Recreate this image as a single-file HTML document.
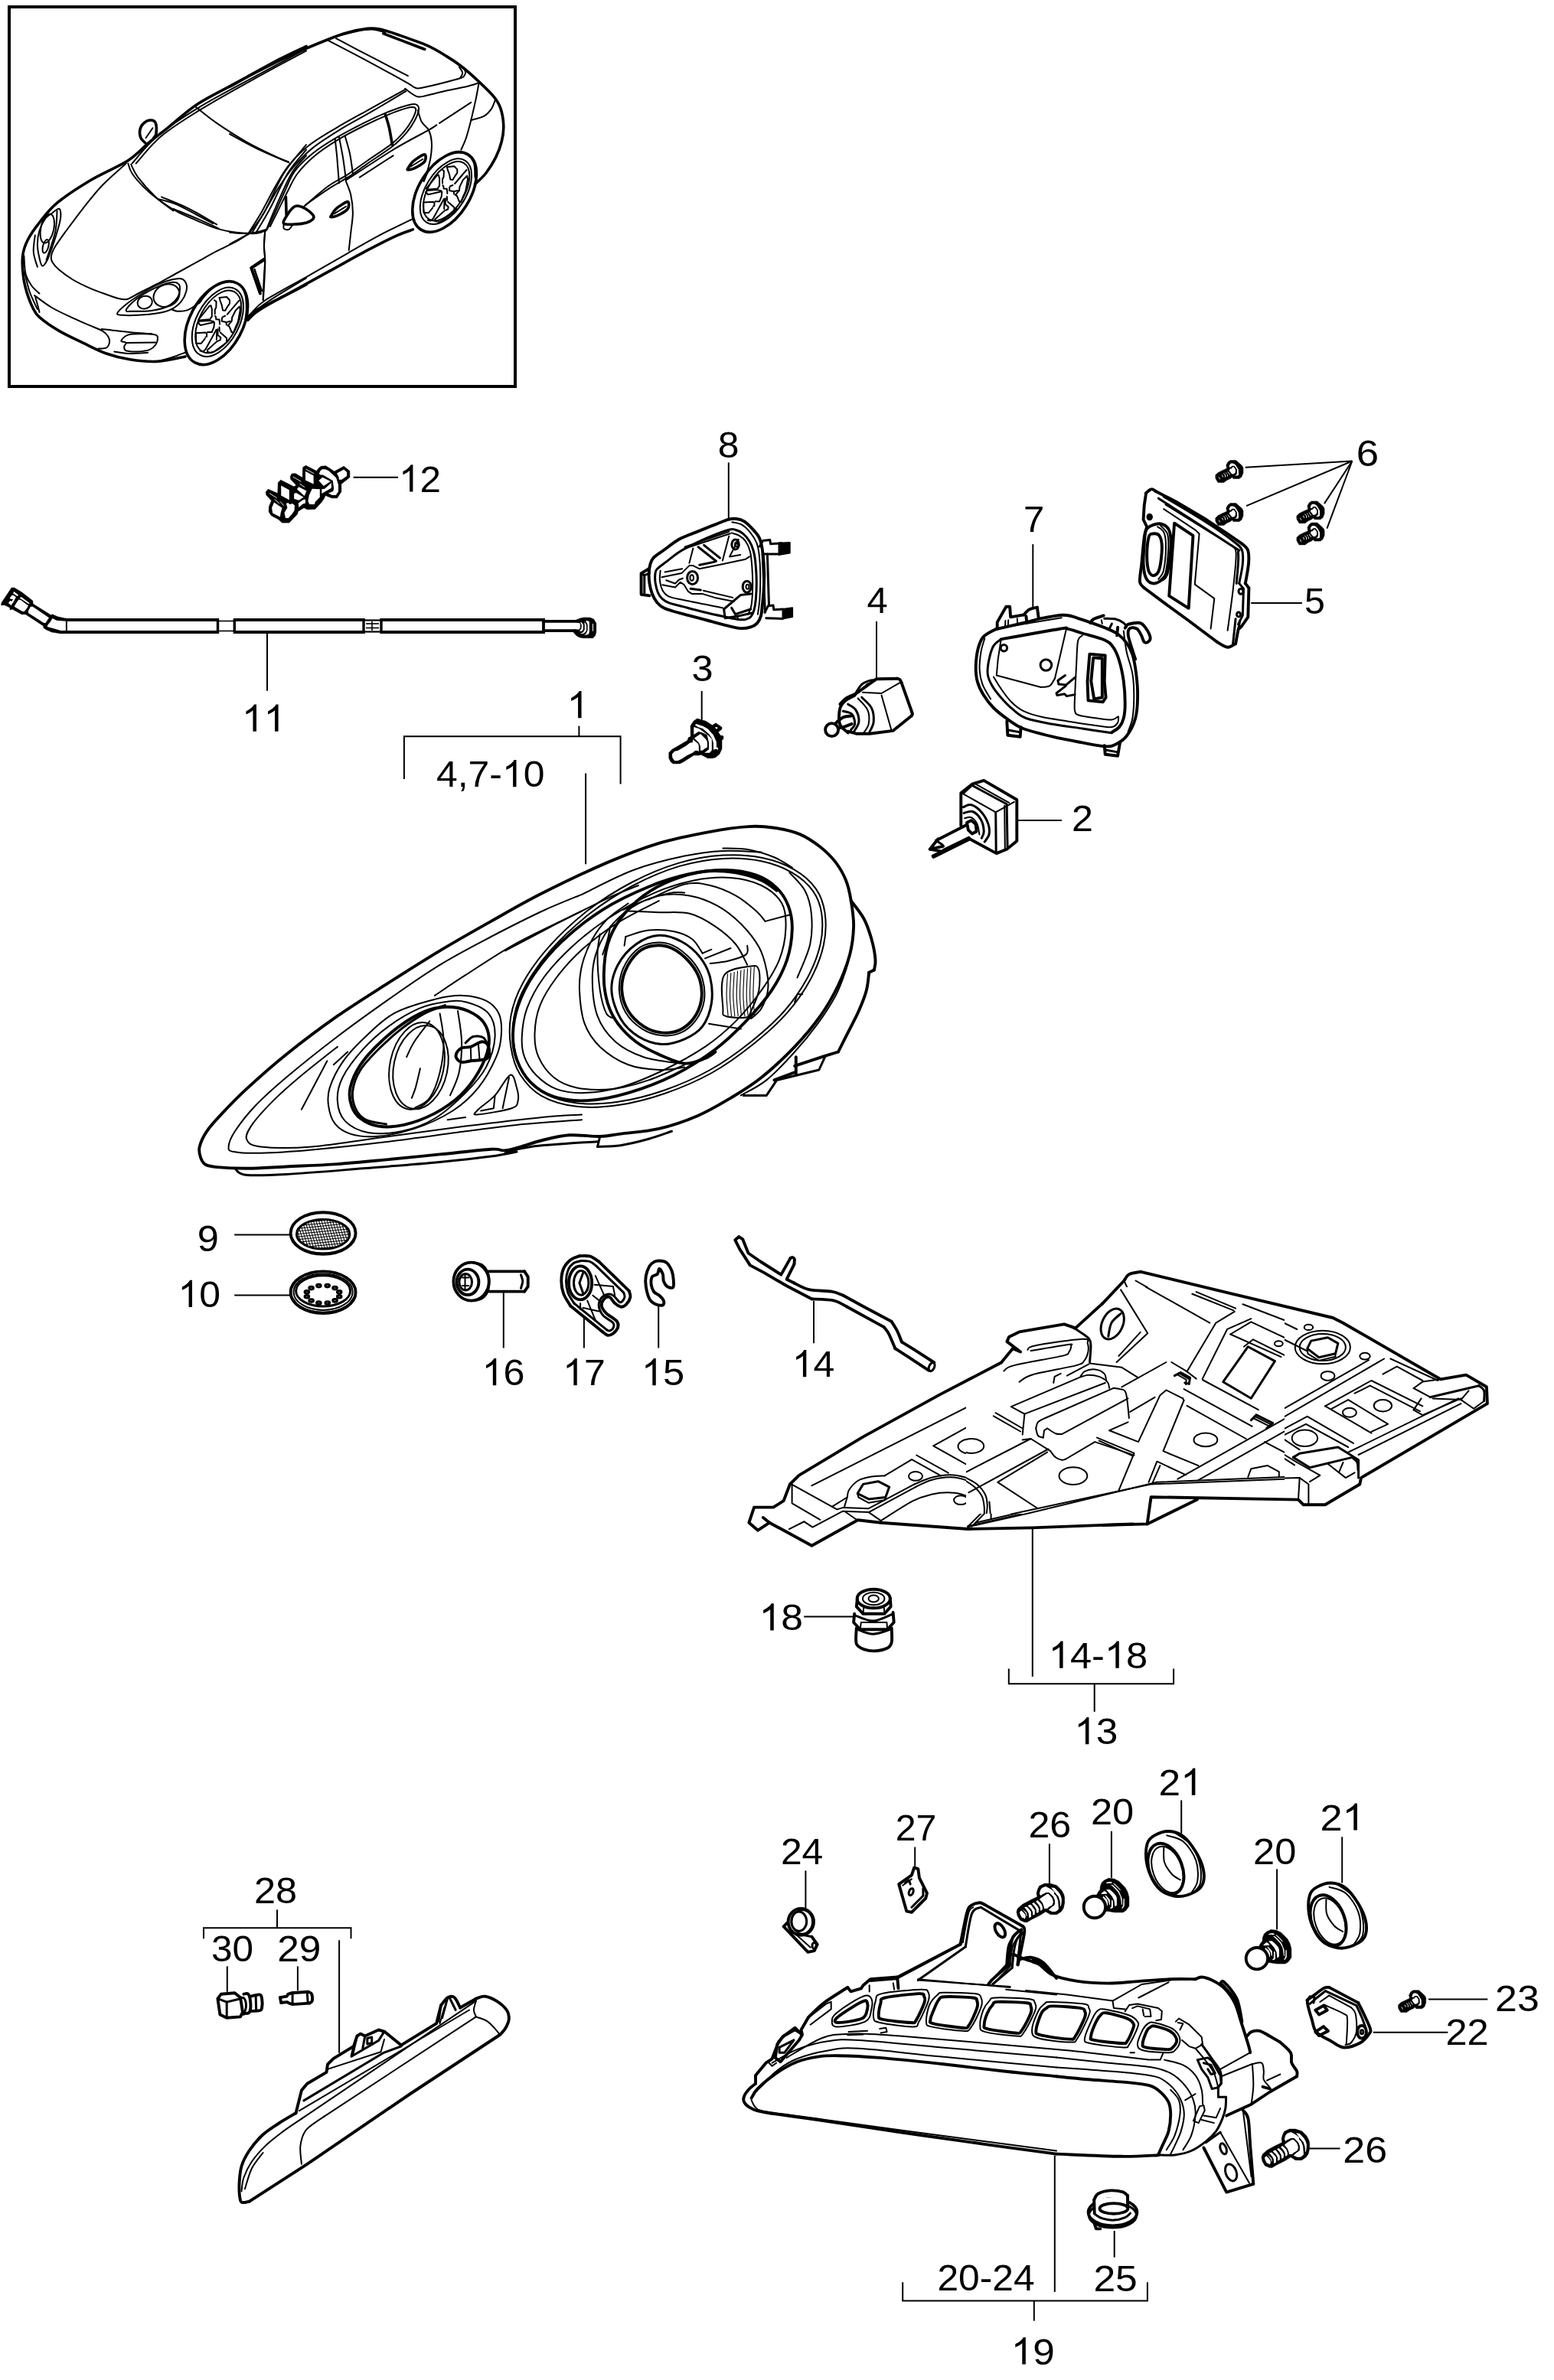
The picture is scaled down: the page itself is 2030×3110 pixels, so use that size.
<!DOCTYPE html>
<html><head><meta charset="utf-8"><title>diagram</title>
<style>html,body{margin:0;padding:0;background:#fff}svg{display:block}
text{font-family:"Liberation Sans",sans-serif;fill:#000}
path,ellipse{stroke-linecap:round;stroke-linejoin:round}</style></head>
<body><svg width="2030" height="3110" viewBox="0 0 2030 3110">
<rect width="2030" height="3110" fill="#fff"/>
<rect x="12" y="9" width="661" height="496" fill="none" stroke="#000" stroke-width="4"/>
<path d="M400 60.5 C394.3 63.3 380.7 69.3 365.5 77.2 C350.3 85.2 326.9 98.2 308.9 108.1 C290.9 118 272.4 126.6 257.4 136.4 C242.4 146.3 229.1 159.2 218.8 167.3 C208.5 175.5 204.2 178.2 195.6 185.3 C187 192.4 180.2 201.4 167.3 209.8 C154.4 218.1 133.8 226.3 118.4 235.5 C103 244.7 85.8 255.9 74.6 265.1 C63.5 274.3 57.9 282.7 51.5 290.9 C45 299 39.7 306.7 36 314 C32.4 321.3 30.5 326.9 29.6 334.6 C28.7 342.3 29.5 352.6 30.4 360.4 C31.2 368.1 32.7 374.1 34.7 381 C36.8 387.8 39.7 396 42.5 401.5 C45.3 407.1 45.7 409.3 51.5 414.4 C57.3 419.6 67.8 426.9 77.2 432.4 C86.7 438 97.8 442.9 108.1 447.9 C118.4 452.8 128.7 458.4 139 462 C149.3 465.7 158.7 468 169.9 469.8 C181 471.5 193.9 473 205.9 472.3 C217.9 471.7 236 467 242 465.9" fill="none" stroke="#000" stroke-width="3.6"/>
<path d="M400 63.8 C389.1 69.7 358 86.4 334.6 99.1 C311.3 111.8 281.4 127.2 260 140.3 C238.5 153.4 220.5 165.4 205.9 177.6 C191.3 189.8 178 207.6 172.5 213.6" fill="none" stroke="#000" stroke-width="2.0"/>
<path d="M400 66.4 C389.1 72.3 357.5 88.9 334.6 101.7 C311.7 114.4 283.1 130.2 262.5 142.9 C242 155.5 225.2 165.8 211.1 177.6 C196.9 189.4 183.2 207.6 177.6 213.6" fill="none" stroke="#000" stroke-width="2.0"/>
<path d="M254.8 139 C259.5 142.6 272 153.2 283.1 160.9 C294.3 168.6 308.9 178 321.8 185.3 C334.6 192.6 351.1 200.3 360.4 204.6 C369.6 209 374.3 210.4 377.1 211.6" fill="none" stroke="#000" stroke-width="2.0"/>
<path d="M400 189.2 C395.1 195.4 379.8 211.7 370.7 226.5 C361.5 241.3 352.6 264.7 344.9 278 C337.2 291.3 327.8 301.6 324.3 306.3" fill="none" stroke="#000" stroke-width="2.0"/>
<path d="M400 203.3 C396.8 207.2 387.6 215.4 381 226.5 C374.3 237.7 365.9 257.8 360.4 270.3 C354.8 282.7 349.6 296 347.5 301.2" fill="none" stroke="#000" stroke-width="2.0"/>
<path d="M400 195.6 C396 200.8 383.7 213.6 375.8 226.5 C367.9 239.4 359.5 260 352.6 272.8 C345.8 285.7 337.6 298.6 334.6 303.7" fill="none" stroke="#000" stroke-width="2.0"/>
<path d="M167.3 213.6 C168.2 215.8 169 221.4 172.5 226.5 C175.9 231.7 182.3 239 187.9 244.5 C193.5 250.1 198.6 254.6 205.9 260 C213.2 265.3 223.1 272 231.7 276.7 C240.2 281.4 248.8 284.6 257.4 288.3 C266 291.9 274.6 296 283.1 298.6 C291.7 301.2 300.3 302.7 308.9 303.7 C317.5 304.8 328.2 305.4 334.6 305 C341.1 304.6 345.3 301.8 347.5 301.2" fill="none" stroke="#000" stroke-width="2.0"/>
<path d="M171.2 214.9 C172.7 217.7 174.8 224.6 180.2 231.7 C185.5 238.7 195.6 250.1 203.3 257.4 C211.1 264.7 222.7 272.4 226.5 275.4" fill="none" stroke="#000" stroke-width="2.0"/>
<path d="M211.1 257.4 C217.1 260 235.1 266.8 247.1 272.8 C259.1 278.9 277.1 290 283.1 293.4" fill="none" stroke="#000" stroke-width="2.0"/>
<path d="M226.5 272.8 C231.7 275 247.5 281.4 257.4 285.7 C267.3 290 281 296.4 285.7 298.6" fill="none" stroke="#000" stroke-width="2.0"/>
<path d="M205.9 260 C210.2 261.3 219.6 262.3 231.7 267.7 C243.7 273.1 270.3 288.1 278 292.1" fill="none" stroke="#000" stroke-width="2.0"/>
<path d="M164.7 213.6 C159.6 218.4 143.3 232.1 133.8 242 C124.4 251.8 116.3 262.5 108.1 272.8 C100 283.1 91.2 295.2 84.9 303.7 C78.7 312.3 73.8 319.2 70.8 324.3 C67.8 329.5 67.4 331.6 66.9 334.6 C66.5 337.6 66.5 339.3 68.2 342.3 C69.9 345.3 72.7 348.8 77.2 352.6 C81.7 356.5 88.8 361.6 95.2 365.5 C101.7 369.4 108.5 372.6 115.8 375.8 C123.1 379 132.6 382.5 139 384.8 C145.4 387.2 150.2 388.9 154.4 390 C158.7 391 161.9 391.5 164.7 391.2 C167.5 391 170.1 389.1 171.2 388.7" fill="none" stroke="#000" stroke-width="2.0"/>
<path d="M325.6 305 C322.8 306.7 316 311.5 308.9 315.3 C301.8 319.2 291.7 323.7 283.1 328.2 C274.6 332.7 266 337.6 257.4 342.3 C248.8 347.1 240.2 351.8 231.7 356.5 C223.1 361.2 213.6 366.6 205.9 370.7 C198.2 374.7 191.1 377.9 185.3 381 C179.5 384 173.5 387.4 171.2 388.7" fill="none" stroke="#000" stroke-width="2.0"/>
<path d="M66.9 279.3 C69.9 277.1 75.2 272.2 77.2 272.8 C79.3 273.5 79.5 278.9 79.3 283.1 C79.1 287.4 77.6 292.6 75.9 298.6 C74.3 304.6 71.9 312.3 69.5 319.2 C67.1 326 64.1 335 61.8 339.8 C59.4 344.5 57.1 347.9 55.3 347.5 C53.6 347.1 52.6 341.9 51.5 337.2 C50.4 332.5 48.9 325.2 48.9 319.2 C48.9 313.2 49.8 306.7 51.5 301.2 C53.2 295.6 56.6 289.4 59.2 285.7 C61.8 282.1 63.9 281.4 66.9 279.3Z" fill="none" stroke="#000" stroke-width="2.0"/>
<ellipse cx="61.8" cy="298.6" rx="8.5" ry="19.3" transform="rotate(12 61.8 298.6)" fill="none" stroke="#000" stroke-width="2.0"/>
<ellipse cx="59.7" cy="321.8" rx="3.6" ry="9" transform="rotate(15 59.7 321.8)" fill="none" stroke="#000" stroke-width="2.0"/>
<path d="M45.8 307.6 C45.5 311.2 43.2 322.6 43.8 329.5 C44.3 336.3 48 345.6 48.9 348.8" fill="none" stroke="#000" stroke-width="2.0"/>
<path d="M74.6 275.4 C74.2 280.1 74.4 293 72.1 303.7 C69.7 314.5 62.4 333.8 60.5 339.8" fill="none" stroke="#000" stroke-width="2.0"/>
<path d="M153.2 409.3 C154 406.9 159.4 402 164.7 397.7 C170.1 393.4 178.5 387.8 185.3 383.5 C192.2 379.2 199.5 374.9 205.9 371.9 C212.4 368.9 218.8 366.8 223.9 365.5 C229.1 364.2 233.6 363.4 236.8 364.2 C240 365.1 242.2 367.9 243.2 370.7 C244.3 373.4 244.3 377.1 243.2 381 C242.2 384.8 240 390 236.8 393.8 C233.6 397.7 229.1 401.5 223.9 404.1 C218.8 406.7 213.2 408 205.9 409.3 C198.6 410.6 187.9 411.4 180.2 411.8 C172.5 412.3 164.1 412.3 159.6 411.8 C155.1 411.4 152.3 411.6 153.2 409.3Z" fill="none" stroke="#000" stroke-width="2.0"/>
<path d="M164.7 405.4 C165.2 402.8 171.6 396 177.6 391.2 C183.6 386.5 193.5 380.7 200.8 377.1 C208.1 373.4 216 370.4 221.4 369.4 C226.7 368.3 230.7 368.7 232.9 370.7 C235.2 372.6 235.4 377.3 234.7 381 C234.1 384.6 232.2 389.1 229.1 392.5 C226 396 221.8 399.3 216.2 401.5 C210.6 403.8 202.5 405.3 195.6 406.2 C188.8 407 180.2 406.8 175 406.7 C169.9 406.6 164.3 408 164.7 405.4Z" fill="none" stroke="#000" stroke-width="2.0"/>
<ellipse cx="217.5" cy="386.1" rx="17.5" ry="14.2" transform="rotate(-25 217.5 386.1)" fill="none" stroke="#000" stroke-width="2.0"/>
<ellipse cx="189.2" cy="395.1" rx="9.8" ry="8.2" transform="rotate(-20 189.2 395.1)" fill="none" stroke="#000" stroke-width="2.0"/>
<path d="M31.4 334.6 C31.7 338.5 31.8 351.4 33.5 357.8 C35.1 364.2 38.2 368.9 41.2 373.2 C44.2 377.5 49.8 381.8 51.5 383.5" fill="none" stroke="#000" stroke-width="2.0"/>
<path d="M45 386.1 C48.7 388.7 59 396.8 66.9 401.5 C74.9 406.3 84.5 410.6 92.7 414.4 C100.8 418.3 109 421.7 115.8 424.7 C122.7 427.7 129.6 429.9 133.8 432.4 C138.1 435 140.1 437.6 141.6 440.2 C143.1 442.7 143.3 445.5 142.9 447.9 C142.4 450.2 141.4 453 139 454.3 C136.6 455.6 130.4 455.4 128.7 455.6" fill="none" stroke="#000" stroke-width="2.0"/>
<path d="M46.3 388.7 C46.8 390.2 48 394.5 48.9 397.7 C49.8 400.9 51.1 406.3 51.5 408" fill="none" stroke="#000" stroke-width="2.0"/>
<path d="M32.2 355.2 C33.2 359.5 35.8 372.8 38.6 381 C41.4 389.1 47.2 400.3 48.9 404.1" fill="none" stroke="#000" stroke-width="2.0"/>
<path d="M158.3 445.3 C158.7 443.6 162.8 439.1 167.3 437.6 C171.8 436.1 179.3 436.3 185.3 436.3 C191.3 436.3 199.9 436.5 203.3 437.6 C206.8 438.7 205.9 440.6 205.9 442.7 C205.9 444.9 205.1 448.1 203.3 450.5 C201.6 452.8 199.5 455.4 195.6 456.9 C191.8 458.4 185.3 459.2 180.2 459.5 C175 459.7 167.7 459.2 164.7 458.2 C161.7 457.1 162.2 454.7 162.2 453 C162.2 451.3 165.4 449.2 164.7 447.9 C164.1 446.6 157.9 447 158.3 445.3Z" fill="none" stroke="#000" stroke-width="2.0"/>
<path d="M164.7 447.9 L203.3 447.4" fill="none" stroke="#000" stroke-width="2.0"/>
<path d="M132.6 429.9 C136.2 430.3 146.5 431.6 154.4 432.4 C162.4 433.3 172.9 434.4 180.2 435 C187.5 435.6 195.2 436.1 198.2 436.3" fill="none" stroke="#000" stroke-width="2.0"/>
<path d="M149.3 459.5 C152.3 459.9 160 461.8 167.3 462 C174.6 462.2 188.8 461 193.1 460.7" fill="none" stroke="#000" stroke-width="2.0"/>
<path d="M205.9 472.3 C208.9 471.5 217.9 469.1 223.9 467.2 C229.9 465.3 239 461.8 242 460.7" fill="none" stroke="#000" stroke-width="2.0"/>
<path d="M223.9 404.1 C225.2 404.5 228.2 406.5 231.7 406.7 C235.1 406.9 240.2 406.9 244.5 405.4 C248.8 403.9 254.4 399.6 257.4 397.7 C260.4 395.8 261.7 394.5 262.5 393.8" fill="none" stroke="#000" stroke-width="2.0"/>
<path d="M260 396.4 C261.7 394.3 266.4 387.4 270.3 383.5 C274.1 379.7 278 375.8 283.1 373.2 C288.3 370.7 296 368.1 301.2 368.1 C306.3 368.1 310.8 370.2 314 373.2 C317.2 376.2 319.2 381 320.5 386.1 C321.8 391.2 321.8 399 321.8 404.1 C321.8 409.3 320.7 414.8 320.5 417" fill="none" stroke="#000" stroke-width="2.0"/>
<ellipse cx="282.4" cy="422.1" rx="58.7" ry="34.7" transform="rotate(-62 282.4 422.1)" fill="none" stroke="#000" stroke-width="3.6"/>
<ellipse cx="284.4" cy="420.8" rx="48.9" ry="27.8" transform="rotate(-62 284.4 420.8)" fill="none" stroke="#000" stroke-width="2.0"/>
<ellipse cx="285.2" cy="420.3" rx="44.3" ry="24.5" transform="rotate(-62 285.2 420.3)" fill="none" stroke="#000" stroke-width="2.0"/>
<path d="M346.2 302.4 C346 305.7 344.9 315.5 344.9 321.8 C344.9 328 346.2 333.3 346.2 339.8 C346.2 346.2 345.3 351.8 344.9 360.4 C344.5 368.9 343.8 386.1 343.6 391.2" fill="none" stroke="#000" stroke-width="2.0"/>
<path d="M344.9 338.5 L328.2 350.1 L339.8 383.5" fill="none" stroke="#000" stroke-width="3.6"/>
<path d="M332.6 352.1 L342.3 380.4" fill="none" stroke="#000" stroke-width="2.0"/>
<path d="M323.8 418.3 C325.6 416.6 328.5 412.3 334.6 408 C340.7 403.7 349.5 398.5 360.4 392.5 C371.3 386.5 393.4 375.4 400 371.9" fill="none" stroke="#000" stroke-width="3.6"/>
<path d="M332 406.7 C336.8 403.5 349 394.6 360.4 387.4 C371.7 380.2 393.4 367.4 400 363.4" fill="none" stroke="#000" stroke-width="2.0"/>
<path d="M191 187.9 C189.8 186.6 185.4 183.2 184 180.2 C182.7 177.2 182.1 173.1 182.8 169.9 C183.4 166.7 185.5 163 187.9 160.9 C190.3 158.7 194.3 157 196.9 157 C199.5 157 202.2 157.9 203.3 160.9 C204.5 163.9 204.3 171.8 203.9 175 C203.4 178.2 201.3 179.3 200.8 180.2" fill="none" stroke="#000" stroke-width="3.6"/>
<path d="M190.5 180.2 L199.5 167.3" fill="none" stroke="#000" stroke-width="2.0"/>
<path d="M300 113.3 C304.3 110.9 312.9 105.7 325.7 99.1 C338.6 92.4 360.1 81.3 377.2 73.4 C394.4 65.4 415.8 56.6 428.7 51.5 C441.6 46.3 445.9 44.8 454.4 42.5 C463 40.1 473.3 38.1 480.2 37.3 C487 36.6 489.2 36.8 495.6 38.1 C502.1 39.4 508.5 41.5 518.8 45 C529.1 48.6 546.7 54.5 557.4 59.2 C568.1 63.9 575.4 68.6 583.1 73.4 C590.9 78.1 596.9 82.2 603.7 87.5 C610.6 92.9 617.5 99.1 624.3 105.5 C631.2 112 640 120.1 644.9 126.1 C649.8 132.1 651.8 135.1 653.9 141.6 C656.1 148 657.6 157.4 657.8 164.7 C658 172 656.9 178.5 655.2 185.3 C653.5 192.2 650.9 199.1 647.5 205.9 C644.1 212.8 639.1 220.7 634.6 226.5 C630.1 232.3 622.8 238.3 620.5 240.7" fill="none" stroke="#000" stroke-width="3.6"/>
<path d="M439 47.6 C443.3 46.5 457 42.7 464.7 41.2 C472.5 39.7 478.9 38.4 485.3 38.6 C491.8 38.8 500.3 41.8 503.3 42.5" fill="none" stroke="#000" stroke-width="2.0"/>
<path d="M500.8 43.8 C508.1 46.5 535.5 57.1 544.5 60.5 C553.5 63.9 553.1 63.7 554.8 64.4" fill="none" stroke="#000" stroke-width="3.6"/>
<path d="M428.7 52.8 C437.3 57.3 463 70.6 480.2 79.8 C497.3 89 521.4 102.3 531.7 108.1 C542 113.9 538.5 113.5 542 114.5 C545.4 115.6 542.8 116.5 552.3 114.5 C561.7 112.6 589.6 105.5 598.6 103 C607.6 100.4 604.8 100.8 606.3 99.1 C607.8 97.4 608.5 95 607.6 92.7 C606.7 90.3 602.2 86.2 601.2 84.9" fill="none" stroke="#000" stroke-width="2.0"/>
<path d="M439 50.2 C447.6 54.7 474.8 69.1 490.5 77.2 C506.1 85.4 525.9 95.5 532.9 99.1" fill="none" stroke="#000" stroke-width="2.0"/>
<path d="M601.2 101.7 C601.7 100.6 604.5 97.6 604.2 95.2 C604 92.9 600.6 88.8 599.9 87.5" fill="none" stroke="#000" stroke-width="2.0"/>
<path d="M529.1 115.8 C531.7 117.5 539.8 124.6 544.5 126.1 C549.2 127.6 551 126.1 557.4 124.8 C563.8 123.6 574.6 120.3 583.1 118.4 C591.7 116.5 601.8 115 608.9 113.3 C616 111.5 622.8 109 625.6 108.1" fill="none" stroke="#000" stroke-width="2.0"/>
<path d="M625.6 108.1 C625 111.5 623.5 120.5 621.8 128.7 C620 136.9 617.5 148.4 615.3 157 C613.2 165.6 611 173.7 608.9 180.2 C606.7 186.6 603.5 193.1 602.4 195.6" fill="none" stroke="#000" stroke-width="2.0"/>
<path d="M615.3 157 C618.1 156.2 627.5 154.4 632 151.9 C636.6 149.3 639.8 145.4 642.3 141.6 C644.9 137.7 646.6 130.8 647.5 128.7" fill="none" stroke="#000" stroke-width="2.0"/>
<path d="M324.5 305 C327.2 300.5 335.4 288.1 341.2 278 C347 267.9 353.2 254.8 359.2 244.5 C365.2 234.2 369.9 225.2 377.2 216.2 C384.5 207.2 392.7 198.6 403 190.5 C413.3 182.3 426.1 175 439 167.3 C451.9 159.6 465.2 152.5 480.2 144.1 C495.2 135.8 520.9 121.6 529.1 117.1" fill="none" stroke="#000" stroke-width="2.0"/>
<path d="M328.8 305 C331.7 300.1 340.4 285.5 346.3 275.4 C352.3 265.3 358.3 253.9 364.4 244.5 C370.4 235.2 375.1 227.8 382.4 219.3 C389.7 210.8 397.8 201.9 408.1 193.6 C418.4 185.2 431.3 177.3 444.1 169.4 C457 161.4 471 154.3 485.3 145.9 C499.7 137.6 522.9 123.6 530.4 119.2" fill="none" stroke="#000" stroke-width="2.0"/>
<path d="M348.9 299.9 C350.6 296.2 355.3 286.4 359.2 278 C363.1 269.6 367.8 258.7 372.1 249.7 C376.4 240.7 378.9 232.1 384.9 223.9 C390.9 215.8 399.1 208.1 408.1 200.8 C417.1 193.5 427.8 186.8 439 180.2 C450.2 173.5 463.9 166.5 475 160.9 C486.2 155.3 496.5 150.6 505.9 146.7 C515.4 142.9 525.4 139.4 531.7 137.7 C537.9 136 540.7 135.6 543.2 136.4 C545.8 137.3 547.3 139.4 547.1 142.9 C546.9 146.3 544.5 152.1 542 157 C539.4 161.9 536.4 166.9 531.7 172.5 C526.9 178 522.2 183.6 513.6 190.5 C505.1 197.3 490 206.8 480.2 213.6 C470.3 220.5 463 226.1 454.4 231.7 C445.9 237.2 437.9 241.1 428.7 247.1 C419.5 253.1 404 264.3 399.1 267.7" fill="none" stroke="#000" stroke-width="2.0"/>
<path d="M352.8 296 C354.5 292.6 359.2 283.1 363.1 275.4 C366.9 267.7 371.6 257.8 375.9 249.7 C380.2 241.5 383 234.1 388.8 226.5 C394.6 218.9 402.1 211.1 410.7 203.9 C419.3 196.7 429.3 189.9 440.3 183.3 C451.2 176.6 465.2 169.5 476.3 164 C487.5 158.4 498 153.6 507.2 149.8 C516.4 146 526.1 142.6 531.7 141.1 C537.2 139.5 538.7 139.8 540.7 140.3 C542.6 140.8 543.7 141.4 543.2 144.1 C542.8 146.9 540.5 152.6 538.1 157 C535.7 161.4 533.4 165.3 529.1 170.4 C524.8 175.5 520.5 180.8 512.4 187.4 C504.2 194 489.8 203 480.2 209.8 C470.5 216.5 463 222.2 454.4 227.8 C445.9 233.4 438.4 236.2 428.7 243.2 C419 250.3 401.9 265.8 396.5 270.3" fill="none" stroke="#000" stroke-width="2.0"/>
<path d="M437.7 181.5 C438.1 185.5 439.4 196.3 440.3 205.9 C441.1 215.6 442.4 233.8 442.9 239.4" fill="none" stroke="#000" stroke-width="2.0"/>
<path d="M442.9 178.9 C443.7 183.4 446.5 196.7 448 205.9 C449.5 215.1 451.2 229.5 451.9 234.2" fill="none" stroke="#000" stroke-width="2.0"/>
<path d="M450.6 177.6 C451.7 181.5 455.3 192.6 457 200.8 C458.7 208.9 460.2 222.2 460.9 226.5" fill="none" stroke="#000" stroke-width="2.0"/>
<path d="M503.3 149.3 C504.2 152.3 507 160.7 508.5 167.3 C510 174 511.7 185.5 512.4 189.2" fill="none" stroke="#000" stroke-width="3.6"/>
<path d="M451.9 235.5 C462.2 228.9 495.6 206.6 513.6 195.6 C531.7 184.7 550.5 175.2 560 169.9 C569.4 164.5 568.6 164.5 570.3 163.4" fill="none" stroke="#000" stroke-width="2.0"/>
<path d="M469.9 231.7 L513.6 203.3" fill="none" stroke="#000" stroke-width="2.0"/>
<path d="M574.1 160.9 L615.3 133.8" fill="none" stroke="#000" stroke-width="2.0"/>
<path d="M346.3 301.2 C346.1 304.6 345 314.9 345 321.8 C345 328.6 346.3 333.8 346.3 342.3 C346.3 350.9 345.5 364.9 345 373.2 C344.6 381.6 344 389.3 343.8 392.5" fill="none" stroke="#000" stroke-width="2.0"/>
<path d="M451.9 236.8 C452.9 239.8 456.8 248 458.3 254.8 C459.8 261.7 460.9 269.8 460.9 278 C460.9 286.1 459.2 295.6 458.3 303.7 C457.4 311.9 456.2 323 455.7 326.9" fill="none" stroke="#000" stroke-width="2.0"/>
<path d="M545.8 144.1 C546.7 146.7 548.6 155.3 551 159.6 C553.3 163.9 557.8 165.6 560 169.9 C562.1 174.2 563.4 179.3 563.8 185.3 C564.3 191.3 563.6 199.1 562.5 205.9 C561.5 212.8 558.9 221.4 557.4 226.5 C555.9 231.7 554.2 235.1 553.5 236.8" fill="none" stroke="#000" stroke-width="2.0"/>
<path d="M432.6 281.9 C433.6 280.1 435.6 275.8 439 272.8 C442.4 269.8 450.4 264.7 453.2 263.8 C455.9 263 455.7 266 455.7 267.7 C455.7 269.4 455.7 271.8 453.2 274.1 C450.6 276.5 443.7 280.3 440.3 281.9 C436.9 283.4 433.8 283.7 432.6 283.7 C431.3 283.7 431.5 283.7 432.6 281.9Z" fill="none" stroke="#000" stroke-width="3.6"/>
<path d="M436.4 279.3 L451.9 269.8" fill="none" stroke="#000" stroke-width="2.0"/>
<path d="M532.9 220.1 C534 218.3 536 214.1 539.4 211.1 C542.8 208.1 550.8 202.9 553.5 202.1 C556.3 201.2 556.1 204.2 556.1 205.9 C556.1 207.6 556.1 210 553.5 212.4 C551 214.7 544.1 218.5 540.7 220.1 C537.2 221.7 534.2 221.9 532.9 221.9 C531.7 221.9 531.9 221.9 532.9 220.1Z" fill="none" stroke="#000" stroke-width="3.6"/>
<path d="M536.8 217.5 L552.3 208" fill="none" stroke="#000" stroke-width="2.0"/>
<path d="M370.8 292.1 C368.6 290.3 372.7 285.3 374.6 281.9 C376.6 278.4 380 273.7 382.4 271.6 C384.7 269.4 386 268.8 388.8 269 C391.6 269.2 395.7 270.7 399.1 272.8 C402.5 275 407.9 279.5 409.4 281.9 C410.9 284.2 409.6 285.5 408.1 287 C406.6 288.5 403.8 289.9 400.4 290.9 C397 291.8 392.4 292.7 387.5 292.9 C382.6 293.1 372.9 294 370.8 292.1Z" fill="none" stroke="#000" stroke-width="3.6"/>
<path d="M370.8 292.1 C370.8 293.2 369.7 297.3 370.8 298.6 C371.9 299.9 375.3 300.7 377.2 299.9 C379.2 299 381.5 294.5 382.4 293.4" fill="none" stroke="#000" stroke-width="2.0"/>
<path d="M373.4 257.4 L374.1 280.6" fill="none" stroke="#000" stroke-width="3.6"/>
<path d="M300 303.7 C302.6 303.9 309.9 305 315.4 305 C321 305 328.1 304.6 333.5 303.7 C338.8 302.9 345.3 300.5 347.6 299.9" fill="none" stroke="#000" stroke-width="2.0"/>
<path d="M300 319.2 L323.2 306.3" fill="none" stroke="#000" stroke-width="2.0"/>
<path d="M300 175 C306.4 178.5 325.7 189.4 338.6 195.6 C351.5 201.8 370.8 209.6 377.2 212.4" fill="none" stroke="#000" stroke-width="2.0"/>
<path d="M321.9 417 C323.8 415.3 324.2 412.3 333.5 406.7 C342.7 401.1 361.3 392.1 377.2 383.5 C393.1 374.9 411.5 364.7 428.7 355.2 C445.9 345.8 465.2 334.8 480.2 326.9 C495.2 319 508.9 312.1 518.8 307.6 C528.7 303.1 536 301.2 539.4 299.9" fill="none" stroke="#000" stroke-width="3.6"/>
<path d="M328.3 409.3 C331.3 406.5 333.9 400.7 346.3 392.5 C358.8 384.4 384.9 370.7 403 360.4 C421 350.1 439.4 339.3 454.4 330.8 C469.5 322.2 480.2 315.7 493.1 308.9 C505.9 302 523.9 293.4 531.7 289.6 C539.4 285.8 538.1 286.8 539.4 286.2" fill="none" stroke="#000" stroke-width="2.0"/>
<ellipse cx="580.6" cy="251" rx="57.9" ry="33.5" transform="rotate(-58 580.6 251)" fill="none" stroke="#000" stroke-width="3.6"/>
<ellipse cx="582.4" cy="250.2" rx="47.6" ry="26.3" transform="rotate(-58 582.4 250.2)" fill="none" stroke="#000" stroke-width="2.0"/>
<ellipse cx="583.1" cy="249.7" rx="43.2" ry="23.2" transform="rotate(-58 583.1 249.7)" fill="none" stroke="#000" stroke-width="2.0"/>
<path d="M553.5 236.8 C555 233.8 558.5 223.9 562.5 218.8 C566.6 213.6 572.4 209.1 578 205.9 C583.6 202.7 590.4 200.1 596 199.5 C601.6 198.8 607.6 199.7 611.5 202.1 C615.3 204.4 617.7 208.7 619.2 213.6 C620.7 218.6 620.2 228.7 620.5 231.7" fill="none" stroke="#000" stroke-width="2.0"/>
<path d="M345 339.8 L328.3 350.1 L339.9 383.5" fill="none" stroke="#000" stroke-width="3.6"/>
<path d="M332.4 351.6 L341.2 380.4" fill="none" stroke="#000" stroke-width="2.0"/>
<path d="M259.5 417.3 L273.6 399.9 L275.5 399.3 L276.8 403.8 L276.8 413.4 L274.3 417.3 L260.7 418.6 L259.5 417.3" fill="none" stroke="#000" stroke-width="2.0"/>
<path d="M286.5 389 L296.1 388 L300 392.2 L300 396.7 L296.8 401.2 L294.2 405.7 L291 405.4 L289.7 398.6 L287.8 393.5 L286.5 389" fill="none" stroke="#000" stroke-width="2.0"/>
<path d="M280 392.2 L282.6 394.1 L282.3 401.8 L280.7 405 L280.7 410.2" fill="none" stroke="#000" stroke-width="2.0"/>
<path d="M281 412.8 L282 414.1 L282.3 417.3 L286.5 417.6 L287.1 423.7" fill="none" stroke="#000" stroke-width="2.0"/>
<path d="M296.8 410.8 L312.2 392.8" fill="none" stroke="#000" stroke-width="2.0"/>
<path d="M291 414.1 L294.2 412.8" fill="none" stroke="#000" stroke-width="2.0"/>
<path d="M312.9 400.5 L307.7 405.7 L303.2 414.7 L302.6 419.8 L297.4 425.6 L299.4 426.3 L302.6 434 L305.1 434.6 L307.7 427.6 L310.9 420.5 L313.8 405 L312.9 400.5" fill="none" stroke="#000" stroke-width="2.0"/>
<path d="M290 415.3 L289.7 419.8 L295.5 421.1 L300.6 419.8" fill="none" stroke="#000" stroke-width="2.0"/>
<path d="M295.5 421.1 L295.8 424.4" fill="none" stroke="#000" stroke-width="2.0"/>
<path d="M287.8 434.6 L296.1 441.7 L296.1 445.6" fill="none" stroke="#000" stroke-width="2.0"/>
<path d="M286.5 427.6 L286.8 432.7" fill="none" stroke="#000" stroke-width="2.0"/>
<path d="M284.5 430.1 L284.5 437.9 L288.4 441.1 L287.8 444.3 L283.3 446.2 L271 457.2 L271 459.7 L273.6 460.4" fill="none" stroke="#000" stroke-width="2.0"/>
<path d="M255.9 435.3 L268.5 434.6 L270.1 435.9 L270.1 439.8 L268.5 440.4" fill="none" stroke="#000" stroke-width="2.0"/>
<path d="M267.8 442.4 L262.7 448.8 L256.2 448.8 L255.9 435.3" fill="none" stroke="#000" stroke-width="2.0"/>
<path d="M271 434 L276.8 434 L279.4 427.6 L280 421.8 L279.4 421.1 L262 425 L258.8 421.8 L260.7 419.8 L274.3 418.9 L279.4 420.2" fill="none" stroke="#000" stroke-width="2.0"/>
<path d="M282.6 430.8 L276.2 442.4 L268.5 456.5 L265.2 459.4 L261.4 458.5" fill="none" stroke="#000" stroke-width="2.0"/>
<path d="M283.3 431.4 L282.9 443.7" fill="none" stroke="#000" stroke-width="2.0"/>
<path d="M275.5 461 L280 459.4 L296.1 447.5 L299.4 443.7" fill="none" stroke="#000" stroke-width="2.0"/>
<path d="M556.8 246.5 L570.9 229.1 L572.8 228.5 L574.1 233 L574.1 242.6 L571.6 246.5 L558 247.8 L556.8 246.5" fill="none" stroke="#000" stroke-width="2.0"/>
<path d="M583.8 218.2 L593.4 217.2 L597.3 221.4 L597.3 225.9 L594.1 230.4 L591.5 234.9 L588.3 234.6 L587 227.8 L585.1 222.7 L583.8 218.2" fill="none" stroke="#000" stroke-width="2.0"/>
<path d="M577.3 221.4 L579.9 223.3 L579.6 231 L578 234.2 L578 239.4" fill="none" stroke="#000" stroke-width="2.0"/>
<path d="M578.3 242 L579.3 243.3 L579.6 246.5 L583.8 246.8 L584.4 252.9" fill="none" stroke="#000" stroke-width="2.0"/>
<path d="M594.1 240 L609.5 222" fill="none" stroke="#000" stroke-width="2.0"/>
<path d="M588.3 243.3 L591.5 242" fill="none" stroke="#000" stroke-width="2.0"/>
<path d="M610.2 229.7 L605 234.9 L600.5 243.9 L599.9 249 L594.7 254.8 L596.7 255.5 L599.9 263.2 L602.4 263.8 L605 256.8 L608.2 249.7 L611.1 234.2 L610.2 229.7" fill="none" stroke="#000" stroke-width="2.0"/>
<path d="M587.3 244.5 L587 249 L592.8 250.3 L597.9 249" fill="none" stroke="#000" stroke-width="2.0"/>
<path d="M592.8 250.3 L593.1 253.6" fill="none" stroke="#000" stroke-width="2.0"/>
<path d="M585.1 263.8 L593.4 270.9 L593.4 274.8" fill="none" stroke="#000" stroke-width="2.0"/>
<path d="M583.8 256.8 L584.1 261.9" fill="none" stroke="#000" stroke-width="2.0"/>
<path d="M581.8 259.3 L581.8 267.1 L585.7 270.3 L585.1 273.5 L580.6 275.4 L568.3 286.4 L568.3 288.9 L570.9 289.6" fill="none" stroke="#000" stroke-width="2.0"/>
<path d="M553.2 264.5 L565.8 263.8 L567.4 265.1 L567.4 269 L565.8 269.6" fill="none" stroke="#000" stroke-width="2.0"/>
<path d="M565.1 271.6 L560 278 L553.5 278 L553.2 264.5" fill="none" stroke="#000" stroke-width="2.0"/>
<path d="M568.3 263.2 L574.1 263.2 L576.7 256.8 L577.3 251 L576.7 250.3 L559.3 254.2 L556.1 251 L558 249 L571.6 248.1 L576.7 249.4" fill="none" stroke="#000" stroke-width="2.0"/>
<path d="M579.9 260 L573.5 271.6 L565.8 285.7 L562.5 288.6 L558.7 287.7" fill="none" stroke="#000" stroke-width="2.0"/>
<path d="M580.6 260.6 L580.2 272.9" fill="none" stroke="#000" stroke-width="2.0"/>
<path d="M572.8 290.2 L577.3 288.6 L593.4 276.7 L596.7 272.9" fill="none" stroke="#000" stroke-width="2.0"/>
<path d="M763 0H583V1147Q518 1085 412.5 1023Q307 961 223 930V1104Q374 1175 487 1276Q600 1377 647 1472H763Z" fill="#000" stroke="none" transform="translate(740.6 938.3) scale(0.02483 -0.02393)"/>
<text font-size="49" transform="translate(570 1028.2) scale(1.018 1)">4</text><text font-size="49" transform="translate(597.7 1028.2) scale(1.018 1)">,</text><text font-size="49" transform="translate(611.6 1028.2) scale(1.018 1)">7</text><text font-size="49" transform="translate(639.3 1028.2) scale(1.018 1)">-</text><path d="M763 0H583V1147Q518 1085 412.5 1023Q307 961 223 930V1104Q374 1175 487 1276Q600 1377 647 1472H763Z" fill="#000" stroke="none" transform="translate(655.9 1028.2) scale(0.02436 -0.02393)"/><text font-size="49" transform="translate(683.7 1028.2) scale(1.018 1)">0</text>
<path d="M763 0H583V1147Q518 1085 412.5 1023Q307 961 223 930V1104Q374 1175 487 1276Q600 1377 647 1472H763Z" fill="#000" stroke="none" transform="translate(521 642.5) scale(0.02414 -0.02393)"/><text font-size="49" transform="translate(548.4 642.5) scale(1.009 1)">2</text>
<path d="M763 0H583V1147Q518 1085 412.5 1023Q307 961 223 930V1104Q374 1175 487 1276Q600 1377 647 1472H763Z" fill="#000" stroke="none" transform="translate(315.8 955.8) scale(0.02512 -0.02393)"/><path d="M763 0H583V1147Q518 1085 412.5 1023Q307 961 223 930V1104Q374 1175 487 1276Q600 1377 647 1472H763Z" fill="#000" stroke="none" transform="translate(344.4 955.8) scale(0.02512 -0.02393)"/>
<text font-size="49" transform="translate(937.7 597.5) scale(1.017 1)">8</text>
<text font-size="49" transform="translate(903.5 889.8) scale(1.03 1)">3</text>
<text font-size="49" transform="translate(1132.4 800.7) scale(1.0 1)">4</text>
<text font-size="49" transform="translate(1337 694.9) scale(1.0 1)">7</text>
<text font-size="49" transform="translate(1771.8 609) scale(1.077 1)">6</text>
<text font-size="49" transform="translate(1704 801.8) scale(0.987 1)">5</text>
<text font-size="49" transform="translate(1400 1086) scale(1.026 1)">2</text>
<text font-size="49" transform="translate(257.8 1635.2) scale(1.03 1)">9</text>
<path d="M763 0H583V1147Q518 1085 412.5 1023Q307 961 223 930V1104Q374 1175 487 1276Q600 1377 647 1472H763Z" fill="#000" stroke="none" transform="translate(232.4 1708) scale(0.02438 -0.02393)"/><text font-size="49" transform="translate(260.2 1708) scale(1.019 1)">0</text>
<path d="M763 0H583V1147Q518 1085 412.5 1023Q307 961 223 930V1104Q374 1175 487 1276Q600 1377 647 1472H763Z" fill="#000" stroke="none" transform="translate(629.5 1810.3) scale(0.02455 -0.02393)"/><text font-size="49" transform="translate(657.4 1810.3) scale(1.026 1)">6</text>
<path d="M763 0H583V1147Q518 1085 412.5 1023Q307 961 223 930V1104Q374 1175 487 1276Q600 1377 647 1472H763Z" fill="#000" stroke="none" transform="translate(735.1 1810.3) scale(0.02443 -0.02393)"/><text font-size="49" transform="translate(762.9 1810.3) scale(1.021 1)">7</text>
<path d="M763 0H583V1147Q518 1085 412.5 1023Q307 961 223 930V1104Q374 1175 487 1276Q600 1377 647 1472H763Z" fill="#000" stroke="none" transform="translate(837.9 1810.3) scale(0.02474 -0.02393)"/><text font-size="49" transform="translate(866.1 1810.3) scale(1.034 1)">5</text>
<path d="M763 0H583V1147Q518 1085 412.5 1023Q307 961 223 930V1104Q374 1175 487 1276Q600 1377 647 1472H763Z" fill="#000" stroke="none" transform="translate(1034.7 1799.3) scale(0.02438 -0.02393)"/><text font-size="49" transform="translate(1062.5 1799.3) scale(1.019 1)">4</text>
<path d="M763 0H583V1147Q518 1085 412.5 1023Q307 961 223 930V1104Q374 1175 487 1276Q600 1377 647 1472H763Z" fill="#000" stroke="none" transform="translate(991.5 2130.4) scale(0.02524 -0.02393)"/><text font-size="49" transform="translate(1020.3 2130.4) scale(1.055 1)">8</text>
<path d="M763 0H583V1147Q518 1085 412.5 1023Q307 961 223 930V1104Q374 1175 487 1276Q600 1377 647 1472H763Z" fill="#000" stroke="none" transform="translate(1369.7 2179.7) scale(0.02474 -0.02393)"/><text font-size="49" transform="translate(1397.9 2179.7) scale(1.034 1)">4</text><text font-size="49" transform="translate(1426.1 2179.7) scale(1.034 1)">-</text><path d="M763 0H583V1147Q518 1085 412.5 1023Q307 961 223 930V1104Q374 1175 487 1276Q600 1377 647 1472H763Z" fill="#000" stroke="none" transform="translate(1442.9 2179.7) scale(0.02474 -0.02393)"/><text font-size="49" transform="translate(1471.1 2179.7) scale(1.034 1)">8</text>
<path d="M763 0H583V1147Q518 1085 412.5 1023Q307 961 223 930V1104Q374 1175 487 1276Q600 1377 647 1472H763Z" fill="#000" stroke="none" transform="translate(1403.3 2279.3) scale(0.02505 -0.02393)"/><text font-size="49" transform="translate(1431.8 2279.3) scale(1.047 1)">3</text>
<text font-size="49" transform="translate(332 2487.4) scale(1.03 1)">2</text><text font-size="49" transform="translate(360.1 2487.4) scale(1.03 1)">8</text>
<text font-size="49" transform="translate(275.9 2563.4) scale(1.01 1)">3</text><text font-size="49" transform="translate(303.4 2563.4) scale(1.01 1)">0</text>
<text font-size="49" transform="translate(362.2 2563.4) scale(1.048 1)">2</text><text font-size="49" transform="translate(390.8 2563.4) scale(1.048 1)">9</text>
<text font-size="49" transform="translate(1019.9 2436) scale(1.018 1)">2</text><text font-size="49" transform="translate(1047.6 2436) scale(1.018 1)">4</text>
<text font-size="49" transform="translate(1169.8 2405.3) scale(0.984 1)">2</text><text font-size="49" transform="translate(1196.6 2405.3) scale(0.984 1)">7</text>
<text font-size="49" transform="translate(1343.5 2401.2) scale(1.024 1)">2</text><text font-size="49" transform="translate(1371.3 2401.2) scale(1.024 1)">6</text>
<text font-size="49" transform="translate(1424.9 2383.5) scale(1.033 1)">2</text><text font-size="49" transform="translate(1453.1 2383.5) scale(1.033 1)">0</text>
<text font-size="49" transform="translate(1513.6 2345.7) scale(1.049 1)">2</text><path d="M763 0H583V1147Q518 1085 412.5 1023Q307 961 223 930V1104Q374 1175 487 1276Q600 1377 647 1472H763Z" fill="#000" stroke="none" transform="translate(1542.2 2345.7) scale(0.0251 -0.02393)"/>
<text font-size="49" transform="translate(1637.1 2436.2) scale(1.033 1)">2</text><text font-size="49" transform="translate(1665.3 2436.2) scale(1.033 1)">0</text>
<text font-size="49" transform="translate(1724.4 2391.6) scale(1.067 1)">2</text><path d="M763 0H583V1147Q518 1085 412.5 1023Q307 961 223 930V1104Q374 1175 487 1276Q600 1377 647 1472H763Z" fill="#000" stroke="none" transform="translate(1753.4 2391.6) scale(0.02553 -0.02393)"/>
<text font-size="49" transform="translate(1953.1 2627.9) scale(1.058 1)">2</text><text font-size="49" transform="translate(1981.9 2627.9) scale(1.058 1)">3</text>
<text font-size="49" transform="translate(1888.4 2671.9) scale(1.032 1)">2</text><text font-size="49" transform="translate(1916.6 2671.9) scale(1.032 1)">2</text>
<text font-size="49" transform="translate(1754.3 2826.2) scale(1.062 1)">2</text><text font-size="49" transform="translate(1783.2 2826.2) scale(1.062 1)">6</text>
<text font-size="49" transform="translate(1224.5 2993) scale(1.015 1)">2</text><text font-size="49" transform="translate(1252.1 2993) scale(1.015 1)">0</text><text font-size="49" transform="translate(1279.8 2993) scale(1.015 1)">-</text><text font-size="49" transform="translate(1296.3 2993) scale(1.015 1)">2</text><text font-size="49" transform="translate(1324 2993) scale(1.015 1)">4</text>
<text font-size="49" transform="translate(1428.4 2993.5) scale(1.054 1)">2</text><text font-size="49" transform="translate(1457.1 2993.5) scale(1.054 1)">5</text>
<path d="M763 0H583V1147Q518 1085 412.5 1023Q307 961 223 930V1104Q374 1175 487 1276Q600 1377 647 1472H763Z" fill="#000" stroke="none" transform="translate(1320.7 3089.5) scale(0.02505 -0.02393)"/><text font-size="49" transform="translate(1349.2 3089.5) scale(1.047 1)">9</text>
<path d="M461.6 623.8 L520 623.8" stroke="#000" stroke-width="2.0" fill="none" style="stroke-linecap:butt"/>
<path d="M349 827.5 L349 902.7" stroke="#000" stroke-width="2.0" fill="none" style="stroke-linecap:butt"/>
<path d="M527.9 1017.9 L527.9 962.3 L810.6 962.3 L810.6 1024.5" stroke="#000" stroke-width="2.0" fill="none" style="stroke-linecap:butt;stroke-linejoin:miter"/>
<path d="M756.4 948.6 L756.4 962.3" stroke="#000" stroke-width="2.0" fill="none" style="stroke-linecap:butt"/>
<path d="M765.1 1010.5 L765.1 1129.3" stroke="#000" stroke-width="2.0" fill="none" style="stroke-linecap:butt"/>
<path d="M951.8 604.4 L951.8 678.9" stroke="#000" stroke-width="2.0" fill="none" style="stroke-linecap:butt"/>
<path d="M916.7 903 L916.7 940.8" stroke="#000" stroke-width="2.0" fill="none" style="stroke-linecap:butt"/>
<path d="M1145 812 L1145 886.7" stroke="#000" stroke-width="2.0" fill="none" style="stroke-linecap:butt"/>
<path d="M1349.3 711.1 L1349.3 794.7" stroke="#000" stroke-width="2.0" fill="none" style="stroke-linecap:butt"/>
<path d="M1634.2 787.9 L1700.9 787.9" stroke="#000" stroke-width="2.0" fill="none" style="stroke-linecap:butt"/>
<path d="M1766.3 602.5 L1626.8 610.7" stroke="#000" stroke-width="2.0" fill="none" style="stroke-linecap:butt"/>
<path d="M1766.3 602.5 L1628 661.2" stroke="#000" stroke-width="2.0" fill="none" style="stroke-linecap:butt"/>
<path d="M1766.3 602.5 L1729.9 658.1" stroke="#000" stroke-width="2.0" fill="none" style="stroke-linecap:butt"/>
<path d="M1766.3 602.5 L1733.4 690.6" stroke="#000" stroke-width="2.0" fill="none" style="stroke-linecap:butt"/>
<path d="M1329 1072 L1387 1072" stroke="#000" stroke-width="2.0" fill="none" style="stroke-linecap:butt"/>
<path d="M306.2 1613.5 L379.6 1613.5" stroke="#000" stroke-width="2.0" fill="none" style="stroke-linecap:butt"/>
<path d="M306.2 1692.6 L379.6 1692.6" stroke="#000" stroke-width="2.0" fill="none" style="stroke-linecap:butt"/>
<path d="M657.8 1689.2 L657.8 1761.5" stroke="#000" stroke-width="2.0" fill="none" style="stroke-linecap:butt"/>
<path d="M762.9 1720.5 L762.9 1761.5" stroke="#000" stroke-width="2.0" fill="none" style="stroke-linecap:butt"/>
<path d="M860.2 1706.6 L860.2 1761.5" stroke="#000" stroke-width="2.0" fill="none" style="stroke-linecap:butt"/>
<path d="M1063 1699.8 L1063 1755.3" stroke="#000" stroke-width="2.0" fill="none" style="stroke-linecap:butt"/>
<path d="M1050.2 2112.5 L1116.2 2112.5" stroke="#000" stroke-width="2.0" fill="none" style="stroke-linecap:butt"/>
<path d="M1317.8 2180.4 L1317.8 2200.2 L1533.1 2200.2 L1533.1 2180.4" stroke="#000" stroke-width="2.0" fill="none" style="stroke-linecap:butt;stroke-linejoin:miter"/>
<path d="M1429.7 2200.2 L1429.7 2236.8" stroke="#000" stroke-width="2.0" fill="none" style="stroke-linecap:butt"/>
<path d="M1348.8 1997.9 L1348.8 2190.9" stroke="#000" stroke-width="2.0" fill="none" style="stroke-linecap:butt"/>
<path d="M266 2533.2 L266 2519.3 L458.5 2519.3 L458.5 2533.2" stroke="#000" stroke-width="2.0" fill="none" style="stroke-linecap:butt;stroke-linejoin:miter"/>
<path d="M362 2495.4 L362 2519.3" stroke="#000" stroke-width="2.0" fill="none" style="stroke-linecap:butt"/>
<path d="M443.1 2535.3 L443.1 2682.7" stroke="#000" stroke-width="2.0" fill="none" style="stroke-linecap:butt"/>
<path d="M296.8 2569.4 L296.8 2602.8" stroke="#000" stroke-width="2.0" fill="none" style="stroke-linecap:butt"/>
<path d="M388.9 2569.4 L388.9 2601.3" stroke="#000" stroke-width="2.0" fill="none" style="stroke-linecap:butt"/>
<path d="M1052.4 2444.4 L1052.4 2493.9" stroke="#000" stroke-width="2.0" fill="none" style="stroke-linecap:butt"/>
<path d="M1195.2 2413.6 L1195.2 2438.7" stroke="#000" stroke-width="2.0" fill="none" style="stroke-linecap:butt"/>
<path d="M1370.9 2409.3 L1370.9 2462.1" stroke="#000" stroke-width="2.0" fill="none" style="stroke-linecap:butt"/>
<path d="M1451.9 2392.9 L1451.9 2453.8" stroke="#000" stroke-width="2.0" fill="none" style="stroke-linecap:butt"/>
<path d="M1543.2 2352.4 L1543.2 2395.7" stroke="#000" stroke-width="2.0" fill="none" style="stroke-linecap:butt"/>
<path d="M1668.1 2442.4 L1668.1 2521.4" stroke="#000" stroke-width="2.0" fill="none" style="stroke-linecap:butt"/>
<path d="M1753.2 2400.3 L1753.2 2460.5" stroke="#000" stroke-width="2.0" fill="none" style="stroke-linecap:butt"/>
<path d="M1866 2612.4 L1943.3 2612.4" stroke="#000" stroke-width="2.0" fill="none" style="stroke-linecap:butt"/>
<path d="M1793.8 2655.7 L1891.4 2655.7" stroke="#000" stroke-width="2.0" fill="none" style="stroke-linecap:butt"/>
<path d="M1710.5 2807.6 L1750.5 2807.6" stroke="#000" stroke-width="2.0" fill="none" style="stroke-linecap:butt"/>
<path d="M1179.2 2982.2 L1179.2 3006.5 L1498.9 3006.5 L1498.9 2982.2" stroke="#000" stroke-width="2.0" fill="none" style="stroke-linecap:butt;stroke-linejoin:miter"/>
<path d="M1350.8 3006.5 L1350.8 3032.7" stroke="#000" stroke-width="2.0" fill="none" style="stroke-linecap:butt"/>
<path d="M1377.8 2816.5 L1377.8 2994.9" stroke="#000" stroke-width="2.0" fill="none" style="stroke-linecap:butt"/>
<path d="M1455.7 2915.1 L1455.7 2949.7" stroke="#000" stroke-width="2.0" fill="none" style="stroke-linecap:butt"/>
<path d="M347.4 642.6 L350.3 639.2 L362.8 644.8 L363.3 630.5 L366.7 627.2 L384.1 636.1 L386.9 633.9 L379.7 626.2 L379.2 622.8 L381.2 619 L386 618.8 L395.2 624.3 L395.6 610.8 L399.5 608.3 L413.5 615.6 L415.9 612.2 L419.3 609.3 L425.6 608.8 L431.8 612.7 L436.7 616.1 L449.2 609.3 L456.9 615.6 L456.9 623.8 L445.8 632.5 L445.8 642.6 L440.5 650.8 L433.3 650.8 L425.1 647.4 L423.1 651.8 L419.8 656.6 L411.6 665.3 L401.4 665.8 L397.1 663.4 L389.4 668.2 L388.4 672 L377.8 683.1 L368.6 683.1 L363.8 678.8 L354.1 673.5 L351.2 668.7 L351.4 661.9 L354.6 654.2 L347.9 646.9Z" fill="#000" stroke="#000" stroke-width="0.6"/>
<path d="M440 618.5 L449.2 613.6 L453.1 617 L453.1 621.9 L446.3 626.7 L442.9 626.7 L442.5 623.3Z" fill="#fff" stroke="none" stroke-width="0"/>
<path d="M418.3 615.6 L420.7 613.2 L425.1 613.2 L429.4 615.3 L439.1 624.3 L442 633.4 L442 642.6 L438.6 646.9 L433.8 646.9 L428.9 644.5 L435.2 642.1 L436.2 638.3 L434.7 628.1 L421.7 620.4 L418.3 620.4 L416.9 619Z" fill="#fff" stroke="none" stroke-width="0"/>
<path d="M416.4 628.1 L421.2 623.8 L431.8 629.1 L422.7 634.9Z" fill="#fff" stroke="none" stroke-width="0"/>
<path d="M420.3 639.2 L424.1 638.7 L432.8 631 L432.8 637.8 L420.3 645Z" fill="#fff" stroke="none" stroke-width="0"/>
<path d="M399 616.1 L409.6 621.4 L409.6 632.5 L399 627.6Z" fill="#fff" stroke="none" stroke-width="0"/>
<path d="M367.2 634.4 L377.8 640.2 L377.8 653.2 L367.2 647.4Z" fill="#fff" stroke="none" stroke-width="0"/>
<path d="M387.9 639.2 L390.3 636.3 L400.5 641.6 L397.6 647.9Z" fill="#fff" stroke="none" stroke-width="0"/>
<path d="M384.1 645 L386.9 644.1 L396.6 649.8 L390.3 653.7 L384.1 651.8Z" fill="#fff" stroke="none" stroke-width="0"/>
<path d="M389.8 657.6 L396.6 652.7 L399 652.7 L399 657.6 L395.6 658.5 L390.3 662.9Z" fill="#fff" stroke="none" stroke-width="0"/>
<path d="M403.8 646.9 L407.7 638.7 L417.8 639.2 L417.8 649.8 L411.6 656.1 L411.1 659 L404.3 659 L402.4 654.7Z" fill="#fff" stroke="none" stroke-width="0"/>
<path d="M355.1 663.4 L358 656.6 L368.6 663.8 L366.7 670.1 L365.9 675.4 L356.1 670.6Z" fill="#fff" stroke="none" stroke-width="0"/>
<path d="M371.5 670.1 L375.4 663.4 L373.9 658.1 L376.3 657.1 L378.3 659 L382.1 658.1 L385 660.5 L384.5 667.2 L381.2 672 L376.8 676.9 L373 676.9Z" fill="#fff" stroke="none" stroke-width="0"/>
<path d="M352.4 644.8 L361.4 650.6" fill="none" stroke="#fff" stroke-width="0.9"/>
<path d="M383.1 623.3 L393.2 629.1" fill="none" stroke="#fff" stroke-width="0.9"/>
<path d="M391.8 632.5 L397.6 636.3" fill="none" stroke="#fff" stroke-width="0.9"/>
<path d="M359 652.7 L364.7 657.6" fill="none" stroke="#fff" stroke-width="0.9"/>
<path d="M366.2 655.6 L370.5 660.5" fill="none" stroke="#fff" stroke-width="0.9"/>
<path d="M400 613.2 L409.6 618.5" fill="none" stroke="#fff" stroke-width="0.9"/>
<path d="M84 810 H286" stroke="#000" stroke-width="3.8" fill="none" style="stroke-linecap:butt"/>
<path d="M78 826 H286" stroke="#000" stroke-width="3.8" fill="none" style="stroke-linecap:butt"/>
<path d="M87 810 V826" stroke="#000" stroke-width="1.6" fill="none" style="stroke-linecap:butt"/>
<path d="M284.5 808.1 V827.9" stroke="#000" stroke-width="3.4" fill="none" style="stroke-linecap:butt"/>
<path d="M285 811.5 H306" stroke="#000" stroke-width="1.6" fill="none" style="stroke-linecap:butt"/>
<path d="M285 824.5 H306" stroke="#000" stroke-width="1.6" fill="none" style="stroke-linecap:butt"/>
<path d="M306.3 808.1 V827.9" stroke="#000" stroke-width="3.4" fill="none" style="stroke-linecap:butt"/>
<path d="M306 810 H476.5" stroke="#000" stroke-width="3.8" fill="none" style="stroke-linecap:butt"/>
<path d="M306 826 H476.5" stroke="#000" stroke-width="3.8" fill="none" style="stroke-linecap:butt"/>
<path d="M475 808.1 V827.9" stroke="#000" stroke-width="3.4" fill="none" style="stroke-linecap:butt"/>
<path d="M476 810.5 H497" stroke="#000" stroke-width="2.2" fill="none" style="stroke-linecap:butt"/>
<path d="M476 825.5 H497" stroke="#000" stroke-width="2.2" fill="none" style="stroke-linecap:butt"/>
<path d="M478 815 H495" stroke="#000" stroke-width="1.6" fill="none" style="stroke-linecap:butt"/>
<path d="M478 820.5 H495" stroke="#000" stroke-width="1.6" fill="none" style="stroke-linecap:butt"/>
<path d="M486 812 V824" stroke="#000" stroke-width="1.6" fill="none" style="stroke-linecap:butt"/>
<path d="M498 808.1 V827.9" stroke="#000" stroke-width="3.4" fill="none" style="stroke-linecap:butt"/>
<path d="M497.3 810 H712" stroke="#000" stroke-width="3.8" fill="none" style="stroke-linecap:butt"/>
<path d="M497.3 826 H712" stroke="#000" stroke-width="3.8" fill="none" style="stroke-linecap:butt"/>
<path d="M710 808.1 V827.9" stroke="#000" stroke-width="3.8" fill="none" style="stroke-linecap:butt"/>
<path d="M711 811.9 H756" stroke="#000" stroke-width="3.8" fill="none" style="stroke-linecap:butt"/>
<path d="M711 824.1 H752" stroke="#000" stroke-width="3.8" fill="none" style="stroke-linecap:butt"/>
<path d="M752.8 809.9 L757.9 808 L762.1 807 L770.8 807 L775.9 809.3 L778.8 814.4 L778.8 825.7 L777.5 830.8 L774.6 833.7 L761.1 833.7 L756.9 832.8 L753.1 830.8 L748.9 826 L750.8 822.1 L754.4 822.1 L754.4 813.8Z" fill="#000" stroke="#000" stroke-width="0.5"/>
<path d="M754.4 813.9 L756.9 814.1 L757.9 816 L757.9 820.5 L756 822.8 L750.8 822.1 L750.8 813.9Z" fill="#fff" stroke="none" stroke-width="0"/>
<path d="M757.9 813.1 L759.8 813.5 L761.8 816 L761.8 822.5 L759.8 824.7 L756.9 824.7 L759.5 821.2 L759.8 816.7Z" fill="#fff" stroke="none" stroke-width="0"/>
<path d="M763.4 813.1 L764.4 813.8 L766 816.7 L766 823.8 L764.4 826.3 L761.8 827.9 L757.9 827.9 L761.8 826.3 L763.7 822.8 L763.7 816Z" fill="#fff" stroke="none" stroke-width="0"/>
<path d="M765 811.2 L767.6 811.2 L769.8 812.2 L769.8 826.3 L768.5 828.9 L763.1 829.9 L765.6 827.9 L767.6 823.8 L767.6 816 L765.6 812.2Z" fill="#fff" stroke="none" stroke-width="0"/>
<path d="M774 815.1 L775 815.1 L775 824.7 L774 824.7Z" fill="#fff" stroke="none" stroke-width="0"/>
<path d="M1.9 787.7 L15.1 768 L18.7 768 L29 774.2 L42.8 785.1 L43.1 789 L66.6 803.8 L68.2 802.8 L75.9 806 L84.9 807.9 L86.6 807.9 L86.6 827.6 L77.2 827.6 L67.6 826 L60.2 822.7 L56.9 820.5 L56.6 817.9 L33.5 802.8 L28.3 802.8 L16.1 796 L13.2 797 L12.9 794.1 L5.8 790.6 L1.9 790.9Z" fill="#000" stroke="#000" stroke-width="0.5"/>
<path d="M68.5 807.9 L74 810.8 L83 811.5 L85.9 811.8 L85.9 824 L79.2 824 L72.7 822.1 L61.8 818.9 L62.1 816.9 L65.6 812.8Z" fill="#fff" stroke="none" stroke-width="0"/>
<path d="M39.9 792.8 L42.8 792.8 L64 807.3 L59.5 814.1 L57.3 814.1 L37 800.9 L37 798.3Z" fill="#fff" stroke="none" stroke-width="0"/>
<path d="M24.1 783.8 L26.7 783.8 L37 791.5 L35.1 794.7 L31.9 798.9 L29.3 798.9 L18.7 792.8 L19.9 790.2Z" fill="#fff" stroke="none" stroke-width="0"/>
<path d="M25.7 781.6 L27.7 779.9 L38.9 788.3 L37.3 789Z" fill="#fff" stroke="none" stroke-width="0"/>
<path d="M17.1 775.4 L18.3 772.9 L24.1 777.4 L22.5 779Z" fill="#fff" stroke="none" stroke-width="0"/>
<path d="M12.9 781.2 L15.4 778 L17.7 778 L20.9 780.3 L17.4 787 L14.5 790.9 L10.9 788 L13.2 785.1 L15.1 785.7 L17.1 783.2 L12.9 782.2Z" fill="#fff" stroke="none" stroke-width="0"/>
<path d="M951.4 678.9 C956.2 677.6 958.8 677.6 962.3 678 C965.8 678.4 969 679.3 972.3 681.4 C975.7 683.5 979.3 687.4 982.4 690.6 C985.4 693.8 988.8 697.6 990.7 700.6 C992.7 703.7 993.1 705.1 994.1 709 C995.1 712.9 995.9 717.3 996.6 724 C997.3 730.7 998.1 740.8 998.3 749.1 C998.4 757.5 997.8 767.3 997.4 774.2 C997 781.2 996.3 785.9 995.8 791 C995.2 796 995.2 800.4 994.1 804.4 C993 808.3 991.3 811.9 989.1 814.4 C986.8 816.9 984.3 818.3 980.7 819.4 C977.1 820.5 972.3 821.4 967.3 821.1 C962.3 820.8 957.6 819.4 950.6 817.7 C943.6 816.1 933.8 813.3 925.5 811 C917.1 808.8 908.2 806.4 900.4 804.4 C892.6 802.3 884.2 800.2 878.6 798.5 C873.1 796.8 870.3 796.1 866.9 794.3 C863.6 792.5 861.1 790.7 858.6 787.6 C856 784.6 853.5 780.1 851.9 775.9 C850.2 771.7 849.2 767 848.5 762.5 C847.8 758.1 847.5 753.3 847.7 749.1 C847.8 745 848.4 740.8 849.4 737.4 C850.3 734.1 850.6 732.1 853.5 729.1 C856.5 726 861.3 723.1 866.9 719 C872.5 715 880 708.7 887 704.8 C894 700.9 900.9 698.8 908.8 695.6 C916.6 692.4 926.7 688.3 933.8 685.6 C941 682.8 946.7 680.1 951.4 678.9Z" fill="none" stroke="#000" stroke-width="3.9"/>
<path d="M952.3 692.3 C957.8 690.7 957.6 691.4 960.6 692.3 C963.7 693.1 967.6 694.8 970.7 697.3 C973.7 699.8 976.8 703.7 979 707.3 C981.3 710.9 982.8 714.8 984 719 C985.3 723.2 985.9 726 986.6 732.4 C987.2 738.8 988.1 749.1 988.2 757.5 C988.4 765.9 987.9 775.9 987.4 782.6 C986.8 789.3 986 793.8 984.9 797.7 C983.8 801.6 982.5 804.1 980.7 806 C978.9 808 976.8 808.8 974 809.4 C971.2 809.9 968.4 809.9 964 809.4 C959.5 808.8 955 807.7 947.2 806 C939.4 804.4 926.3 801.6 917.1 799.3 C907.9 797.1 899.3 794.6 892 792.6 C884.8 790.7 878.1 789.3 873.6 787.6 C869.2 785.9 867.6 784.8 865.3 782.6 C862.9 780.4 860.9 777.9 859.4 774.2 C857.9 770.6 856.6 765 856 760.8 C855.5 756.7 855.6 752.1 856 749.1 C856.5 746.2 856.2 745.8 858.6 743.3 C860.9 740.8 865.5 737.7 870.3 734.1 C875 730.5 881.4 725.2 887 721.5 C892.6 717.9 897 715.7 903.7 712.3 C910.4 709 919.1 704.8 927.2 701.5 C935.2 698.1 946.7 693.8 952.3 692.3Z" fill="none" stroke="#000" stroke-width="3.0"/>
<path d="M955.6 696.4 C957.3 697 962.6 698 965.6 699.8 C968.7 701.6 971.6 703.8 974 707.3 C976.4 710.8 978.5 715.1 979.9 720.7 C981.3 726.3 981.8 733.2 982.4 740.8 C982.9 748.3 983.3 757.5 983.2 765.9 C983.1 774.2 982.5 784.8 981.5 791 C980.6 797.1 978 800.7 977.3 802.7" fill="none" stroke="#000" stroke-width="2.0"/>
<path d="M862.7 745.8 C862.6 747.7 861.5 753.3 861.9 757.5 C862.3 761.7 863.3 767.3 865.3 770.9 C867.2 774.5 868.9 777 873.6 779.3 C878.4 781.5 882 781.8 893.7 784.3 C905.4 786.8 935.5 792.6 943.9 794.3" fill="none" stroke="#000" stroke-width="2.0"/>
<path d="M956.4 682.2 C958.5 682.8 965.1 683.3 969 685.6 C972.9 687.8 976.7 691.7 979.9 695.6 C983.1 699.5 986.3 704.2 988.2 709 C990.2 713.7 990.7 717.3 991.6 724 C992.4 730.7 993.1 739.4 993.2 749.1 C993.4 758.9 993 773.7 992.4 782.6 C991.8 791.5 990.3 799.3 989.9 802.7" fill="none" stroke="#000" stroke-width="2.0"/>
<path d="M847.7 743.3 L837.6 749.1 L837.6 776.7 L848.5 778.4" fill="none" stroke="#000" stroke-width="3.9"/>
<path d="M841.8 751.6 L841.8 774.2" fill="none" stroke="#000" stroke-width="3.0"/>
<path d="M837.6 749.1 L841.8 751.6 L848.5 749.1" fill="none" stroke="#000" stroke-width="3.0"/>
<path d="M992.4 714 L996.6 706.5 L1005.8 705.6 L1006.6 710.7 L1020.8 709.8" fill="none" stroke="#000" stroke-width="3.0"/>
<path d="M997.4 724 L1017.5 724" fill="none" stroke="#000" stroke-width="3.0"/>
<path d="M1017.5 709.8 L1031.7 709 L1031.7 722.4 L1017.5 724.9 Z" fill="#000" stroke="#000" stroke-width="2"/>
<path d="M999.1 800.2 L1003.3 791.8 L1010 791 L1010.8 796.8 L1022.5 796" fill="none" stroke="#000" stroke-width="3.0"/>
<path d="M1000.8 807.7 L1022.5 808.5" fill="none" stroke="#000" stroke-width="3.0"/>
<path d="M1022.5 796 L1035.1 794.3 L1035.1 806 L1022.5 808.5 Z" fill="#000" stroke="#000" stroke-width="2"/>
<path d="M996.1 724 L999.4 800.2" fill="none" stroke="#000" stroke-width="3.0"/>
<path d="M1002.4 724 L1004.5 791" fill="none" stroke="#000" stroke-width="3.0"/>
<path d="M894.5 714.8 L952.3 694.8" fill="none" stroke="#000" stroke-width="2.0"/>
<path d="M894.5 716.8 L953.9 697.3" fill="none" stroke="#000" stroke-width="2.0"/>
<path d="M905.4 716.5 L900.4 735.8" fill="none" stroke="#000" stroke-width="2.0"/>
<path d="M912.1 714.8 L935.5 733.2" fill="none" stroke="#000" stroke-width="3.0"/>
<path d="M919.6 712.3 L940.5 729.1" fill="none" stroke="#000" stroke-width="3.0"/>
<path d="M952.3 700.6 L943.9 732.4" fill="none" stroke="#000" stroke-width="2.0"/>
<path d="M964.8 704.8 L953.1 727.4 L967.3 724.9" fill="none" stroke="#000" stroke-width="2.0"/>
<path d="M913.8 738.3 L933.8 734.1" fill="none" stroke="#000" stroke-width="3.0"/>
<path d="M864.4 754.2 L890.3 749.1 L900.4 739.1 L905.4 739.1 L913.8 743.3 L942.2 737.4 L974 730.7 L979 727.4" fill="none" stroke="#000" stroke-width="2.0"/>
<path d="M868.6 747.5 L891.2 743.3" fill="none" stroke="#000" stroke-width="2.0"/>
<path d="M865.3 764.2 L882 767.5 L888.7 760.8 L893.7 764.2 L898.7 772.6 L903.7 775.9 L917.1 775.9 L933.8 780.9 L958.9 785.9" fill="none" stroke="#000" stroke-width="2.0"/>
<path d="M870.3 758.3 L882 762.5 L887 757.5 L892 755.8" fill="none" stroke="#000" stroke-width="2.0"/>
<path d="M902.1 769.2 L915.4 770.9" fill="none" stroke="#000" stroke-width="3.0"/>
<path d="M918.8 771.7 L957.3 780.9" fill="none" stroke="#000" stroke-width="2.0"/>
<ellipse cx="960.6" cy="711.5" rx="4.7" ry="6.4" transform="rotate(0 960.6 711.5)" fill="none" stroke="#000" stroke-width="3.0"/>
<ellipse cx="904.6" cy="755" rx="7" ry="8.4" transform="rotate(0 904.6 755)" fill="none" stroke="#000" stroke-width="3.0"/>
<ellipse cx="975.7" cy="766.7" rx="5.5" ry="7.5" transform="rotate(0 975.7 766.7)" fill="none" stroke="#000" stroke-width="3.0"/>
<ellipse cx="962" cy="711.5" rx="2" ry="3" transform="rotate(0 962 711.5)" fill="none" stroke="#000" stroke-width="2.0"/>
<ellipse cx="903.7" cy="755" rx="2.3" ry="3.7" transform="rotate(0 903.7 755)" fill="none" stroke="#000" stroke-width="2.0"/>
<ellipse cx="976.5" cy="766.7" rx="2" ry="3" transform="rotate(0 976.5 766.7)" fill="none" stroke="#000" stroke-width="2.0"/>
<path d="M945.6 796 L967.3 777.6 L980.7 775.9" fill="none" stroke="#000" stroke-width="3.0"/>
<path d="M945.6 796 L947.2 807.7 L967.3 804.4 L982.4 801" fill="none" stroke="#000" stroke-width="3.0"/>
<path d="M955.6 794.3 L960.6 802.7 L980.7 796" fill="none" stroke="#000" stroke-width="3.0"/>
<path d="M960.6 802.7 L964 807.7" fill="none" stroke="#000" stroke-width="2.0"/>
<path d="M902.1 948.3 L906.3 941.9 L910.8 939 L921.8 942.2 L930.5 947.7 L935 944.8 L943 950.2 L943 952.8 L938.2 956.7 L941.1 960.9 L944.9 961.8 L944.9 965.7 L943 967.3 L943 978.6 L939.8 985.6 L934.6 989.8 L930.8 990.8 L924.4 990.8 L917.9 987.2 L915 986 L913.7 986.9 L906.3 986.9 L892.8 995.6 L888 997.9 L879.3 997.9 L876.1 995.6 L873.8 990.8 L873.8 983.4 L878.3 978.9 L883.2 976.3 L898 967.6 L899.3 963.8 L902.1 962.5Z" fill="#000" stroke="#000" stroke-width="0.5"/>
<path d="M878 985.3 L881.2 981.8 L885.7 980.8 L896 974.7 L901.2 970.8 L905 969.9 L905 966.3 L912.1 972.1 L912.8 975 L912.8 982.7 L911.8 981.1 L908.3 980.8 L905 983.4 L897.3 987.2 L890.9 991.4 L885.7 994 L881.2 994 L878.3 990.1Z" fill="#fff" stroke="none" stroke-width="0"/>
<path d="M907 964.4 L915 958.9 L921.1 965 L923.1 967.6 L924 970.2 L924 976.6 L920.5 978.2 L917.9 980.5 L915 980.8 L915 975.3 L913.1 970.8Z" fill="#fff" stroke="none" stroke-width="0"/>
<path d="M906.3 949.9 L913.4 952.2 L925.6 961.2 L929.8 965.7 L929.8 980.5 L926.9 983.7 L920.2 983.7 L926 979.2 L926 970.2 L923.7 960.2 L916.6 957 L912.4 956 L906.3 959.9Z" fill="#fff" stroke="none" stroke-width="0"/>
<path d="M907.9 947.3 L909.5 946.1 L918.6 949 L924.4 952.2 L931.8 960.2 L935.9 969.5 L935.9 976.6 L937.9 976.9 L937.9 980.8 L936.9 978.9 L933.4 978.9 L932.1 980.2 L931.8 970.2 L930.1 965 L926.3 959.3 L917.9 951.9 L911.5 949.9Z" fill="#fff" stroke="none" stroke-width="0"/>
<path d="M934 950.2 L935.9 949.9 L937.9 951.2 L935.6 952.8Z" fill="#fff" stroke="none" stroke-width="0"/>
<path d="M1107.7 955.7 L1119.3 958.8 L1136 958.8 L1166.4 954.9 L1190.6 935.6" fill="none" stroke="#000" stroke-width="3.9"/>
<path d="M1190.6 935.6 C1190.8 935.2 1191.7 933.8 1191.9 933.1 C1192 932.3 1191.4 931.3 1191.4 931" fill="none" stroke="#000" stroke-width="3.9"/>
<path d="M1191.4 931 L1177.7 892.4" fill="none" stroke="#000" stroke-width="3.9"/>
<path d="M1177.7 892.4 C1177.3 891.7 1176.3 888.9 1175.4 888 C1174.4 887.1 1172.6 886.9 1172 886.7" fill="none" stroke="#000" stroke-width="3.9"/>
<path d="M1172 886.7 L1145 887.2 L1116.7 907.3" fill="none" stroke="#000" stroke-width="3.9"/>
<path d="M1116.7 907.3 C1114.8 908.2 1108.3 910.3 1105.1 912.5 C1101.9 914.6 1098.7 918.9 1097.4 920.2" fill="none" stroke="#000" stroke-width="3.9"/>
<path d="M1127 904.7 L1151.5 906 L1175.9 891.9" fill="none" stroke="#000" stroke-width="2.0"/>
<path d="M1151.5 908.6 L1164.3 953.6" fill="none" stroke="#000" stroke-width="2.0"/>
<path d="M1116.7 907.3 C1118.2 905.2 1122.5 897.4 1125.7 894.4 C1128.9 891.4 1133 890.2 1136 889.3 C1139 888.3 1142.4 888.9 1143.7 888.8" fill="none" stroke="#000" stroke-width="3.0"/>
<path d="M1121.9 904.7 L1133.4 893.2" fill="none" stroke="#000" stroke-width="2.0"/>
<path d="M1116.7 908.6 C1114.8 909.7 1108.3 912.2 1105.1 915 C1101.9 917.8 1098.8 920.2 1097.4 925.3 C1096 930.5 1095.2 940.6 1096.9 945.9 C1098.6 951.3 1105.9 955.6 1107.7 957.5" fill="none" stroke="#000" stroke-width="3.9"/>
<path d="M1125.7 911.2 C1127.9 913.5 1136 920 1138.6 925.3 C1141.2 930.7 1141.6 938.2 1141.2 943.3 C1140.7 948.5 1136.9 954.1 1136 956.2" fill="none" stroke="#000" stroke-width="3.0"/>
<path d="M1120.6 912.5 C1122.7 915 1131.1 922.3 1133.4 927.9 C1135.8 933.5 1135.6 941 1134.7 945.9 C1133.9 950.9 1129.4 955.6 1128.3 957.5" fill="none" stroke="#000" stroke-width="2.0"/>
<path d="M1107.7 920.2 C1109.4 921.5 1115.6 924 1118 927.9 C1120.4 931.8 1122.3 938.6 1121.9 943.3 C1121.4 948.1 1116.5 954.1 1115.4 956.2" fill="none" stroke="#000" stroke-width="3.0"/>
<path d="M1101.3 929.2 C1103.2 929.8 1110.3 930.3 1112.8 933.1 C1115.4 935.8 1116.9 942.5 1116.7 945.9 C1116.5 949.4 1112.4 952.4 1111.6 953.6" fill="none" stroke="#000" stroke-width="3.0"/>
<path d="M1111.6 935.6 C1110.1 935.8 1105.3 935.8 1102.5 936.9 C1099.8 938 1096.8 940.6 1094.8 942.1 C1092.9 943.6 1091.6 945.3 1091 945.9" fill="none" stroke="#000" stroke-width="3.9"/>
<path d="M1112.8 945.9 C1111.1 946.6 1105.6 948.8 1102.5 949.8 C1099.5 950.7 1096.1 951.3 1094.8 951.6" fill="none" stroke="#000" stroke-width="3.9"/>
<ellipse cx="1086.6" cy="953.6" rx="8.5" ry="8.5" transform="rotate(0 1086.6 953.6)" fill="none" stroke="#000" stroke-width="3.9"/>
<path d="M1299.8 822.7 C1296.6 824.5 1288.1 828.2 1284.4 832.4 C1280.7 836.5 1279.3 841.4 1277.6 847.8 C1276 854.2 1274.9 863.9 1274.7 871 C1274.6 878 1275.1 884.2 1276.7 890.3 C1278.3 896.4 1280.9 901.9 1284.4 907.6 C1287.9 913.4 1292.4 919.5 1297.9 925 C1303.4 930.5 1310.8 936 1317.2 940.5 C1323.7 945 1326.9 948.3 1336.5 952 C1346.2 955.7 1362.3 959.6 1375.1 962.7 C1388 965.7 1402.5 968.3 1413.7 970.4 C1425 972.5 1435.6 974.7 1442.7 975.2 C1449.8 975.7 1451.4 975.5 1456.2 973.3 C1461 971 1467.2 967.5 1471.7 961.7 C1476.2 955.9 1480.8 947.2 1483.2 938.5 C1485.7 929.8 1486 919.2 1486.1 909.6 C1486.3 899.9 1485.3 889.6 1484.2 880.6 C1483.1 871.6 1481.5 862.3 1479.4 855.5 C1477.3 848.8 1474.9 844.6 1471.7 840.1 C1468.4 835.6 1464.6 831.7 1460.1 828.5 C1455.6 825.3 1450.7 823.3 1444.6 820.8 C1438.5 818.2 1430.8 815.6 1423.4 813.1 C1416 810.5 1406.3 806.9 1400.2 805.3 C1394.1 803.8 1393.5 803.3 1386.7 803.8 C1380 804.3 1367.4 806.7 1359.7 808.2 C1352 809.8 1349.7 810.8 1340.4 813.1 C1331.1 815.3 1310.5 820.1 1303.7 821.7 C1296.9 823.3 1303.1 820.9 1299.8 822.7Z" fill="none" stroke="#000" stroke-width="3.9"/>
<path d="M1307.6 835.3 C1320.4 833 1370.3 824 1384.8 821.7 C1399.3 819.5 1389.6 820.8 1394.4 821.7 C1399.3 822.7 1405.7 825.1 1413.7 827.5 C1421.8 829.9 1435.9 833.2 1442.7 836.2 C1449.5 839.3 1451.1 841.4 1454.3 845.9 C1457.5 850.4 1459.8 855.8 1462 863.2 C1464.3 870.6 1466.5 880.9 1467.8 890.3 C1469.1 899.6 1469.7 911.2 1469.7 919.2 C1469.7 927.3 1469.1 933.4 1467.8 938.5 C1466.5 943.7 1464.6 947.1 1462 950.1 C1459.4 953.2 1454 955.7 1452.4 956.9" fill="none" stroke="#000" stroke-width="3.9"/>
<path d="M1297.9 884.5 C1299.5 887.1 1303.7 894.5 1307.6 899.9 C1311.4 905.4 1316.3 912.5 1321.1 917.3 C1325.9 922.1 1330.1 925.7 1336.5 928.9 C1343 932.1 1350 934.4 1359.7 936.6 C1369.3 938.9 1382.2 940.5 1394.4 942.4 C1406.7 944.3 1423.4 946.9 1433.1 948.2 C1442.7 949.5 1447.9 950.8 1452.4 950.1 C1456.9 949.5 1458.6 946.6 1460.1 944.3 C1461.5 942.1 1460.9 937.9 1461 936.6" fill="none" stroke="#000" stroke-width="2.0"/>
<path d="M1307.6 835.3 C1306 836.7 1300.5 839.6 1297.9 843.9 C1295.3 848.3 1293.4 855.2 1292.1 861.3 C1290.8 867.4 1289.5 874.8 1290.2 880.6 C1290.8 886.4 1293.1 890.9 1296 896.1 C1298.9 901.2 1303.1 906.4 1307.6 911.5 C1312.1 916.7 1317.5 922.4 1323 926.9 C1328.5 931.5 1331.7 935.3 1340.4 938.5 C1349.1 941.8 1362.9 944 1375.1 946.3 C1387.4 948.5 1400.9 950.1 1413.7 952 C1426.6 954 1445.9 956.9 1452.4 957.8" fill="none" stroke="#000" stroke-width="3.0"/>
<path d="M1286.3 834.3 C1285.5 837.2 1282.6 844.9 1281.5 851.7 C1280.4 858.4 1279.3 867.7 1279.6 874.8 C1279.9 881.9 1281 887.7 1283.4 894.1 C1285.8 900.6 1292.3 910.2 1294.1 913.4" fill="none" stroke="#000" stroke-width="2.0"/>
<path d="M1307.6 836.2 L1303.7 861.3 L1301.8 882.5 L1359.7 898" fill="none" stroke="#000" stroke-width="2.0"/>
<path d="M1359.7 898 C1361.6 897.7 1368.2 898 1371.3 896.1 C1374.3 894.1 1376.9 888 1378 886.4" fill="none" stroke="#000" stroke-width="2.0"/>
<path d="M1378 886.4 L1392.5 823.7" fill="none" stroke="#000" stroke-width="2.0"/>
<ellipse cx="1311.4" cy="846.8" rx="4.2" ry="4.2" transform="rotate(0 1311.4 846.8)" fill="none" stroke="#000" stroke-width="3.0"/>
<ellipse cx="1366.4" cy="869" rx="7.3" ry="7.3" transform="rotate(0 1366.4 869)" fill="none" stroke="#000" stroke-width="3.0"/>
<path d="M1413.7 830.4 C1412.8 831.7 1409.2 831.4 1408 838.1 C1406.7 844.9 1406.7 859.1 1406 871 C1405.4 882.9 1404.4 899.9 1404.1 909.6 C1403.8 919.2 1403.1 924.7 1404.1 928.9 C1405.1 933.1 1405.1 933.1 1409.9 934.7 C1414.7 936.3 1426 937.6 1433.1 938.5 C1440.1 939.5 1447.9 940.8 1452.4 940.5 C1456.9 940.1 1458.8 937.2 1460.1 936.6" fill="none" stroke="#000" stroke-width="2.0"/>
<path d="M1423.4 854.6 L1443.7 856.5 L1442.7 890.3 L1444.6 911.5 L1440.8 917.3 L1421.5 915.4 L1420.5 890.3Z" fill="none" stroke="#000" stroke-width="3.9"/>
<path d="M1428.2 859.4 L1439.8 860.3 L1439.8 911.5 L1429.2 913.4 L1425.3 890.3Z" fill="none" stroke="#000" stroke-width="3.9"/>
<path d="M1391.5 882.5 L1381.9 889.3 L1382.9 894.1 L1392.5 895.1 L1404.1 885.4" fill="none" stroke="#000" stroke-width="3.0"/>
<path d="M1392.5 896.1 L1380 905.7 L1380.9 908.6 L1390.6 906.7 L1393.5 909.6 L1404.1 907.6" fill="none" stroke="#000" stroke-width="3.0"/>
<path d="M1302.7 821.7 L1302.7 813.1 L1314.3 792.8 L1319.2 792.8 L1320.1 806.3 L1337.5 803.4" fill="none" stroke="#000" stroke-width="3.9"/>
<path d="M1337.5 803.4 C1338.6 802.3 1341.4 798.2 1344.2 796.6 C1347.1 795 1353.1 794.2 1354.9 793.7" fill="none" stroke="#000" stroke-width="3.9"/>
<path d="M1354.9 793.7 L1356.8 808.2" fill="none" stroke="#000" stroke-width="3.9"/>
<path d="M1340.4 805.3 L1341.4 814" fill="none" stroke="#000" stroke-width="3.9"/>
<path d="M1307.6 820.8 L1339.4 815 L1386.7 807.3" fill="none" stroke="#000" stroke-width="2.0"/>
<path d="M1313.4 811.1 L1313 818.8" fill="none" stroke="#000" stroke-width="2.0"/>
<path d="M1317.2 810.2 L1316.8 817.9" fill="none" stroke="#000" stroke-width="2.0"/>
<path d="M1328.8 808.2 L1329.2 815" fill="none" stroke="#000" stroke-width="2.0"/>
<path d="M1424.4 814 C1425 813.2 1425.3 810.8 1428.2 809.2 C1431.1 807.6 1439.5 805.2 1441.7 804.4" fill="none" stroke="#000" stroke-width="3.9"/>
<path d="M1442.7 808.2 C1445.3 808.4 1454 808.2 1458.1 809.2 C1462.3 810.2 1465.5 812.4 1467.8 814 C1470.1 815.6 1471 818 1471.7 818.8" fill="none" stroke="#000" stroke-width="3.0"/>
<path d="M1469.7 820.8 C1470.4 820 1470.4 817.1 1473.6 815.9 C1476.8 814.8 1485.2 813.2 1489 814 C1492.9 814.8 1494.5 817.7 1496.8 820.8 C1499 823.8 1501.9 829.5 1502.5 832.4 C1503.2 835.3 1501.9 837 1500.6 838.1 C1499.3 839.3 1496.4 840.4 1494.8 839.1 C1493.2 837.8 1492.6 833.3 1491 830.4 C1489.4 827.5 1487.6 823.3 1485.2 821.7 C1482.8 820.1 1478.4 819.6 1476.5 820.8 C1474.6 821.9 1473.4 824.6 1473.6 828.5 C1473.8 832.4 1475.8 838.5 1477.5 843.9 C1479.1 849.4 1482.3 858.4 1483.2 861.3" fill="none" stroke="#000" stroke-width="3.9"/>
<path d="M1467.8 824.6 C1468.4 829.1 1469.7 842.3 1471.7 851.7 C1473.6 861 1477.8 871 1479.4 880.6 C1481 890.3 1481.3 899.9 1481.3 909.6 C1481.3 919.2 1480.7 930.8 1479.4 938.5 C1478.1 946.3 1474.6 953 1473.6 955.9" fill="none" stroke="#000" stroke-width="2.0"/>
<path d="M1438.8 810.2 L1439.8 815" fill="none" stroke="#000" stroke-width="2.0"/>
<path d="M1452.4 815 L1449.5 820.8" fill="none" stroke="#000" stroke-width="3.0"/>
<path d="M1460.1 819.8 L1459.1 830.4" fill="none" stroke="#000" stroke-width="3.9"/>
<path d="M1315.3 942.4 L1316.3 960.7 L1332.7 962.7 L1333.6 950.1" fill="none" stroke="#000" stroke-width="3.9"/>
<path d="M1317.2 954 L1332.7 956.9" fill="none" stroke="#000" stroke-width="3.0"/>
<path d="M1442.7 974.2 L1443.7 985.8 L1460.1 987.8 L1463 970.4" fill="none" stroke="#000" stroke-width="3.9"/>
<path d="M1444.6 980 L1460.1 982.9" fill="none" stroke="#000" stroke-width="3.0"/>
<path d="M1497.1 644.2 C1498.2 643.4 1501.9 639.5 1504 639.2 C1506.1 638.8 1508.8 641.5 1509.8 641.9" fill="none" stroke="#000" stroke-width="3.9"/>
<path d="M1509.8 641.9 L1536.4 655.8 L1575.8 679 L1603.6 697.5 L1622.2 710.3" fill="none" stroke="#000" stroke-width="3.9"/>
<path d="M1622.2 710.3 C1623.5 711.8 1628.8 715.1 1630.3 719.5 C1631.7 724 1631.5 729.8 1631 736.9 C1630.4 744.1 1627.5 758.1 1626.8 762.4" fill="none" stroke="#000" stroke-width="3.9"/>
<path d="M1626.8 762.4 L1631.4 768.2 L1630.3 806.4 L1622.2 818 L1617.5 822.6 L1614.1 841.2" fill="none" stroke="#000" stroke-width="3.9"/>
<path d="M1614.1 841.2 C1612.3 841.9 1607.7 846.2 1603.6 845.8 C1599.6 845.4 1592 840 1589.7 838.8" fill="none" stroke="#000" stroke-width="3.9"/>
<path d="M1589.7 838.8 L1552.7 811 L1517.9 785.6 L1494.7 768.2" fill="none" stroke="#000" stroke-width="3.9"/>
<path d="M1494.7 768.2 C1493.8 766.8 1489.5 765.3 1489 760.1 C1488.4 754.9 1490.3 746.6 1491.3 736.9 C1492.2 727.3 1493.6 710.3 1494.7 702.2 C1495.9 694.1 1497.6 690.6 1498.2 688.3" fill="none" stroke="#000" stroke-width="3.9"/>
<path d="M1498.2 688.3 L1493.6 679 L1494.7 660.5 L1497.1 644.2" fill="none" stroke="#000" stroke-width="3.9"/>
<path d="M1520.2 648.9 C1529.5 654.5 1560.8 672.8 1575.8 682.5 C1590.9 692.1 1602.9 700.8 1610.6 706.8 C1618.3 712.8 1620 713.4 1622.2 718.4 C1624.3 723.4 1623.9 729.6 1623.3 736.9 C1622.7 744.2 1619.5 758.1 1618.7 762.4" fill="none" stroke="#000" stroke-width="3.0"/>
<path d="M1618.7 762.4 L1624.5 769.3 L1623.3 804.1 L1617.5 815.7" fill="none" stroke="#000" stroke-width="3.0"/>
<path d="M1513.3 651.2 C1529.1 661.4 1590.9 700.6 1608.3 712.6 C1625.6 724.6 1616.4 714.7 1617.5 723 C1618.7 731.3 1615.6 755.8 1615.2 762.4" fill="none" stroke="#000" stroke-width="3.0"/>
<path d="M1522.5 659.3 L1608.3 712.6" fill="none" stroke="#000" stroke-width="2.0"/>
<path d="M1608.3 712.6 C1609.3 714.3 1614.4 713.2 1614.7 723 C1615.1 732.9 1612.4 754.9 1610.6 771.7 C1608.7 788.5 1604.8 815.1 1603.6 823.8" fill="none" stroke="#000" stroke-width="2.0"/>
<path d="M1520.2 665.1 L1561.9 692.9 L1566.6 697.5 L1560.8 763.6 L1586.3 782.1 L1581.6 821.5" fill="none" stroke="#000" stroke-width="2.0"/>
<path d="M1534.1 683.6 L1558.5 699.8 L1552.7 794.8 L1527.2 778.6Z" fill="none" stroke="#000" stroke-width="3.9"/>
<path d="M1497.1 692.9 C1499 688.6 1502.9 687.3 1506.3 685.9 C1509.8 684.6 1514.4 683.6 1517.9 684.8 C1521.4 685.9 1525.3 688.1 1527.2 692.9 C1529.1 697.7 1529.9 704.5 1529.5 713.7 C1529.1 723 1526.8 741.2 1524.9 748.5 C1522.9 755.8 1521 755.4 1517.9 757.8 C1514.8 760.1 1509.8 762.8 1506.3 762.4 C1502.9 762 1499.2 759.7 1497.1 755.4 C1494.9 751.2 1494 744.2 1493.6 736.9 C1493.2 729.6 1494.2 718.8 1494.7 711.4 C1495.3 704.1 1495.1 697.1 1497.1 692.9Z" fill="none" stroke="#000" stroke-width="3.9"/>
<path d="M1505.2 697.5 C1507.5 697.1 1512.3 696.8 1514.4 699.8 C1516.6 702.9 1517.9 708.7 1517.9 716.1 C1517.9 723.4 1516.2 737.9 1514.4 743.9 C1512.7 749.8 1509.8 751.6 1507.5 752 C1505.2 752.4 1502.1 750.6 1500.5 746.2 C1499 741.7 1498.2 732.7 1498.2 725.3 C1498.2 718 1499.4 706.8 1500.5 702.2 C1501.7 697.5 1502.9 697.9 1505.2 697.5Z" fill="none" stroke="#000" stroke-width="3.9"/>
<path d="M1512.1 688.3 C1513.6 689.6 1518.9 691.7 1520.7 696.4 C1522.5 701 1523.2 707.8 1523 716.1 C1522.9 724.4 1521.4 739.4 1519.8 746.2 C1518.1 752.9 1514.4 754.9 1513.3 756.6" fill="none" stroke="#000" stroke-width="2.0"/>
<path d="M1515.6 686.4 C1517.1 688.3 1523.1 692.6 1524.9 697.5 C1526.6 702.5 1526.6 707.6 1526.3 716.1 C1525.9 724.6 1524.3 741.5 1522.5 748.5 C1520.8 755.4 1516.8 756.2 1515.6 757.8" fill="none" stroke="#000" stroke-width="2.0"/>
<ellipse cx="1501.7" cy="675.5" rx="2.3" ry="2.8" transform="rotate(0 1501.7 675.5)" fill="#000" stroke="#000" stroke-width="3.9"/>
<ellipse cx="1621" cy="772.8" rx="3" ry="3.5" transform="rotate(0 1621 772.8)" fill="none" stroke="#000" stroke-width="3.0"/>
<ellipse cx="1618" cy="802.9" rx="2.5" ry="3" transform="rotate(0 1618 802.9)" fill="none" stroke="#000" stroke-width="3.0"/>
<path d="M1614.1 808.7 L1610.6 841.2" fill="none" stroke="#000" stroke-width="3.0"/>
<path d="M1619.8 811 L1617.5 822.6" fill="none" stroke="#000" stroke-width="3.0"/>
<path d="M1587.9 620.6 L1591.3 617.5 L1596.9 614.7 L1602.6 612.1 L1601.8 607.7 L1604.1 603.6 L1607.2 601.6 L1614.7 601.6 L1619.1 605.4 L1622.7 608.8 L1624 611.6 L1624 618 L1621.9 623.2 L1618.8 625.5 L1611.1 625.5 L1609.3 623.4 L1608 625 L1602.6 627.6 L1598.7 630.4 L1591 630.4 L1589.2 627.6 L1587.9 625Z" fill="#000" stroke="#000" stroke-width="0.5"/>
<path d="M1605.7 609 L1606.7 606.7 L1608 605.4 L1610.6 605.4 L1612.9 606.5 L1615 609 L1617.8 613.7 L1618 620.4 L1616.8 621.6 L1612.9 621.6 L1615 620.4 L1616 618 L1615.7 612.9 L1612.6 608.8 L1609.3 608.8 L1607.7 610.6 L1605.9 610.6Z" fill="#fff" stroke="none"/>
<path d="M1607 612.6 L1608.8 612.4 L1610.3 610.3 L1611.9 610.6 L1613.9 613.4 L1613.9 617.3 L1611.9 619.3 L1609.3 619.6 L1608 617.8 L1605.7 615Z" fill="#fff" stroke="none"/>
<path d="M1596.4 620.9 L1597.5 623.2" fill="none" stroke="#fff" stroke-width="0.9"/>
<path d="M1598.5 618.8 L1600.5 620.4 L1600.5 623.2" fill="none" stroke="#fff" stroke-width="0.9"/>
<path d="M1601.3 617.8 L1602.6 619.1" fill="none" stroke="#fff" stroke-width="0.9"/>
<path d="M1604.1 616.8 L1606.5 620.1" fill="none" stroke="#fff" stroke-width="0.9"/>
<path d="M1592.3 623.7 L1593.6 626" fill="none" stroke="#fff" stroke-width="0.9"/>
<path d="M1603.4 620.6 L1603.5 622.2" fill="none" stroke="#fff" stroke-width="0.9"/>
<path d="M1587.9 676.7 L1591.3 673.6 L1596.9 670.8 L1602.6 668.2 L1601.8 663.8 L1604.1 659.7 L1607.2 657.6 L1614.7 657.6 L1619.1 661.5 L1622.7 664.8 L1624 667.7 L1624 674.1 L1621.9 679.3 L1618.8 681.6 L1611.1 681.6 L1609.3 679.5 L1608 681.1 L1602.6 683.6 L1598.7 686.5 L1591 686.5 L1589.2 683.6 L1587.9 681.1Z" fill="#000" stroke="#000" stroke-width="0.5"/>
<path d="M1605.7 665.1 L1606.7 662.8 L1608 661.5 L1610.6 661.5 L1612.9 662.5 L1615 665.1 L1617.8 669.7 L1618 676.4 L1616.8 677.7 L1612.9 677.7 L1615 676.4 L1616 674.1 L1615.7 669 L1612.6 664.8 L1609.3 664.8 L1607.7 666.6 L1605.9 666.6Z" fill="#fff" stroke="none"/>
<path d="M1607 668.7 L1608.8 668.4 L1610.3 666.4 L1611.9 666.6 L1613.9 669.5 L1613.9 673.3 L1611.9 675.4 L1609.3 675.6 L1608 673.8 L1605.7 671Z" fill="#fff" stroke="none"/>
<path d="M1596.4 676.9 L1597.5 679.3" fill="none" stroke="#fff" stroke-width="0.9"/>
<path d="M1598.5 674.9 L1600.5 676.4 L1600.5 679.3" fill="none" stroke="#fff" stroke-width="0.9"/>
<path d="M1601.3 673.8 L1602.6 675.1" fill="none" stroke="#fff" stroke-width="0.9"/>
<path d="M1604.1 672.8 L1606.5 676.2" fill="none" stroke="#fff" stroke-width="0.9"/>
<path d="M1592.3 679.8 L1593.6 682.1" fill="none" stroke="#fff" stroke-width="0.9"/>
<path d="M1603.4 676.7 L1603.5 678.2" fill="none" stroke="#fff" stroke-width="0.9"/>
<path d="M1694 673.9 L1697.4 670.8 L1703 668 L1708.7 665.4 L1707.9 661 L1710.2 656.9 L1713.3 654.9 L1720.8 654.9 L1725.2 658.7 L1728.8 662.1 L1730.1 664.9 L1730.1 671.3 L1728 676.5 L1724.9 678.8 L1717.2 678.8 L1715.4 676.7 L1714.1 678.3 L1708.7 680.8 L1704.8 683.7 L1697.1 683.7 L1695.3 680.8 L1694 678.3Z" fill="#000" stroke="#000" stroke-width="0.5"/>
<path d="M1711.8 662.3 L1712.8 660 L1714.1 658.7 L1716.7 658.7 L1719 659.7 L1721.1 662.3 L1723.9 666.9 L1724.1 673.6 L1722.9 674.9 L1719 674.9 L1721.1 673.6 L1722.1 671.3 L1721.8 666.2 L1718.7 662.1 L1715.4 662.1 L1713.8 663.9 L1712 663.9Z" fill="#fff" stroke="none"/>
<path d="M1713.1 665.9 L1714.9 665.7 L1716.4 663.6 L1718 663.9 L1720 666.7 L1720 670.6 L1718 672.6 L1715.4 672.9 L1714.1 671.1 L1711.8 668.2Z" fill="#fff" stroke="none"/>
<path d="M1702.5 674.2 L1703.6 676.5" fill="none" stroke="#fff" stroke-width="0.9"/>
<path d="M1704.6 672.1 L1706.6 673.6 L1706.6 676.5" fill="none" stroke="#fff" stroke-width="0.9"/>
<path d="M1707.4 671.1 L1708.7 672.4" fill="none" stroke="#fff" stroke-width="0.9"/>
<path d="M1710.2 670 L1712.6 673.4" fill="none" stroke="#fff" stroke-width="0.9"/>
<path d="M1698.4 677 L1699.7 679.3" fill="none" stroke="#fff" stroke-width="0.9"/>
<path d="M1709.5 673.9 L1709.6 675.4" fill="none" stroke="#fff" stroke-width="0.9"/>
<path d="M1694 702.2 L1697.4 699.1 L1703 696.2 L1708.7 693.7 L1707.9 689.3 L1710.2 685.2 L1713.3 683.1 L1720.8 683.1 L1725.2 687 L1728.8 690.3 L1730.1 693.2 L1730.1 699.6 L1728 704.7 L1724.9 707.1 L1717.2 707.1 L1715.4 705 L1714.1 706.5 L1708.7 709.1 L1704.8 711.9 L1697.1 711.9 L1695.3 709.1 L1694 706.5Z" fill="#000" stroke="#000" stroke-width="0.5"/>
<path d="M1711.8 690.6 L1712.8 688.3 L1714.1 687 L1716.7 687 L1719 688 L1721.1 690.6 L1723.9 695.2 L1724.1 701.9 L1722.9 703.2 L1719 703.2 L1721.1 701.9 L1722.1 699.6 L1721.8 694.4 L1718.7 690.3 L1715.4 690.3 L1713.8 692.1 L1712 692.1Z" fill="#fff" stroke="none"/>
<path d="M1713.1 694.2 L1714.9 693.9 L1716.4 691.9 L1718 692.1 L1720 695 L1720 698.8 L1718 700.9 L1715.4 701.1 L1714.1 699.3 L1711.8 696.5Z" fill="#fff" stroke="none"/>
<path d="M1702.5 702.4 L1703.6 704.7" fill="none" stroke="#fff" stroke-width="0.9"/>
<path d="M1704.6 700.4 L1706.6 701.9 L1706.6 704.7" fill="none" stroke="#fff" stroke-width="0.9"/>
<path d="M1707.4 699.3 L1708.7 700.6" fill="none" stroke="#fff" stroke-width="0.9"/>
<path d="M1710.2 698.3 L1712.6 701.6" fill="none" stroke="#fff" stroke-width="0.9"/>
<path d="M1698.4 705.3 L1699.7 707.6" fill="none" stroke="#fff" stroke-width="0.9"/>
<path d="M1709.5 702.2 L1709.6 703.7" fill="none" stroke="#fff" stroke-width="0.9"/>
<path d="M1255.3 1078.8 L1255.3 1036.3 L1269.8 1024.7 L1285.2 1019.9 L1328.3 1045 L1328.3 1099.1 L1315.1 1109.7 L1301.6 1115.1 L1265.9 1095.8" fill="none" stroke="#000" stroke-width="3.9"/>
<path d="M1258.2 1037.3 L1300.7 1061.4 L1324.8 1047.9" fill="none" stroke="#000" stroke-width="2.0"/>
<path d="M1300.7 1061.4 L1301.2 1113.6" fill="none" stroke="#000" stroke-width="3.0"/>
<path d="M1270.7 1026.7 L1315.1 1050.8 L1316.1 1107.8" fill="none" stroke="#000" stroke-width="3.0"/>
<path d="M1274.6 1024.7 L1318 1048.9" fill="none" stroke="#000" stroke-width="2.0"/>
<path d="M1312.2 1052.7 L1312.8 1108.7" fill="none" stroke="#000" stroke-width="2.0"/>
<path d="M1258.2 1037.3 L1269.8 1026.7" fill="none" stroke="#000" stroke-width="2.0"/>
<path d="M1258.2 1054.7 C1260 1054.2 1264.8 1050.6 1268.8 1051.8 C1272.8 1052.9 1278.6 1057.2 1282.3 1061.4 C1286 1065.6 1289.4 1072 1291 1076.9 C1292.6 1081.7 1292.8 1086.5 1292 1090.4 C1291.2 1094.2 1287.1 1098.4 1286.2 1100" fill="none" stroke="#000" stroke-width="3.0"/>
<path d="M1259.2 1062.4 C1261.1 1062.1 1267 1059 1270.7 1060.5 C1274.4 1061.9 1278.9 1066.7 1281.4 1071.1 C1283.8 1075.4 1285.1 1082.5 1285.2 1086.5 C1285.4 1090.5 1282.8 1093.8 1282.3 1095.2" fill="none" stroke="#000" stroke-width="3.0"/>
<path d="M1260.1 1069.2 C1261.6 1069 1266.1 1066.9 1268.8 1068.2 C1271.5 1069.5 1274.8 1073.2 1276.5 1076.9 C1278.3 1080.6 1278.9 1088.1 1279.4 1090.4" fill="none" stroke="#000" stroke-width="2.0"/>
<path d="M1263 1074.9 L1268.8 1072 L1274.6 1076.9 L1275.6 1086.5 L1269.8 1089.4 L1264.9 1084.6Z" fill="none" stroke="#000" stroke-width="3.9"/>
<path d="M1263 1077.8 L1225.4 1097.1" fill="none" stroke="#000" stroke-width="3.9"/>
<path d="M1265.9 1096.2 L1219.6 1119.3" fill="none" stroke="#000" stroke-width="5"/>
<path d="M1265.9 1094.2 L1232.1 1110.7" fill="none" stroke="#000" stroke-width="3.0"/>
<path d="M1225.4 1096.2 L1214.7 1109.7 L1232.1 1105.8" fill="none" stroke="#000" stroke-width="3.9"/>
<path d="M1222.5 1098.1 L1231.2 1103.9" fill="none" stroke="#000" stroke-width="3.0"/>
<path d="M1214.7 1109.7 L1230.2 1112.6" fill="none" stroke="#000" stroke-width="3.9"/>
<path d="M1218.6 1118.4 L1235 1110.7" fill="none" stroke="#000" stroke-width="3.9"/>
<path d="M793.8 1126.9 C819.2 1116 838.5 1108.5 860.8 1101.8 C883.1 1095.1 908.2 1090.4 927.7 1086.8 C947.2 1083.1 963.9 1080.9 977.9 1080.1 C991.8 1079.2 1000.2 1080.1 1011.4 1081.8 C1022.5 1083.4 1034.8 1085.9 1044.8 1090.1 C1054.9 1094.3 1063.8 1100.7 1071.6 1106.8 C1079.4 1113 1086.1 1119.7 1091.7 1126.9 C1097.2 1134.2 1101.7 1142 1105 1150.3 C1108.4 1158.7 1110.1 1167.1 1111.7 1177.1 C1113.4 1187.2 1115.4 1198.9 1115.1 1210.6 C1114.8 1222.3 1113.4 1234.6 1110.1 1247.4 C1106.7 1260.2 1101.4 1274.2 1095 1287.5 C1088.6 1300.9 1081.1 1314.3 1071.6 1327.7 C1062.1 1341.1 1050.9 1354.5 1038.1 1367.9 C1025.3 1381.2 1008.6 1396.9 994.6 1408 C980.7 1419.2 968.4 1426.4 954.5 1434.8 C940.5 1443.1 926.6 1451.5 911 1458.2 C895.3 1464.9 877.5 1471 860.8 1474.9 C844 1478.8 823.4 1479.9 810.6 1481.6 C797.8 1483.3 795 1484.7 783.8 1485 C772.7 1485.2 756.2 1482.5 743.7 1483.3 C731.1 1484.1 719.9 1487.2 708.5 1490 C697 1492.8 683.4 1497.8 675 1500 C666.6 1502.3 663.9 1503.1 658.3 1503.4 C652.7 1503.7 655.5 1500.9 641.5 1501.7 C627.6 1502.5 596.9 1506.2 574.6 1508.4 C552.3 1510.6 530 1513 507.7 1515.1 C485.4 1517.2 463.1 1519.5 440.8 1521.1 C418.5 1522.7 393.4 1523.5 373.8 1524.5 C354.3 1525.4 338.7 1526.7 323.7 1526.8 C308.6 1526.9 292.7 1526 283.5 1525.1 C274.3 1524.3 272.1 1524 268.4 1521.8 C264.8 1519.5 263 1515.6 261.8 1511.7 C260.5 1507.8 259.4 1503.9 260.7 1498.4 C262.1 1492.8 265.2 1485.5 270.1 1478.3 C275 1471 281.3 1464.3 290.2 1454.9 C299.1 1445.4 309.7 1434.2 323.7 1421.4 C337.6 1408.6 354.3 1393.5 373.8 1377.9 C393.4 1362.3 418.5 1343.3 440.8 1327.7 C463.1 1312.1 485.4 1298.4 507.7 1284.2 C530 1270 552.3 1255.8 574.6 1242.4 C596.9 1229 619.2 1216.4 641.5 1203.9 C663.9 1191.3 683.1 1179.9 708.5 1167.1 C733.9 1154.3 768.5 1137.8 793.8 1126.9Z" fill="none" stroke="#000" stroke-width="3.9"/>
<path d="M306.9 1526.8 C309.2 1528.2 309.2 1533.9 320.3 1535.2 C331.5 1536.4 348.2 1535.9 373.8 1534.5 C399.5 1533.1 440.8 1529.5 474.2 1526.8 C507.7 1524.1 546.7 1521.1 574.6 1518.4 C602.5 1515.8 624.8 1513.3 641.5 1511.1 C658.3 1508.8 669.4 1506 675 1505" fill="none" stroke="#000" stroke-width="3.0"/>
<path d="M760 1168.8 C751.4 1172.4 728.2 1181.3 708.5 1190.5 C688.7 1199.7 663.9 1212.3 641.5 1224 C619.2 1235.7 596.9 1247.1 574.6 1260.8 C552.3 1274.4 530 1290.3 507.7 1305.9 C485.4 1321.6 463.1 1337.5 440.8 1354.5 C418.5 1371.5 391.7 1392.9 373.8 1408 C356 1423.1 344.8 1433.1 333.7 1444.8 C322.5 1456.5 312.8 1469.4 306.9 1478.3 C301.1 1487.2 298.8 1493.9 298.6 1498.4 C298.3 1502.8 298.3 1503.7 305.3 1505 C312.2 1506.4 323.4 1507.2 340.4 1506.7 C357.4 1506.3 379.4 1504.9 407.3 1502.4 C435.2 1499.9 474.2 1495.7 507.7 1491.7 C541.2 1487.6 580.2 1481.9 608.1 1478.3 C636 1474.7 649.7 1472.4 675 1469.9 C700.3 1467.4 745.8 1464.3 760 1463.2" fill="none" stroke="#000" stroke-width="2.0"/>
<path d="M760 1190.5 C745.8 1197.5 700.3 1218.4 675 1232.3 C649.7 1246.3 625.9 1262.7 608.1 1274.2 C590.2 1285.6 574.6 1296.5 567.9 1300.9" fill="none" stroke="#000" stroke-width="2.0"/>
<path d="M427.4 1386.3 L393.9 1449.8" fill="none" stroke="#000" stroke-width="2.0"/>
<path d="M440.8 1367.9 C432.4 1374.5 404.5 1396.3 390.6 1408 C376.6 1419.7 367.2 1428.1 357.1 1438.1 C347.1 1448.2 336.2 1459.9 330.3 1468.2 C324.5 1476.6 320.3 1483.3 322 1488.3 C323.7 1493.3 326.2 1496.7 340.4 1498.4 C354.6 1500 379.4 1500.6 407.3 1498.4 C435.2 1496.1 474.2 1489.4 507.7 1485 C541.2 1480.5 574.6 1475.8 608.1 1471.6 C641.5 1467.4 683.1 1462.4 708.5 1459.9 C733.8 1457.4 751.4 1457.1 760 1456.5" fill="none" stroke="#000" stroke-width="2.0"/>
<path d="M567.9 1305.9 C583 1302 593.6 1300.6 604.7 1300.9 C615.9 1301.2 627 1303.7 634.9 1307.6 C642.7 1311.5 648.2 1317.1 651.6 1324.4 C654.9 1331.6 655.5 1341.6 654.9 1351.1 C654.4 1360.6 653.3 1369.5 648.2 1381.2 C643.2 1392.9 634.3 1409.7 624.8 1421.4 C615.3 1433.1 605.3 1442.6 591.4 1451.5 C577.4 1460.4 557.9 1469.4 541.2 1474.9 C524.4 1480.5 504.9 1483.9 491 1485 C477 1486.1 466.4 1484.4 457.5 1481.6 C448.6 1478.8 442.2 1474.4 437.4 1468.2 C432.7 1462.1 430.2 1452.6 429.1 1444.8 C427.9 1437 427.7 1430.9 430.7 1421.4 C433.8 1411.9 440.2 1398.5 447.5 1387.9 C454.7 1377.3 463.1 1368.4 474.2 1357.8 C485.4 1347.2 498.8 1333 514.4 1324.4 C530 1315.7 552.9 1309.8 567.9 1305.9Z" fill="none" stroke="#000" stroke-width="2.0"/>
<path d="M591.4 1316 C600.8 1316.8 610.9 1320.2 618.1 1324.4 C625.4 1328.5 631.5 1333.8 634.9 1341.1 C638.2 1348.3 639.9 1357.8 638.2 1367.9 C636.5 1377.9 630.9 1390.7 624.8 1401.3 C618.7 1411.9 610.9 1422.5 601.4 1431.4 C591.9 1440.4 580.2 1448.4 567.9 1454.9 C555.7 1461.3 540 1467.1 527.8 1469.9 C515.5 1472.7 503.8 1473 494.3 1471.6 C484.8 1470.2 476.7 1466 470.9 1461.5 C465 1457.1 461.4 1451.5 459.2 1444.8 C456.9 1438.1 455.6 1430.3 457.5 1421.4 C459.5 1412.5 464.2 1401.3 470.9 1391.3 C477.6 1381.2 487.6 1370.6 497.7 1361.2 C507.7 1351.7 520.5 1341.4 531.1 1334.4 C541.7 1327.4 551.2 1322.4 561.2 1319.3 C571.3 1316.3 581.9 1315.1 591.4 1316Z" fill="none" stroke="#000" stroke-width="3.9"/>
<path d="M608.1 1309.3 C617.6 1311.8 631.8 1316.8 638.2 1324.4 C644.6 1331.9 647.1 1342.8 646.6 1354.5 C646 1366.2 641.3 1382.4 634.9 1394.6 C628.4 1406.9 619.2 1416.9 608.1 1428.1 C596.9 1439.2 581.9 1453.2 567.9 1461.5 C554 1469.9 538.9 1475.2 524.4 1478.3 C509.9 1481.3 493.2 1482.2 480.9 1479.9 C468.7 1477.7 457.5 1471.9 450.8 1464.9 C444.1 1457.9 441.3 1447.6 440.8 1438.1 C440.2 1428.6 441.9 1419.2 447.5 1408 C453 1396.9 464.2 1382.4 474.2 1371.2 C484.3 1360 495.4 1350 507.7 1341.1 C520 1332.2 535.6 1323 547.9 1317.7 C560.1 1312.4 571.3 1310.7 581.3 1309.3 C591.4 1307.9 598.6 1306.8 608.1 1309.3Z" fill="none" stroke="#000" stroke-width="2.0"/>
<path d="M581.3 1313.6 C576.9 1315.4 564 1319.2 554.5 1324.4 C545.1 1329.5 534.5 1336.6 524.4 1344.4 C514.4 1352.2 503.2 1362.3 494.3 1371.2 C485.4 1380.1 476.5 1389 470.9 1398 C465.3 1406.9 462 1416.4 460.8 1424.7 C459.7 1433.1 461.4 1441.7 464.2 1448.2 C467 1454.6 470.9 1459.8 477.6 1463.2 C484.3 1466.7 499.9 1468 504.4 1468.9" fill="none" stroke="#000" stroke-width="3.0"/>
<path d="M574.6 1324.4 C575.5 1330.5 579.6 1348.3 579.6 1361.2 C579.6 1374 577.7 1389 574.6 1401.3 C571.6 1413.6 566.8 1427 561.2 1434.8 C555.7 1442.6 544.5 1445.9 541.2 1448.2" fill="none" stroke="#000" stroke-width="2.0"/>
<path d="M598 1321 C598.9 1327.7 602.8 1347.8 603.1 1361.2 C603.3 1374.5 602.2 1389.6 599.7 1401.3 C597.2 1413 590 1426.4 588 1431.4" fill="none" stroke="#000" stroke-width="2.0"/>
<ellipse cx="544.5" cy="1392.9" rx="35.1" ry="57.6" transform="rotate(12 544.5 1392.9)" fill="none" stroke="#000" stroke-width="2.0"/>
<ellipse cx="549.5" cy="1394.6" rx="35.1" ry="55.2" transform="rotate(12 549.5 1394.6)" fill="none" stroke="#000" stroke-width="2.0"/>
<path d="M548.9 1396.3 C547.9 1400.5 544.7 1415 542.8 1421.4 C541 1427.8 538.6 1432.5 537.8 1434.8" fill="none" stroke="#000" stroke-width="2.0"/>
<path d="M561.2 1334.4 C557.9 1338.9 546.2 1353.4 541.2 1361.2 C536.1 1369 532.8 1377.9 531.1 1381.2" fill="none" stroke="#000" stroke-width="2.0"/>
<path d="M596.4 1376.2 C597.5 1374 600 1370.9 603.1 1369.5 C606.1 1368.1 610.3 1369.2 614.8 1367.9 C619.2 1366.5 625.9 1361.2 629.8 1361.2 C633.7 1361.2 637.1 1364.2 638.2 1367.9 C639.3 1371.5 640.4 1379.8 636.5 1382.9 C632.6 1386 620.4 1385.4 614.8 1386.3 C609.2 1387.1 606.1 1388.5 603.1 1387.9 C600 1387.4 597.5 1384.9 596.4 1382.9 C595.3 1381 595.3 1378.4 596.4 1376.2Z" fill="none" stroke="#000" stroke-width="3.9"/>
<path d="M608.1 1362.8 C609.8 1361.4 614.2 1355.6 618.1 1354.5 C622 1353.4 628.2 1353.9 631.5 1356.1 C634.9 1358.4 637.1 1365.9 638.2 1367.9" fill="none" stroke="#000" stroke-width="3.0"/>
<path d="M614.8 1367.9 L615.4 1386.3" fill="none" stroke="#000" stroke-width="2.0"/>
<path d="M624.8 1362.8 L626.5 1384.6" fill="none" stroke="#000" stroke-width="2.0"/>
<path d="M666.6 1404.7 C671.4 1403 673.3 1415.8 675 1421.4 C676.7 1427 677.8 1433.7 676.7 1438.1 C675.6 1442.6 677.2 1445.1 668.3 1448.2 C659.4 1451.2 630.4 1456.2 623.1 1456.5 C615.9 1456.8 620.9 1454 624.8 1449.8 C628.7 1445.6 639.6 1439 646.6 1431.4 C653.5 1423.9 661.9 1406.3 666.6 1404.7Z" fill="none" stroke="#000" stroke-width="2.0"/>
<path d="M646.6 1431.4 L644.9 1448.2 L628.2 1451.5" fill="none" stroke="#000" stroke-width="2.0"/>
<path d="M665 1408 L656.6 1448.2" fill="none" stroke="#000" stroke-width="2.0"/>
<path d="M584.7 1463.2 L608.1 1459.9" fill="none" stroke="#000" stroke-width="2.0"/>
<path d="M435.8 1391.3 L454.2 1374.5" fill="none" stroke="#000" stroke-width="2.0"/>
<path d="M1111.7 1177.1 C1114.5 1181 1124 1192.2 1128.5 1200.5 C1132.9 1208.9 1136 1218.4 1138.5 1227.3 C1141 1236.2 1143 1247.4 1143.5 1254.1 C1144.1 1260.8 1142.1 1265.2 1141.9 1267.5" fill="none" stroke="#000" stroke-width="3.9"/>
<path d="M1141.9 1267.5 L1135.2 1270.8" fill="none" stroke="#000" stroke-width="3.9"/>
<path d="M1135.2 1270.8 C1134.6 1274.7 1134 1285.9 1131.8 1294.2 C1129.6 1302.6 1125.7 1312.1 1121.8 1321 C1117.9 1329.9 1112.9 1338.9 1108.4 1347.8 C1103.9 1356.7 1097.2 1370.1 1095 1374.5" fill="none" stroke="#000" stroke-width="3.9"/>
<path d="M1095 1374.5 L1078.3 1379.6 L1038.1 1392.9" fill="none" stroke="#000" stroke-width="3.9"/>
<path d="M1039.8 1381.2 L1039.8 1404.7" fill="none" stroke="#000" stroke-width="3.9"/>
<path d="M1078.3 1379.6 L1069.9 1398 L1014.7 1411.4 L1011.4 1416.4 L1001.3 1431.4 L971.2 1431.4" fill="none" stroke="#000" stroke-width="3.0"/>
<path d="M1011.4 1411.4 L1038.1 1401.3" fill="none" stroke="#000" stroke-width="3.9"/>
<path d="M1110.1 1247.4 C1109.2 1250.7 1108.1 1258.5 1105 1267.5 C1102 1276.4 1097.8 1289.2 1091.7 1300.9 C1085.5 1312.6 1077.2 1325.5 1068.2 1337.7 C1059.3 1350 1049.3 1362.3 1038.1 1374.5 C1027 1386.8 1013 1401.9 1001.3 1411.4 C989.6 1420.8 973.4 1428.1 967.9 1431.4" fill="none" stroke="#000" stroke-width="2.0"/>
<path d="M783.8 1485 L780.5 1498.4" fill="none" stroke="#000" stroke-width="3.0"/>
<path d="M780.5 1498.4 C785.5 1498.1 799.4 1498.4 810.6 1496.7 C821.7 1495 836.2 1491.4 847.4 1488.3 C858.5 1485.2 872.5 1479.9 877.5 1478.3" fill="none" stroke="#000" stroke-width="3.0"/>
<path d="M660 1506.7 C665.6 1505.3 673.4 1500.9 693.5 1498.4 C713.5 1495.8 766 1492.8 780.5 1491.7" fill="none" stroke="#000" stroke-width="3.0"/>
<path d="M760.1 1168.8 C771.3 1163.5 804.9 1145.3 827.3 1137 C849.7 1128.6 874.7 1122.7 894.2 1118.6 C913.8 1114.4 927.7 1112.7 944.4 1111.9 C961.2 1111 986.3 1113.3 994.6 1113.5" fill="none" stroke="#000" stroke-width="2.0"/>
<path d="M944.4 1108.5 C950 1108.8 966.7 1108.2 977.9 1110.2 C989 1112.1 1001.9 1116.3 1011.4 1120.2 C1020.8 1124.1 1030.9 1131.4 1034.8 1133.6" fill="none" stroke="#000" stroke-width="2.0"/>
<path d="M660 1242.4 C671.2 1236.5 704.6 1218.7 726.9 1207.2 C749.2 1195.8 776 1182.1 793.8 1173.8 C811.7 1165.4 827.3 1159.8 834 1157" fill="none" stroke="#000" stroke-width="2.0"/>
<path d="M671.7 1327.7 C674.2 1314.3 678.7 1302 686.8 1287.5 C694.9 1273 706.3 1256.3 720.2 1240.7 C734.2 1225.1 752.6 1207.8 770.4 1193.8 C788.3 1179.9 807.8 1167.4 827.3 1157 C846.8 1146.7 868 1137.8 887.5 1131.9 C907.1 1126.1 926.6 1123 944.4 1121.9 C962.3 1120.8 979.6 1122.2 994.6 1125.3 C1009.7 1128.3 1023.6 1133.9 1034.8 1140.3 C1045.9 1146.7 1055.1 1154.8 1061.5 1163.7 C1068 1172.7 1071.6 1182.1 1073.3 1193.8 C1074.9 1205.6 1074.7 1220.1 1071.6 1234 C1068.5 1247.9 1062.7 1263 1054.9 1277.5 C1047 1292 1037 1307.1 1024.7 1321 C1012.5 1334.9 997.4 1348.3 981.2 1361.2 C965.1 1374 946.7 1387.4 927.7 1398 C908.7 1408.6 887.5 1417.8 867.5 1424.7 C847.4 1431.7 826.2 1437 807.2 1439.8 C788.3 1442.6 769.9 1443.4 753.7 1441.5 C737.5 1439.5 721.9 1434.8 710.2 1428.1 C698.5 1421.4 689.8 1411.4 683.4 1401.3 C677 1391.3 673.7 1380.1 671.7 1367.9 C669.8 1355.6 669.2 1341.1 671.7 1327.7Z" fill="none" stroke="#000" stroke-width="2.0"/>
<path d="M667.4 1327.7 C669.9 1313.8 674.5 1299.9 682.8 1284.9 C691 1269.8 702.7 1253.2 716.9 1237.3 C731.1 1221.5 749.7 1203.9 767.7 1189.8 C785.8 1175.8 805.6 1163.3 825.3 1153 C845 1142.7 866.3 1133.8 886.2 1127.9 C906.1 1122 926.1 1118.7 944.4 1117.6 C962.7 1116.4 980.5 1117.8 996 1120.9 C1011.5 1124 1025.9 1129.6 1037.5 1136.3 C1049.1 1143 1058.9 1151.6 1065.6 1161.1 C1072.3 1170.5 1075.9 1180.9 1077.6 1193.2 C1079.3 1205.4 1079.1 1220.3 1075.9 1234.7 C1072.8 1249.1 1066.8 1264.7 1058.9 1279.5 C1050.9 1294.3 1040.6 1309.5 1028.1 1323.7 C1015.6 1337.8 1000.3 1351.5 983.9 1364.5 C967.5 1377.6 948.9 1391.3 929.7 1402 C910.5 1412.7 889.1 1421.7 868.8 1428.8 C848.5 1435.8 827.2 1441.3 807.9 1444.1 C788.6 1447 769.8 1447.8 753 1445.8 C736.3 1443.8 719.8 1439.1 707.5 1432.1 C695.2 1425.1 686.1 1414.6 679.4 1404 C672.7 1393.4 669.4 1381.2 667.4 1368.5 C665.4 1355.8 664.8 1341.6 667.4 1327.7Z" fill="none" stroke="#000" stroke-width="2.0"/>
<path d="M670 1351.1 C670.3 1339.4 672.3 1327.1 676.7 1314.3 C681.2 1301.5 687.3 1288.1 696.8 1274.2 C706.3 1260.2 718.6 1244.9 733.6 1230.7 C748.7 1216.4 768.2 1200.8 787.2 1188.8 C806.1 1176.8 828.4 1166.5 847.4 1158.7 C866.3 1150.9 884.2 1145.6 900.9 1142 C917.7 1138.4 933.3 1136.7 947.8 1137 C962.3 1137.2 976.8 1139.8 987.9 1143.7 C999.1 1147.6 1007.7 1153.7 1014.7 1160.4 C1021.7 1167.1 1026.4 1174.9 1029.8 1183.8 C1033.1 1192.7 1035.1 1202.2 1034.8 1213.9 C1034.5 1225.6 1032.5 1240.7 1028.1 1254.1 C1023.6 1267.5 1016.9 1280.8 1008 1294.2 C999.1 1307.6 986.8 1321.6 974.5 1334.4 C962.3 1347.2 950 1359.5 934.4 1371.2 C918.8 1382.9 899.8 1395.2 880.8 1404.7 C861.9 1414.1 839.6 1422.5 820.6 1428.1 C801.7 1433.7 783.3 1437.3 767.1 1438.1 C750.9 1439 735.8 1437 723.6 1433.1 C711.3 1429.2 701.5 1422.8 693.5 1414.7 C685.4 1406.6 679 1395.2 675.1 1384.6 C671.2 1374 669.8 1362.8 670 1351.1Z" fill="none" stroke="#000" stroke-width="3.9"/>
<path d="M681.8 1354.5 C682.3 1343.9 683.7 1330.5 688.4 1317.7 C693.2 1304.8 700.4 1290.9 710.2 1277.5 C720 1264.1 733.1 1250.2 747 1237.3 C760.9 1224.5 776 1212.3 793.8 1200.5 C811.7 1188.8 835.1 1175.4 854.1 1167.1 C873 1158.7 890.9 1153.7 907.6 1150.3 C924.4 1147 940 1145.9 954.5 1147 C969 1148.1 983.5 1151.5 994.6 1157 C1005.8 1162.6 1016.1 1171 1021.4 1180.5 C1026.7 1189.9 1027 1201.7 1026.4 1213.9 C1025.9 1226.2 1023.3 1240.7 1018 1254.1 C1012.7 1267.5 1004.1 1280.8 994.6 1294.2 C985.1 1307.6 973.4 1322.1 961.2 1334.4 C948.9 1346.7 936.6 1357.3 921 1367.9 C905.4 1378.4 885.3 1389.3 867.5 1398 C849.6 1406.6 831.2 1414.7 813.9 1419.7 C796.6 1424.7 778.2 1427.5 763.7 1428.1 C749.2 1428.6 737.5 1427 726.9 1423.1 C716.3 1419.2 707.1 1411.6 700.2 1404.7 C693.2 1397.7 688.2 1389.6 685.1 1381.2 C682 1372.9 681.2 1365.1 681.8 1354.5Z" fill="none" stroke="#000" stroke-width="2.0"/>
<path d="M894.2 1391.3 C886.4 1394.6 863 1406.1 847.4 1411.4 C831.8 1416.6 816.2 1421.4 800.5 1423.1 C784.9 1424.7 766.5 1423.9 753.7 1421.4 C740.9 1418.9 731.9 1414.7 723.6 1408 C715.2 1401.3 707.7 1390.7 703.5 1381.2 C699.3 1371.8 698.2 1362.3 698.5 1351.1 C698.8 1340 700.4 1326.6 705.2 1314.3 C709.9 1302 717.7 1289.8 726.9 1277.5 C736.1 1265.2 747 1252.7 760.4 1240.7 C773.8 1228.7 790.5 1216.2 807.2 1205.6 C824 1195 851.8 1181.9 860.8 1177.1" fill="none" stroke="#000" stroke-width="2.0"/>
<path d="M1031.4 1140.3 C1034.8 1144.2 1046.8 1154.8 1051.5 1163.7 C1056.2 1172.7 1058.8 1182.1 1059.9 1193.8 C1061 1205.6 1061.3 1220.1 1058.2 1234 C1055.1 1247.9 1044.3 1270.3 1041.5 1277.5" fill="none" stroke="#000" stroke-width="2.0"/>
<path d="M934.4 1374.5 C932.2 1375.9 927.7 1380.4 921 1382.9 C914.3 1385.4 904.3 1390.4 894.2 1389.6 C884.2 1388.8 871.4 1382.6 860.8 1377.9 C850.2 1373.1 839.6 1367.9 830.7 1361.2 C821.7 1354.5 813.4 1346.1 807.2 1337.7 C801.1 1329.4 796.9 1321 793.8 1311 C790.8 1300.9 788.8 1290.3 788.8 1277.5 C788.8 1264.7 790.2 1246.8 793.8 1234 C797.5 1221.2 802.8 1211.1 810.6 1200.5 C818.4 1189.9 829.5 1178.8 840.7 1170.4 C851.8 1162.1 864.1 1155.6 877.5 1150.3 C890.9 1145 907.1 1140.3 921 1138.6 C934.9 1137 948.9 1138.4 961.2 1140.3 C973.4 1142.3 985.7 1146.4 994.6 1150.3 C1003.5 1154.3 1011.4 1161.5 1014.7 1163.7" fill="none" stroke="#000" stroke-width="3.9"/>
<path d="M820.6 1180.5 C816.2 1183.8 801.7 1192.7 793.8 1200.5 C786 1208.3 779.3 1217.3 773.8 1227.3 C768.2 1237.3 763.2 1249.6 760.4 1260.8 C757.6 1271.9 756.5 1281.4 757 1294.2 C757.6 1307.1 759.3 1325.5 763.7 1337.7 C768.2 1350 774.3 1358.9 783.8 1367.9 C793.3 1376.8 807.8 1386.3 820.6 1391.3 C833.4 1396.3 848.5 1397.4 860.8 1398 C873 1398.5 888.7 1395.2 894.2 1394.6" fill="none" stroke="#000" stroke-width="2.0"/>
<path d="M894.2 1166.4 C890.9 1166.5 884.2 1164.7 874.2 1167.1 C864.1 1169.4 846.3 1173.8 834 1180.5 C821.7 1187.2 809.5 1197.2 800.5 1207.2 C791.6 1217.3 784.9 1229 780.5 1240.7 C776 1252.4 773.8 1263 773.8 1277.5 C773.8 1292 775.4 1313.8 780.5 1327.7 C785.5 1341.6 793.8 1352.2 803.9 1361.2 C813.9 1370.1 826.8 1376.5 840.7 1381.2 C854.6 1386 879.7 1388.2 887.5 1389.6" fill="none" stroke="#000" stroke-width="2.0"/>
<path d="M813.9 1188.8 C821.7 1185.8 846.3 1173.5 860.8 1170.4 C875.3 1167.4 888.1 1168.2 900.9 1170.4 C913.8 1172.7 926.6 1177.7 937.7 1183.8 C948.9 1189.9 958.9 1198.3 967.9 1207.2 C976.8 1216.2 985.7 1227.3 991.3 1237.3 C996.9 1247.4 999.4 1258 1001.3 1267.5 C1003.3 1276.9 1004.1 1285.9 1003 1294.2 C1001.9 1302.6 998.2 1311.5 994.6 1317.7 C991 1323.8 983.5 1328.8 981.2 1331" fill="none" stroke="#000" stroke-width="2.0"/>
<path d="M820.6 1190.5 C827.3 1190.8 847.4 1191.6 860.8 1192.2 C874.2 1192.7 888.7 1190.8 900.9 1193.8 C913.2 1196.9 924.4 1203.9 934.4 1210.6 C944.4 1217.3 954.2 1225.6 961.2 1234 C968.1 1242.4 973.7 1256.3 976.2 1260.8" fill="none" stroke="#000" stroke-width="2.0"/>
<path d="M847.4 1175.4 C855.2 1172.1 880.8 1158.4 894.2 1155.4 C907.6 1152.3 916.5 1154.5 927.7 1157 C938.9 1159.5 951.1 1164.8 961.2 1170.4 C971.2 1176 981.5 1184.9 987.9 1190.5 C994.3 1196.1 997.7 1201.7 999.6 1203.9" fill="none" stroke="#000" stroke-width="2.0"/>
<path d="M999.6 1203.9 L1031.4 1195.5" fill="none" stroke="#000" stroke-width="2.0"/>
<path d="M798.9 1294.2 C798.3 1282.5 801.9 1270.8 807.2 1260.8 C812.5 1250.7 821.7 1240.4 830.7 1234 C839.6 1227.6 850.7 1222.8 860.8 1222.3 C870.8 1221.7 882 1225.9 890.9 1230.7 C899.8 1235.4 908.2 1242.9 914.3 1250.7 C920.4 1258.5 925.2 1267.5 927.7 1277.5 C930.2 1287.5 931 1300.4 929.4 1311 C927.7 1321.6 923.5 1333.3 917.7 1341.1 C911.8 1348.9 903.2 1353.9 894.2 1357.8 C885.3 1361.7 874.2 1365.1 864.1 1364.5 C854.1 1363.9 842.9 1360 834 1354.5 C825.1 1348.9 816.4 1341.1 810.6 1331 C804.7 1321 799.4 1305.9 798.9 1294.2Z" fill="none" stroke="#000" stroke-width="3.0"/>
<path d="M812.3 1294.2 C811.7 1285.3 813.6 1275.8 817.3 1267.5 C820.9 1259.1 827.9 1249.3 834 1244 C840.1 1238.7 846.8 1236.5 854.1 1235.7 C861.3 1234.8 869.7 1235.4 877.5 1239 C885.3 1242.6 894.8 1250.5 900.9 1257.4 C907.1 1264.4 911.8 1272.5 914.3 1280.8 C916.8 1289.2 917.4 1299.3 916 1307.6 C914.6 1316 910.7 1324.6 905.9 1331 C901.2 1337.5 894.5 1343 887.5 1346.1 C880.6 1349.2 871.9 1350.3 864.1 1349.4 C856.3 1348.6 847.9 1345.8 840.7 1341.1 C833.4 1336.3 825.4 1328.8 820.6 1321 C815.9 1313.2 812.8 1303.2 812.3 1294.2Z" fill="none" stroke="#000" stroke-width="3.9"/>
<path d="M808.9 1294.2 C808.3 1284.7 810.2 1274.6 813.9 1265.8 C817.7 1257 824.7 1247 831.3 1241.4 C837.9 1235.7 845.5 1233 853.4 1232 C861.3 1231 870.5 1231.5 878.8 1235.3 C887.2 1239.1 897.1 1247.4 903.6 1254.7 C910.1 1262.1 915 1270.6 917.7 1279.5 C920.3 1288.4 921.1 1299.4 919.7 1308.3 C918.2 1317.2 914 1326.2 909 1333.1 C903.9 1339.9 897 1346.1 889.5 1349.4 C882.1 1352.8 872.6 1354 864.1 1353.1 C855.6 1352.3 846.5 1349.4 838.7 1344.4 C830.9 1339.4 822.2 1331.4 817.3 1323 C812.3 1314.6 809.5 1303.8 808.9 1294.2Z" fill="none" stroke="#000" stroke-width="2.0"/>
<path d="M817.3 1224 C822.3 1222.6 836.8 1216.7 847.4 1215.6 C858 1214.5 871.4 1215.3 880.8 1217.3 C890.3 1219.2 898.1 1222.6 904.3 1227.3 C910.4 1232.1 915.4 1242.6 917.7 1245.7" fill="none" stroke="#000" stroke-width="2.0"/>
<path d="M917.7 1245.7 L929.4 1240.7" fill="none" stroke="#000" stroke-width="2.0"/>
<path d="M817.3 1224 L815.6 1235.7" fill="none" stroke="#000" stroke-width="2.0"/>
<path d="M921 1252.4 L954.5 1239" fill="none" stroke="#000" stroke-width="2.0"/>
<path d="M927.7 1259.1 C931.6 1258.5 943.3 1257.7 951.1 1255.8 C958.9 1253.8 970.4 1250.7 974.5 1247.4 C978.7 1244 975.9 1237.6 976.2 1235.7" fill="none" stroke="#000" stroke-width="2.0"/>
<path d="M946.1 1274.2 C952.2 1265 973.7 1263.6 981.2 1262.4 C988.8 1261.3 989.6 1262.2 991.3 1267.5 C992.9 1272.8 992.9 1285.3 991.3 1294.2 C989.6 1303.2 984 1315.1 981.2 1321 C978.4 1326.9 980.1 1328.3 974.5 1329.4 C969 1330.5 952.8 1329.6 947.8 1327.7 C942.8 1325.7 944.7 1326.6 944.4 1317.7 C944.1 1308.7 940 1283.4 946.1 1274.2Z" fill="none" stroke="#000" stroke-width="2.0"/>
<path d="M950.5 1272.8 C950.2 1277.5 949 1291.8 949.1 1300.9 C949.2 1310.1 950.8 1323.2 951.1 1327.7" fill="none" stroke="#000" stroke-width="1.1"/>
<path d="M954.8 1271.5 C954.6 1276.4 953.4 1291.6 953.5 1300.9 C953.6 1310.3 955.1 1323.2 955.5 1327.7" fill="none" stroke="#000" stroke-width="1.1"/>
<path d="M959.2 1270.5 C958.9 1275.6 957.7 1291.4 957.8 1300.9 C957.9 1310.5 959.5 1323.2 959.8 1327.7" fill="none" stroke="#000" stroke-width="1.1"/>
<path d="M963.5 1269.1 C963.3 1274.4 962.1 1291.2 962.2 1300.9 C962.3 1310.7 963.8 1323.2 964.2 1327.7" fill="none" stroke="#000" stroke-width="1.1"/>
<path d="M967.9 1268.1 C967.6 1273.6 966.4 1291 966.5 1300.9 C966.6 1310.9 968.2 1323.2 968.5 1327.7" fill="none" stroke="#000" stroke-width="1.1"/>
<path d="M972.2 1266.8 C972 1272.5 970.8 1290.8 970.9 1300.9 C971 1311.1 972.5 1323.2 972.9 1327.7" fill="none" stroke="#000" stroke-width="1.1"/>
<path d="M976.6 1265.8 C976.3 1271.6 975.1 1290.6 975.2 1300.9 C975.3 1311.2 976.9 1323.2 977.2 1327.7" fill="none" stroke="#000" stroke-width="1.1"/>
<path d="M980.9 1264.5 C980.7 1270.5 979.5 1290.4 979.6 1300.9 C979.7 1311.5 981.2 1323.2 981.6 1327.7" fill="none" stroke="#000" stroke-width="1.1"/>
<path d="M985.3 1263.4 C985 1269.7 983.8 1290.2 983.9 1300.9 C984 1311.6 985.6 1323.2 985.9 1327.7" fill="none" stroke="#000" stroke-width="1.1"/>
<path d="M926 1337.7 L967.9 1344.4" fill="none" stroke="#000" stroke-width="2.0"/>
<path d="M1038.1 1309.3 L1041.5 1299.3 L1048.2 1299.3" fill="none" stroke="#000" stroke-width="2.0"/>
<path d="M783.8 1220.6 C783.3 1225.1 780.5 1235.1 780.5 1247.4 C780.5 1259.7 781.9 1281.4 783.8 1294.2 C785.8 1307.1 788.8 1318.2 792.2 1324.4 C795.5 1330.5 801.9 1329.9 803.9 1331" fill="none" stroke="#000" stroke-width="2.0"/>
<path d="M797.2 1210.6 C796.6 1213.4 795.5 1221.2 793.8 1227.3 C792.2 1233.4 788.3 1244 787.2 1247.4" fill="none" stroke="#000" stroke-width="2.0"/>
<ellipse cx="422.1" cy="1611.5" rx="42.5" ry="27.3" transform="rotate(0 422.1 1611.5)" fill="none" stroke="#000" stroke-width="3.9"/>
<path d="M380.9 1617.9 C382.4 1619.8 385.8 1626 389.9 1629 C394 1632 400 1634.4 405.3 1635.9 C410.7 1637.4 416.5 1638 422.1 1638 C427.6 1638 433.4 1637.4 438.8 1635.9 C444.2 1634.4 450.2 1632 454.2 1629 C458.3 1626 461.7 1619.8 463.2 1617.9" fill="none" stroke="#000" stroke-width="3.0"/>
<clipPath id="m9"><ellipse cx="422.1" cy="1612.8" rx="34.7" ry="19.3"/></clipPath>
<g clip-path="url(#m9)" stroke="#000" stroke-width="1" fill="none"><path d="M363.7 1587.8 L379.7 1637.8"/><path d="M367.3 1587.8 L383.3 1637.8"/><path d="M370.9 1587.8 L386.9 1637.8"/><path d="M374.5 1587.8 L390.5 1637.8"/><path d="M378.1 1587.8 L394.1 1637.8"/><path d="M381.7 1587.8 L397.7 1637.8"/><path d="M385.3 1587.8 L401.3 1637.8"/><path d="M388.9 1587.8 L404.9 1637.8"/><path d="M392.5 1587.8 L408.5 1637.8"/><path d="M396.1 1587.8 L412.1 1637.8"/><path d="M399.7 1587.8 L415.7 1637.8"/><path d="M403.3 1587.8 L419.3 1637.8"/><path d="M406.9 1587.8 L422.9 1637.8"/><path d="M410.5 1587.8 L426.5 1637.8"/><path d="M414.1 1587.8 L430.1 1637.8"/><path d="M417.7 1587.8 L433.7 1637.8"/><path d="M421.3 1587.8 L437.3 1637.8"/><path d="M424.9 1587.8 L440.9 1637.8"/><path d="M428.5 1587.8 L444.5 1637.8"/><path d="M432.1 1587.8 L448.1 1637.8"/><path d="M435.7 1587.8 L451.7 1637.8"/><path d="M439.3 1587.8 L455.3 1637.8"/><path d="M442.9 1587.8 L458.9 1637.8"/><path d="M446.5 1587.8 L462.5 1637.8"/><path d="M450.1 1587.8 L466.1 1637.8"/><path d="M453.7 1587.8 L469.7 1637.8"/><path d="M457.3 1587.8 L473.3 1637.8"/><path d="M460.9 1587.8 L476.9 1637.8"/><path d="M464.5 1587.8 L480.5 1637.8"/><path d="M382.1 1588 L462.1 1580"/><path d="M382.1 1591.6 L462.1 1583.6"/><path d="M382.1 1595.2 L462.1 1587.2"/><path d="M382.1 1598.8 L462.1 1590.8"/><path d="M382.1 1602.4 L462.1 1594.4"/><path d="M382.1 1606 L462.1 1598"/><path d="M382.1 1609.6 L462.1 1601.6"/><path d="M382.1 1613.2 L462.1 1605.2"/><path d="M382.1 1616.8 L462.1 1608.8"/><path d="M382.1 1620.4 L462.1 1612.4"/><path d="M382.1 1624 L462.1 1616"/><path d="M382.1 1627.6 L462.1 1619.6"/><path d="M382.1 1631.2 L462.1 1623.2"/><path d="M382.1 1634.8 L462.1 1626.8"/><path d="M382.1 1638.4 L462.1 1630.4"/><path d="M382.1 1642 L462.1 1634"/><path d="M382.1 1645.6 L462.1 1637.6"/></g>
<ellipse cx="422.1" cy="1612.8" rx="34.7" ry="19.3" transform="rotate(0 422.1 1612.8)" fill="none" stroke="#000" stroke-width="3.0"/>
<ellipse cx="422.1" cy="1688.7" rx="42.5" ry="27.3" transform="rotate(0 422.1 1688.7)" fill="none" stroke="#000" stroke-width="3.9"/>
<ellipse cx="422.1" cy="1688.2" rx="38.6" ry="23.7" transform="rotate(0 422.1 1688.2)" fill="none" stroke="#000" stroke-width="2.0"/>
<ellipse cx="422.1" cy="1686.9" rx="35.5" ry="20.1" transform="rotate(0 422.1 1686.9)" fill="none" stroke="#000" stroke-width="3.0"/>
<path d="M380.9 1695.1 C382.4 1697 385.8 1703.2 389.9 1706.2 C394 1709.2 400 1711.7 405.3 1713.2 C410.7 1714.7 416.5 1715.2 422.1 1715.2 C427.6 1715.2 433.4 1714.7 438.8 1713.2 C444.2 1711.7 450.2 1709.2 454.2 1706.2 C458.3 1703.2 461.7 1697 463.2 1695.1" fill="none" stroke="#000" stroke-width="3.0"/>
<ellipse cx="443.2" cy="1694.3" rx="2.8" ry="1.8" transform="rotate(0 443.2 1694.3)" fill="none" stroke="#000" stroke-width="3.0"/>
<ellipse cx="437.6" cy="1699.4" rx="2.8" ry="1.8" transform="rotate(0 437.6 1699.4)" fill="none" stroke="#000" stroke-width="3.0"/>
<ellipse cx="427.8" cy="1702.5" rx="2.8" ry="1.8" transform="rotate(0 427.8 1702.5)" fill="none" stroke="#000" stroke-width="3.0"/>
<ellipse cx="416.4" cy="1702.5" rx="2.8" ry="1.8" transform="rotate(0 416.4 1702.5)" fill="none" stroke="#000" stroke-width="3.0"/>
<ellipse cx="406.6" cy="1699.5" rx="2.8" ry="1.8" transform="rotate(0 406.6 1699.5)" fill="none" stroke="#000" stroke-width="3.0"/>
<ellipse cx="400.9" cy="1694.3" rx="2.8" ry="1.8" transform="rotate(0 400.9 1694.3)" fill="none" stroke="#000" stroke-width="3.0"/>
<ellipse cx="400.9" cy="1688.3" rx="2.8" ry="1.8" transform="rotate(0 400.9 1688.3)" fill="none" stroke="#000" stroke-width="3.0"/>
<ellipse cx="406.6" cy="1683.1" rx="2.8" ry="1.8" transform="rotate(0 406.6 1683.1)" fill="none" stroke="#000" stroke-width="3.0"/>
<ellipse cx="416.4" cy="1680.1" rx="2.8" ry="1.8" transform="rotate(0 416.4 1680.1)" fill="none" stroke="#000" stroke-width="3.0"/>
<ellipse cx="427.7" cy="1680.1" rx="2.8" ry="1.8" transform="rotate(0 427.7 1680.1)" fill="none" stroke="#000" stroke-width="3.0"/>
<ellipse cx="437.5" cy="1683.1" rx="2.8" ry="1.8" transform="rotate(0 437.5 1683.1)" fill="none" stroke="#000" stroke-width="3.0"/>
<ellipse cx="443.2" cy="1688.3" rx="2.8" ry="1.8" transform="rotate(0 443.2 1688.3)" fill="none" stroke="#000" stroke-width="3.0"/>
<ellipse cx="615.6" cy="1674.6" rx="23.2" ry="25" transform="rotate(0 615.6 1674.6)" fill="none" stroke="#000" stroke-width="3.9"/>
<ellipse cx="611" cy="1675.3" rx="14.4" ry="16.7" transform="rotate(0 611 1675.3)" fill="none" stroke="#000" stroke-width="3.9"/>
<ellipse cx="608.2" cy="1675.3" rx="8.3" ry="10.7" transform="rotate(0 608.2 1675.3)" fill="none" stroke="#000" stroke-width="3.0"/>
<path d="M604 1669.5 L612.1 1669.5" fill="none" stroke="#000" stroke-width="2.0"/>
<path d="M604 1679.9 L612.1 1679.9" fill="none" stroke="#000" stroke-width="2.0"/>
<path d="M607.5 1666 L607.5 1684.6" fill="none" stroke="#000" stroke-width="2.0"/>
<path d="M619.1 1650 C620.8 1650.5 626.5 1650.7 629.5 1652.8 C632.5 1654.9 635.4 1658.9 636.9 1662.5 C638.5 1666.2 638.8 1670.3 638.8 1674.6 C638.8 1678.8 638.5 1684.3 636.9 1688 C635.4 1691.7 632.5 1694.9 629.5 1696.8 C626.5 1698.8 620.8 1699.2 619.1 1699.6" fill="none" stroke="#000" stroke-width="3.0"/>
<path d="M638.3 1661.4 L685.1 1661.4" fill="none" stroke="#000" stroke-width="3.9"/>
<path d="M639.2 1687.6 L685.1 1687.6" fill="none" stroke="#000" stroke-width="3.9"/>
<path d="M685.1 1661.4 L689.7 1668.3 L689.7 1681.1 L685.1 1687.6" fill="none" stroke="#000" stroke-width="3.9"/>
<path d="M680.5 1666 C680.8 1667.4 682.8 1671.2 682.8 1674.1 C682.8 1677 680.8 1681.9 680.5 1683.4" fill="none" stroke="#000" stroke-width="3.0"/>
<path d="M756.9 1641.2 C759.2 1641.3 766.6 1640.5 770.8 1641.7 C775.1 1642.9 780.5 1647.5 782.4 1648.6" fill="none" stroke="#000" stroke-width="3.9"/>
<path d="M782.4 1648.6 L821.8 1686.9" fill="none" stroke="#000" stroke-width="3.9"/>
<path d="M821.8 1686.9 C822 1688.2 824 1692.1 823.4 1695 C822.8 1697.9 820.3 1702.1 818.3 1704.2 C816.3 1706.4 813.9 1707.9 811.4 1707.7 C808.8 1707.5 805.8 1705.2 803.2 1703.1 C800.7 1701 798.6 1695.9 796.3 1695 C794 1694 791.1 1695.4 789.3 1697.3 C787.6 1699.2 785.5 1703.5 785.9 1706.6 C786.3 1709.7 788.4 1712.5 791.7 1715.8 C794.9 1719.1 803 1723.2 805.6 1726.3 C808.1 1729.3 808 1731.7 807.2 1734.4 C806.4 1737.1 803.1 1740.7 800.9 1742.5 C798.7 1744.2 796.3 1745.2 794 1744.8 C791.7 1744.4 788.2 1740.9 787 1740.2" fill="none" stroke="#000" stroke-width="3.9"/>
<path d="M787 1740.2 L745.3 1706.6" fill="none" stroke="#000" stroke-width="3.9"/>
<path d="M745.3 1706.6 C743.8 1703.9 738.1 1695.8 736.1 1690.3 C734.1 1684.9 733.3 1679.5 733.3 1674.1 C733.3 1668.7 734.1 1662.5 736.1 1657.9 C738.1 1653.3 741.9 1649.1 745.3 1646.3 C748.8 1643.6 755 1642.1 756.9 1641.2" fill="none" stroke="#000" stroke-width="3.9"/>
<path d="M759.2 1647.5 C761.2 1647.7 767.5 1647.5 770.8 1648.6 C774.1 1649.8 777.6 1653.5 778.9 1654.4" fill="none" stroke="#000" stroke-width="3.0"/>
<path d="M778.9 1654.4 L814.8 1689.2" fill="none" stroke="#000" stroke-width="3.0"/>
<path d="M814.8 1689.2 C815 1690.2 816.4 1693.1 816 1695 C815.6 1696.9 813.7 1699.7 812.5 1700.8 C811.4 1701.8 811 1702.6 809 1701.2 C807.1 1699.9 803.6 1694.3 800.9 1692.7 C798.2 1691 795.5 1690.7 792.8 1691.5 C790.1 1692.3 786.4 1694.6 784.7 1697.3 C783 1700 781.8 1704.1 782.4 1707.7 C783 1711.4 785.1 1715.8 788.2 1719.3 C791.3 1722.8 798.8 1725.9 800.9 1728.6 C803.1 1731.3 801.7 1733.8 800.9 1735.5 C800.2 1737.3 797.6 1738.6 796.3 1739 C794.9 1739.4 793.4 1738 792.8 1737.8" fill="none" stroke="#000" stroke-width="3.0"/>
<path d="M792.8 1737.8 L750 1703.1" fill="none" stroke="#000" stroke-width="3.0"/>
<path d="M750 1703.1 C748.6 1700.8 743.6 1694 741.9 1689.2 C740.1 1684.4 739.5 1679 739.5 1674.1 C739.5 1669.3 740.3 1664.1 741.9 1660.2 C743.4 1656.4 745.9 1653.1 748.8 1651 C751.7 1648.8 757.5 1648.1 759.2 1647.5" fill="none" stroke="#000" stroke-width="3.0"/>
<ellipse cx="758.1" cy="1676.4" rx="15.1" ry="22" transform="rotate(0 758.1 1676.4)" fill="none" stroke="#000" stroke-width="3.9"/>
<ellipse cx="759.2" cy="1676.4" rx="9.7" ry="15.8" transform="rotate(0 759.2 1676.4)" fill="none" stroke="#000" stroke-width="3.0"/>
<path d="M761.5 1663.7 L756.9 1676.4 L761.5 1689.2" fill="none" stroke="#000" stroke-width="3.0"/>
<path d="M776.6 1678.8 L800.9 1681.1" fill="none" stroke="#000" stroke-width="2.0"/>
<path d="M789.3 1692.7 L777.8 1667.2" fill="none" stroke="#000" stroke-width="2.0"/>
<path d="M774.3 1692.7 L785.9 1701.9" fill="none" stroke="#000" stroke-width="2.0"/>
<path d="M758.1 1703.1 L758.1 1711.2" fill="none" stroke="#000" stroke-width="2.0"/>
<path d="M761.5 1708.9 L782.4 1713.5" fill="none" stroke="#000" stroke-width="2.0"/>
<path d="M767.3 1699.6 L777.8 1725.1" fill="none" stroke="#000" stroke-width="2.0"/>
<path d="M800.9 1681.1 L803.2 1692.7" fill="none" stroke="#000" stroke-width="2.0"/>
<path d="M861.2 1647.5 C863.9 1647.6 867.7 1647.7 870.4 1649.8 C873.1 1651.9 875.8 1656.6 877.4 1660.2 C878.9 1663.9 879.4 1668.1 879.7 1671.8 C880 1675.5 880.6 1680.7 879.2 1682.2 C877.9 1683.8 873.6 1682.4 871.6 1681.1 C869.5 1679.7 867.9 1676.8 866.9 1674.1 C866 1671.4 866.8 1667.6 865.8 1664.9 C864.8 1662.2 862.3 1657.9 861.2 1657.9 C860 1657.9 860.4 1663.1 858.8 1664.9 C857.3 1666.6 853.2 1666 851.9 1668.3 C850.5 1670.7 850.3 1675.5 850.7 1678.8 C851.1 1682 852.5 1685.7 854.2 1688 C855.9 1690.3 859 1690.7 861.2 1692.7 C863.3 1694.6 866.2 1697.5 866.9 1699.6 C867.7 1701.7 867.5 1704.6 865.8 1705.4 C864.1 1706.2 859.4 1705.6 856.5 1704.2 C853.6 1702.9 850.5 1701.2 848.4 1697.3 C846.3 1693.4 844.6 1686.1 843.8 1681.1 C843 1676.1 843 1671.6 843.8 1667.2 C844.6 1662.7 846.7 1657.5 848.4 1654.4 C850.2 1651.4 852.1 1650.3 854.2 1649.1 C856.3 1648 858.5 1647.4 861.2 1647.5Z" fill="none" stroke="#000" stroke-width="3.9"/>
<path d="M965.2 1616.2 L970.1 1619.1 L977.5 1637.5 L993.4 1648.5 L1020.3 1665.6 L1032.5 1644.1" fill="none" stroke="#000" stroke-width="3.9"/>
<path d="M1032.5 1644.1 C1033 1643.9 1034.5 1642.8 1035.4 1643.1 C1036.3 1643.3 1037.5 1644 1037.9 1645.5 C1038.2 1647 1037.5 1651 1037.4 1652.1" fill="none" stroke="#000" stroke-width="3.9"/>
<path d="M1037.4 1652.1 L1027.6 1671.7 L1037.4 1676.6" fill="none" stroke="#000" stroke-width="3.9"/>
<path d="M1037.4 1676.6 C1040.6 1678 1048.8 1683.3 1056.9 1685.1 C1065.1 1687 1078.9 1686.4 1086.3 1687.6 C1093.6 1688.8 1098.5 1691.7 1101 1692.5" fill="none" stroke="#000" stroke-width="3.9"/>
<path d="M1101 1692.5 L1127.9 1707.2 L1164.5 1726.7" fill="none" stroke="#000" stroke-width="3.9"/>
<path d="M1164.5 1726.7 C1165.8 1728.8 1169.6 1734.5 1171.9 1738.9 C1174.1 1743.4 1177 1751.2 1178 1753.6" fill="none" stroke="#000" stroke-width="3.9"/>
<path d="M1178 1753.6 L1193.9 1763.4 L1220.3 1780.5" fill="none" stroke="#000" stroke-width="3.9"/>
<path d="M965.2 1616.2 L960.3 1620.3 L966.5 1632.6 L979.9 1653.4 L998.2 1663.1 L1027.6 1680.3 L1060.6 1697.4" fill="none" stroke="#000" stroke-width="3.9"/>
<path d="M1060.6 1697.4 C1065.3 1697.7 1081.2 1697.7 1088.7 1699.3 C1096.3 1701 1103 1705.9 1105.8 1707.2" fill="none" stroke="#000" stroke-width="3.9"/>
<path d="M1105.8 1707.2 L1154.7 1734.1" fill="none" stroke="#000" stroke-width="3.9"/>
<path d="M1154.7 1734.1 C1155.8 1735.5 1158.4 1737.9 1160.9 1742.6 C1163.3 1747.3 1168 1758.9 1169.4 1762.2" fill="none" stroke="#000" stroke-width="3.9"/>
<path d="M1169.4 1762.2 L1186.5 1773.2 L1213.4 1790.8" fill="none" stroke="#000" stroke-width="3.9"/>
<ellipse cx="1217.1" cy="1786.1" rx="3.4" ry="5.9" transform="rotate(25 1217.1 1786.1)" fill="none" stroke="#000" stroke-width="3.0"/>
<ellipse cx="1141.2" cy="2089" rx="21.6" ry="12.3" transform="rotate(0 1141.2 2089)" fill="none" stroke="#000" stroke-width="3.9"/>
<ellipse cx="1141.2" cy="2089" rx="14.2" ry="8.2" transform="rotate(0 1141.2 2089)" fill="none" stroke="#000" stroke-width="2.0"/>
<ellipse cx="1141.2" cy="2089" rx="6.7" ry="4.5" transform="rotate(0 1141.2 2089)" fill="none" stroke="#000" stroke-width="2.0"/>
<path d="M1120 2088.2 L1118.8 2099.4 L1127.4 2108.8 L1155.4 2108.8 L1163.6 2099.4 L1162.9 2088.2" fill="none" stroke="#000" stroke-width="3.9"/>
<path d="M1127.4 2108.8 L1128.5 2098.7" fill="none" stroke="#000" stroke-width="2.0"/>
<path d="M1155.4 2108.8 L1154.7 2098.7" fill="none" stroke="#000" stroke-width="2.0"/>
<path d="M1116.2 2108.8 L1115.1 2120 L1123.7 2129.3 L1159.2 2129.3 L1167.7 2120 L1166.6 2106.9" fill="none" stroke="#000" stroke-width="3.9"/>
<path d="M1116.2 2110.6 C1120.3 2111.9 1132.1 2118.4 1140.5 2118.1 C1148.9 2117.8 1162.3 2110.3 1166.6 2108.8" fill="none" stroke="#000" stroke-width="3.0"/>
<path d="M1118.8 2127.4 C1118.8 2130.8 1117.1 2143.3 1118.8 2148 C1120.6 2152.6 1125.1 2153.9 1129.3 2155.4 C1133.5 2157 1139.2 2157.6 1144.2 2157.3 C1149.2 2157 1155.7 2155.4 1159.2 2153.6 C1162.6 2151.7 1163.8 2150.4 1164.7 2146.1 C1165.7 2141.7 1164.7 2130.5 1164.7 2127.4" fill="none" stroke="#000" stroke-width="3.9"/>
<path d="M1118.8 2128.5 C1122.4 2129.7 1132.8 2135.3 1140.5 2135.3 C1148.1 2135.3 1160.7 2129.7 1164.7 2128.5" fill="none" stroke="#000" stroke-width="3.0"/>
<path d="M1123.7 2129.3 L1124.8 2120 L1158.4 2120 L1159.2 2129.3" fill="none" stroke="#000" stroke-width="2.0"/>
<path d="M996.8 1983 L1005.2 1989.7 L990.1 1999.7 L978.4 1989.7 L985.1 1969.6 L1010.2 1969.6 L1023.6 1961.2 L1031.9 1939.5 L1043.7 1927.8 L1127.3 1877.6 L1227.7 1822.4 L1308 1780.5 L1323.1 1762.1 L1333.1 1766.5 L1315.4 1753.1 L1318 1747.1 L1331.4 1740.4 L1390 1730.3 L1405 1735.4 L1439.8 1703.6" fill="none" stroke="#000" stroke-width="3.9"/>
<path d="M1005.2 1989.7 L1060.4 2019.8 L1120.6 1986.3 L1150.7 1989.7 L1264.5 1998 L1348.2 1996.4 L1480 1991.4" fill="none" stroke="#000" stroke-width="3.9"/>
<path d="M1440 1703.6 L1468.4 1673.5" fill="none" stroke="#000" stroke-width="3.9"/>
<path d="M1468.4 1673.5 C1469.6 1672.1 1471.5 1667 1475.1 1665.1 C1478.8 1663.1 1487.7 1662.3 1490.2 1661.8" fill="none" stroke="#000" stroke-width="3.9"/>
<path d="M1490.2 1661.8 L1607.3 1690.2 L1741.2 1722 L1754.5 1728.7 L1881.7 1802.3 L1915.2 1796.6 L1941.9 1812.3 L1942.9 1834.1 L1778 1931.1 L1776.3 1939.5 L1731.1 1966.3 L1702.7 1966.3 L1696 1959.6 L1503.6 1956.2 L1498.6 1991.4 L1440 1993" fill="none" stroke="#000" stroke-width="3.9"/>
<path d="M1563.8 1959.6 L1498.6 1991.4" fill="none" stroke="#000" stroke-width="3.9"/>
<clipPath id="c13o"><path clip-rule="evenodd" d="M0 0H2030V3110H0Z M1262 1682H1678V1978H1262Z M960 1800H1262V2060H960Z"/></clipPath><clipPath id="c13i"><rect x="1262" y="1682" width="416" height="296"/></clipPath><g clip-path="url(#c13o)">
<path d="M1034.3 1941.2 L1092.2 1972.9 L1100.5 1971.3 L1134 1972.9" fill="none" stroke="#000" stroke-width="2.0"/>
<path d="M1034.3 1941.2 L1034.3 1962.9 L1060.4 1978" fill="none" stroke="#000" stroke-width="2.0"/>
<path d="M1060.4 1939.5 L1331.4 1797.3" fill="none" stroke="#000" stroke-width="2.0"/>
<path d="M1034.3 1962.9 L1050.3 1989.7" fill="none" stroke="#000" stroke-width="2.0"/>
<path d="M1050.3 1991.4 L1060.4 1996.4" fill="none" stroke="#000" stroke-width="2.0"/>
<path d="M1060.4 1996.4 L1103.9 1974.6 L1137.3 1976.3 L1207.6 1934.5" fill="none" stroke="#000" stroke-width="2.0"/>
<path d="M1207.6 1934.5 C1212.1 1933.4 1225.5 1928.3 1234.4 1927.8 C1243.3 1927.2 1253.4 1928.9 1261.2 1931.1 C1269 1933.4 1276.2 1937.3 1281.2 1941.2 C1286.3 1945.1 1289.9 1949.8 1291.3 1954.5 C1292.7 1959.3 1289.9 1967.1 1289.6 1969.6" fill="none" stroke="#000" stroke-width="2.0"/>
<path d="M1289.6 1969.6 L1264.5 1994.7" fill="none" stroke="#000" stroke-width="2.0"/>
<path d="M1053 1988 L1061.1 1992.4 L1103.2 1971.3 L1136 1972.9 L1206.3 1931.1" fill="none" stroke="#000" stroke-width="2.0"/>
<path d="M1206.3 1931.1 C1211 1930 1225 1925 1234.4 1924.4 C1243.8 1923.9 1254.6 1925.4 1262.8 1927.8 C1271.1 1930.1 1278.6 1934.1 1283.9 1938.5 C1289.2 1942.8 1293.1 1948.5 1294.6 1953.9 C1296.1 1959.2 1293.2 1967.8 1292.9 1970.6" fill="none" stroke="#000" stroke-width="2.0"/>
<path d="M1292.9 1970.6 L1269.5 1994.7" fill="none" stroke="#000" stroke-width="2.0"/>
<path d="M1150.7 1984.7 C1158 1980.2 1182.5 1963.7 1194.2 1957.9 C1205.9 1952 1212.1 1950.6 1221 1949.5 C1229.9 1948.4 1241.1 1949.8 1247.8 1951.2 C1254.5 1952.6 1258.9 1956.8 1261.2 1957.9" fill="none" stroke="#000" stroke-width="2.0"/>
<path d="M1120.6 1951.2 L1127.3 1939.5 L1149.1 1936.1 L1162.4 1942.8 L1159.1 1956.2 L1137.3 1961.2Z" fill="none" stroke="#000" stroke-width="3.0"/>
<path d="M1120.6 1951.2 L1121.3 1956.2 L1137.3 1965.3 L1159.1 1960.6 L1159.1 1956.2" fill="none" stroke="#000" stroke-width="2.0"/>
<path d="M1107.2 1947.9 C1108.9 1945.9 1111.7 1939.2 1117.3 1936.1 C1122.8 1933.1 1133.4 1930.3 1140.7 1929.4 C1147.9 1928.6 1157.4 1930.8 1160.8 1931.1" fill="none" stroke="#000" stroke-width="2.0"/>
<path d="M1107.2 1949.5 L1190.9 1906 L1214.3 1921.1" fill="none" stroke="#000" stroke-width="2.0"/>
<path d="M1195.9 1902.7 L1262.8 1931.1" fill="none" stroke="#000" stroke-width="2.0"/>
<path d="M1092.2 1972.9 L1107.2 1949.5" fill="none" stroke="#000" stroke-width="2.0"/>
<ellipse cx="1195.9" cy="1928.4" rx="9" ry="6" transform="rotate(0 1195.9 1928.4)" fill="none" stroke="#000" stroke-width="2.0"/>
<ellipse cx="1254.5" cy="1959.6" rx="9" ry="6" transform="rotate(0 1254.5 1959.6)" fill="none" stroke="#000" stroke-width="2.0"/>
<ellipse cx="1267.9" cy="1890.3" rx="16.1" ry="10" transform="rotate(0 1267.9 1890.3)" fill="none" stroke="#000" stroke-width="2.0"/>
<ellipse cx="1401.7" cy="1929.4" rx="18.4" ry="11" transform="rotate(0 1401.7 1929.4)" fill="none" stroke="#000" stroke-width="2.0"/>
<path d="M1217.7 1889.3 L1224.4 1887.6 L1287.9 1850.8" fill="none" stroke="#000" stroke-width="2.0"/>
<path d="M1224.4 1887.6 L1261.2 1909.4" fill="none" stroke="#000" stroke-width="2.0"/>
<path d="M1261.2 1931.1 L1348.2 1882.6" fill="none" stroke="#000" stroke-width="2.0"/>
<path d="M1291.3 1942.8 L1369.9 1894.3" fill="none" stroke="#000" stroke-width="2.0"/>
<path d="M1298 1847.5 L1334.8 1870.9 L1338.1 1845.8 L1415.1 1807.3" fill="none" stroke="#000" stroke-width="2.0"/>
<path d="M1415.1 1807.3 C1419 1806.8 1432.9 1802.8 1438.5 1804 C1444.1 1805.1 1446.9 1812.3 1448.5 1814" fill="none" stroke="#000" stroke-width="2.0"/>
<path d="M1301.3 1852.5 L1333.1 1874.2" fill="none" stroke="#000" stroke-width="2.0"/>
<path d="M1319.7 1837.4 L1338.1 1845.8" fill="none" stroke="#000" stroke-width="2.0"/>
<path d="M1319.7 1837.4 L1378.3 1804 L1378.3 1797.3 L1385 1795.6" fill="none" stroke="#000" stroke-width="2.0"/>
<path d="M1354.9 1874.2 C1354.6 1872.6 1352.1 1867 1353.2 1864.2 C1354.3 1861.4 1360.2 1858.6 1361.5 1857.5" fill="none" stroke="#000" stroke-width="2.0"/>
<path d="M1361.5 1857.5 L1441.9 1814" fill="none" stroke="#000" stroke-width="2.0"/>
<path d="M1441.9 1814 C1445.2 1814 1456.9 1812.3 1461.9 1814 C1466.9 1815.7 1469.7 1817.3 1472 1824 C1474.2 1830.7 1474.8 1849.1 1475.3 1854.2" fill="none" stroke="#000" stroke-width="2.0"/>
<path d="M1354.9 1874.2 L1361.5 1879.3 L1366.6 1867.5" fill="none" stroke="#000" stroke-width="2.0"/>
<path d="M1366.6 1867.5 C1368.5 1868.7 1374.7 1873.1 1378.3 1874.2 C1381.9 1875.3 1386.6 1874.2 1388.3 1874.2" fill="none" stroke="#000" stroke-width="2.0"/>
<path d="M1388.3 1874.2 L1480 1827.4" fill="none" stroke="#000" stroke-width="2.0"/>
<path d="M1338.1 1880.9 L1348.2 1882.6 L1369.9 1894.3 L1373.3 1902.7" fill="none" stroke="#000" stroke-width="2.0"/>
<path d="M1373.3 1902.7 L1388.3 1907.7" fill="none" stroke="#000" stroke-width="2.0"/>
<path d="M1388.3 1907.7 L1428.5 1884.3 L1480 1857.5" fill="none" stroke="#000" stroke-width="2.0"/>
<path d="M1304.7 1934.5 L1354.9 1971.3" fill="none" stroke="#000" stroke-width="2.0"/>
<path d="M1304.7 1934.5 L1381.6 1897.7" fill="none" stroke="#000" stroke-width="2.0"/>
<path d="M1294.6 1961.2 L1294.6 1984.7" fill="none" stroke="#000" stroke-width="2.0"/>
<path d="M1264.5 1994.7 L1480 1946.2" fill="none" stroke="#000" stroke-width="3.0"/>
<path d="M1274.5 1989.7 L1480 1942.8" fill="none" stroke="#000" stroke-width="2.0"/>
<path d="M1428.5 1877.6 L1480 1901" fill="none" stroke="#000" stroke-width="2.0"/>
<path d="M1448.5 1869.2 L1480 1880.9" fill="none" stroke="#000" stroke-width="2.0"/>
<path d="M1480 1904.4 L1458.6 1947.9" fill="none" stroke="#000" stroke-width="2.0"/>
<path d="M1461.9 1683.5 L1480 1710.3" fill="none" stroke="#000" stroke-width="2.0"/>
<ellipse cx="1453.6" cy="1730.3" rx="12.7" ry="20.1" transform="rotate(25 1453.6 1730.3)" fill="none" stroke="#000" stroke-width="3.0"/>
<path d="M1449.2 1747.1 C1449.7 1744.3 1449.8 1735.6 1451.9 1730.3 C1454 1725 1460.3 1717.8 1461.9 1715.3" fill="none" stroke="#000" stroke-width="2.0"/>
<path d="M1343.1 1763.8 L1348.2 1758.8" fill="none" stroke="#000" stroke-width="2.0"/>
<path d="M1348.2 1758.8 L1405 1747.1" fill="none" stroke="#000" stroke-width="2.0"/>
<path d="M1405 1747.1 C1407.3 1747.4 1415.4 1747.1 1418.4 1748.8 C1421.5 1750.4 1422.6 1751.8 1423.4 1757.1 C1424.3 1762.4 1423.4 1776.6 1423.4 1780.5" fill="none" stroke="#000" stroke-width="2.0"/>
<path d="M1344.8 1767.2 C1352.6 1765.5 1382.7 1759.1 1391.7 1757.1 C1400.6 1755.2 1397.2 1755.7 1398.4 1755.4" fill="none" stroke="#000" stroke-width="2.0"/>
<path d="M1391.7 1772.2 C1392.8 1770.8 1397.1 1766.6 1398.4 1763.8 C1399.6 1761 1398.9 1756.8 1399 1755.4" fill="none" stroke="#000" stroke-width="2.0"/>
<path d="M1423.4 1780.5 L1480 1787.2" fill="none" stroke="#000" stroke-width="2.0"/>
<path d="M1311.4 1792.3 C1314.1 1790.9 1309.7 1787.5 1328.1 1783.9 C1346.5 1780.3 1406.2 1772.7 1421.8 1770.5" fill="none" stroke="#000" stroke-width="2.0"/>
<path d="M1423.4 1780.5 L1391.7 1797.3" fill="none" stroke="#000" stroke-width="2.0"/>
<path d="M1331.4 1804 L1378.3 1797.3" fill="none" stroke="#000" stroke-width="2.0"/>
<ellipse cx="1428.5" cy="1797.3" rx="15.1" ry="6.7" transform="rotate(0 1428.5 1797.3)" fill="none" stroke="#000" stroke-width="2.0"/>
<path d="M1468.4 1673.5 L1498.6 1740.4 L1458.4 1780.5" fill="none" stroke="#000" stroke-width="2.0"/>
<path d="M1490.2 1740.4 L1463.4 1773.8" fill="none" stroke="#000" stroke-width="2.0"/>
<path d="M1483.5 1673.5 L1580.5 1728.7" fill="none" stroke="#000" stroke-width="2.0"/>
<path d="M1557.1 1690.2 L1610.7 1711.9 L1587.2 1728.7 L1550.4 1800.6" fill="none" stroke="#000" stroke-width="2.0"/>
<path d="M1562.1 1688.5 L1614 1710.3" fill="none" stroke="#000" stroke-width="2.0"/>
<path d="M1440 1783.9 L1465.1 1787.2 L1523.7 1778.9 L1540.4 1787.2" fill="none" stroke="#000" stroke-width="2.0"/>
<path d="M1465.1 1787.2 L1483.5 1797.3" fill="none" stroke="#000" stroke-width="2.0"/>
<path d="M1530.3 1780.5 L1553.8 1793.9" fill="none" stroke="#000" stroke-width="2.0"/>
<path d="M1533.7 1793.9 L1547.1 1800.6 L1547.1 1809" fill="none" stroke="#000" stroke-width="3.0"/>
<path d="M1537 1791.2 L1551.1 1798.6 L1551.1 1806.6" fill="none" stroke="#000" stroke-width="2.0"/>
<path d="M1540.4 1788.9 L1554.4 1796.6 L1554.4 1804" fill="none" stroke="#000" stroke-width="2.0"/>
<path d="M1440 1814 L1460.1 1817.3 L1471.8 1824 L1473.5 1854.2 L1440 1837.4" fill="none" stroke="#000" stroke-width="2.0"/>
<path d="M1473.5 1840.8 L1537 1800.6" fill="none" stroke="#000" stroke-width="2.0"/>
<path d="M1602.3 1737 L1572.2 1797.3 L1570.5 1804 L1637.4 1844.1" fill="none" stroke="#000" stroke-width="2.0"/>
<path d="M1587.2 1728.7 L1602.3 1737 L1630.7 1727 L1707.7 1765.5" fill="none" stroke="#000" stroke-width="2.0"/>
<path d="M1622.4 1701.9 L1694.3 1737" fill="none" stroke="#000" stroke-width="2.0"/>
<path d="M1627.4 1722 L1610.7 1732 L1607.3 1740.4" fill="none" stroke="#000" stroke-width="2.0"/>
<path d="M1607.3 1740.4 L1637.4 1750.4 L1670.9 1772.2 L1664.2 1777.2" fill="none" stroke="#000" stroke-width="2.0"/>
<path d="M1630.7 1760.5 L1664.2 1778.9 L1635.8 1827.4 L1597.3 1804Z" fill="none" stroke="#000" stroke-width="3.9"/>
<ellipse cx="1670.2" cy="1756.1" rx="5.7" ry="3.7" transform="rotate(0 1670.2 1756.1)" fill="none" stroke="#000" stroke-width="2.0"/>
<ellipse cx="1709.4" cy="1734.4" rx="5.7" ry="3.7" transform="rotate(0 1709.4 1734.4)" fill="none" stroke="#000" stroke-width="2.0"/>
<ellipse cx="1783" cy="1772.2" rx="6.7" ry="4.4" transform="rotate(0 1783 1772.2)" fill="none" stroke="#000" stroke-width="2.0"/>
<ellipse cx="1734.5" cy="1797.9" rx="9" ry="6" transform="rotate(0 1734.5 1797.9)" fill="none" stroke="#000" stroke-width="2.0"/>
<ellipse cx="1727.8" cy="1760.5" rx="36.1" ry="21.8" transform="rotate(0 1727.8 1760.5)" fill="none" stroke="#000" stroke-width="2.0"/>
<ellipse cx="1727.8" cy="1760.5" rx="30.1" ry="17.4" transform="rotate(0 1727.8 1760.5)" fill="none" stroke="#000" stroke-width="2.0"/>
<path d="M1707.7 1762.1 L1712.7 1752.1 L1734.5 1747.7 L1747.9 1755.4 L1744.5 1768.8 L1722.8 1773.8Z" fill="none" stroke="#000" stroke-width="3.0"/>
<path d="M1707.7 1762.1 L1708.4 1768.8 L1722.8 1777.9 L1744.5 1772.8 L1744.5 1768.8" fill="none" stroke="#000" stroke-width="2.0"/>
<path d="M1450 1869.2 L1483.5 1884.3 L1523.7 1817.3 L1547.1 1830.7 L1627.4 1879.3" fill="none" stroke="#000" stroke-width="2.0"/>
<path d="M1547.1 1830.7 L1518.6 1896 L1560.5 1917.7" fill="none" stroke="#000" stroke-width="2.0"/>
<ellipse cx="1575.5" cy="1881.6" rx="15.1" ry="9.4" transform="rotate(0 1575.5 1881.6)" fill="none" stroke="#000" stroke-width="2.0"/>
<path d="M1547.1 1815.7 L1645.8 1870.9" fill="none" stroke="#000" stroke-width="2.0"/>
<path d="M1635.8 1857.5 L1640.8 1849.1 L1660.8 1859.2 L1654.2 1867.5" fill="none" stroke="#000" stroke-width="3.0"/>
<path d="M1639.1 1854.2 L1657.5 1863.5" fill="none" stroke="#000" stroke-width="2.0"/>
<path d="M1642.4 1850.8 L1659.2 1860.2" fill="none" stroke="#000" stroke-width="2.0"/>
<path d="M1788 1777.2 L1510.3 1936.1" fill="none" stroke="#000" stroke-width="2.0"/>
<path d="M1808.1 1775.5 L1654.2 1864.9" fill="none" stroke="#000" stroke-width="2.0"/>
<path d="M1510.3 1936.1 L1440 1954.5" fill="none" stroke="#000" stroke-width="2.0"/>
<path d="M1510.3 1939.5 L1440 1957.9" fill="none" stroke="#000" stroke-width="2.0"/>
<path d="M1510.3 1936.1 L1697.7 1931.1 L1709.4 1939.5 L1709.4 1966.3" fill="none" stroke="#000" stroke-width="2.0"/>
<path d="M1697.7 1931.1 L1696 1959.6" fill="none" stroke="#000" stroke-width="2.0"/>
<path d="M1510.3 1912.7 L1500.2 1937.8" fill="none" stroke="#000" stroke-width="2.0"/>
<path d="M1511.9 1912.7 L1550.4 1931.1" fill="none" stroke="#000" stroke-width="2.0"/>
<path d="M1731.1 1837.4 L1791.4 1804 L1858.3 1837.4" fill="none" stroke="#000" stroke-width="2.0"/>
<path d="M1731.1 1837.4 L1791.4 1872.6" fill="none" stroke="#000" stroke-width="2.0"/>
<path d="M1739.5 1840.8 L1761.2 1829.1 L1813.1 1860.8 L1791.4 1870.9" fill="none" stroke="#000" stroke-width="2.0"/>
<path d="M1769.6 1820.7 L1789.7 1810.7 L1854.9 1844.1" fill="none" stroke="#000" stroke-width="2.0"/>
<ellipse cx="1806.4" cy="1836.8" rx="11.7" ry="7.7" transform="rotate(0 1806.4 1836.8)" fill="none" stroke="#000" stroke-width="2.0"/>
<ellipse cx="1762.9" cy="1845.8" rx="9" ry="6" transform="rotate(0 1762.9 1845.8)" fill="none" stroke="#000" stroke-width="2.0"/>
<ellipse cx="1704.4" cy="1879.3" rx="16.7" ry="10.7" transform="rotate(0 1704.4 1879.3)" fill="none" stroke="#000" stroke-width="2.0"/>
<path d="M1664.2 1874.2 L1707.7 1850.8 L1767.9 1885.9" fill="none" stroke="#000" stroke-width="2.0"/>
<path d="M1672.6 1877.6 L1706 1860.8 L1761.2 1891" fill="none" stroke="#000" stroke-width="2.0"/>
<path d="M1672.6 1877.6 L1697.7 1894.3" fill="none" stroke="#000" stroke-width="2.0"/>
<path d="M1650.8 1884.3 L1694.3 1911" fill="none" stroke="#000" stroke-width="2.0"/>
<path d="M1654.2 1891 L1691 1914.4" fill="none" stroke="#000" stroke-width="2.0"/>
<path d="M1578.9 1931.1 L1650.8 1884.3" fill="none" stroke="#000" stroke-width="2.0"/>
<path d="M1846.6 1814 L1858.3 1805.6 L1881.7 1802.3" fill="none" stroke="#000" stroke-width="2.0"/>
<path d="M1846.6 1814 L1868.3 1825.7" fill="none" stroke="#000" stroke-width="2.0"/>
<path d="M1868.3 1825.7 L1931.9 1810.7" fill="none" stroke="#000" stroke-width="3.0"/>
<path d="M1931.9 1810.7 C1933 1811.8 1937.5 1814 1938.6 1817.3 C1939.7 1820.7 1938.6 1828.5 1938.6 1830.7" fill="none" stroke="#000" stroke-width="3.0"/>
<path d="M1938.6 1830.7 L1925.2 1840.8 L1908.5 1829.1 L1871.7 1827.4" fill="none" stroke="#000" stroke-width="2.0"/>
<path d="M1908.5 1829.1 L1918.5 1817.3" fill="none" stroke="#000" stroke-width="2.0"/>
<path d="M1689.3 1904.4 L1697.7 1899.3 L1747.9 1891 L1761.2 1899.3 L1774.6 1907.7 L1774.6 1931.1" fill="none" stroke="#000" stroke-width="3.0"/>
<path d="M1689.3 1904.4 L1711 1917.7 L1766.3 1904.4" fill="none" stroke="#000" stroke-width="3.0"/>
<path d="M1766.3 1904.4 C1767.4 1905.5 1771.7 1908.3 1772.9 1911 C1774.2 1913.8 1773.8 1919.4 1774 1921.1" fill="none" stroke="#000" stroke-width="3.0"/>
<path d="M1734.5 1912.7 L1757.9 1931.1 L1769.6 1924.4" fill="none" stroke="#000" stroke-width="2.0"/>
<path d="M1754.5 1911 L1749.5 1922.8" fill="none" stroke="#000" stroke-width="2.0"/>
<path d="M1806.4 1795.6 L1824.8 1785.6 L1858.3 1804" fill="none" stroke="#000" stroke-width="2.0"/>
<path d="M1816.4 1775.5 L1878.4 1804" fill="none" stroke="#000" stroke-width="2.0"/>
<path d="M1846.6 1842.4 L1856.6 1827.4" fill="none" stroke="#000" stroke-width="2.0"/>
<path d="M1846.6 1842.4 L1858.3 1849.1 L1908.5 1827.4" fill="none" stroke="#000" stroke-width="2.0"/>
<path d="M1761.2 1897.7 L1905.1 1827.4" fill="none" stroke="#000" stroke-width="2.0"/>
<path d="M1774.6 1901 L1908.5 1834.1" fill="none" stroke="#000" stroke-width="2.0"/>
<path d="M1630.7 1931.1 L1635.8 1919.4 L1654.2 1916.1 L1670.9 1924.4 L1670.9 1931.1" fill="none" stroke="#000" stroke-width="2.0"/>
<path d="M1694.3 1911 L1724.4 1927.8 L1711 1936.1" fill="none" stroke="#000" stroke-width="2.0"/>
</g><g clip-path="url(#c13i)">
<path d="M1397.8 1732.7 C1399.4 1733.6 1403.2 1735.4 1407.3 1738.1 C1411.4 1740.8 1419.2 1745.5 1422.2 1748.9 C1425.1 1752.3 1424.6 1753.2 1424.9 1758.4 C1425.1 1763.6 1423.7 1776.4 1423.5 1780" fill="none" stroke="#000" stroke-width="3.0"/>
<path d="M1346.5 1765.1 C1354.6 1763.8 1386.4 1758.2 1395.1 1757 C1403.9 1755.9 1399 1756.8 1399.2 1758.4 C1399.4 1760 1398.5 1764.2 1396.5 1766.5 C1394.5 1768.7 1399 1769 1387 1771.9 C1375.1 1774.8 1337.5 1780.8 1324.9 1784.1 C1312.3 1787.3 1313.6 1790.1 1311.4 1791.4" fill="none" stroke="#000" stroke-width="2.0"/>
<path d="M1331.6 1805.7 C1334.5 1804.1 1336.8 1799.8 1349.2 1796.2 C1361.6 1792.6 1394.7 1787.2 1405.9 1784.1 C1417.2 1780.9 1414.2 1780.2 1416.8 1777.3 C1419.3 1774.4 1420.7 1770.1 1421.4 1766.5 C1422 1762.9 1422 1758.5 1420.8 1755.7 C1419.6 1752.9 1425.5 1749.3 1414.1 1749.7 C1402.6 1750.2 1363.8 1756 1351.9 1758.4 C1340 1760.7 1344 1762.9 1342.4 1763.8" fill="none" stroke="#000" stroke-width="2.0"/>
<path d="M1464.1 1685.4 L1499.2 1742.2 L1458.6 1780" fill="none" stroke="#000" stroke-width="2.0"/>
<path d="M1489.7 1740.8 L1461.4 1771.9" fill="none" stroke="#000" stroke-width="2.0"/>
<path d="M1423.5 1781.4 L1465.4 1786.8 L1487 1800.3" fill="none" stroke="#000" stroke-width="2.0"/>
<ellipse cx="1453.2" cy="1730" rx="13.5" ry="21.1" transform="rotate(25 1453.2 1730)" fill="none" stroke="#000" stroke-width="3.0"/>
<path d="M1447.8 1746.2 C1448.5 1743.3 1449.2 1733.6 1451.9 1728.6 C1454.6 1723.7 1462 1718.5 1464.1 1716.5" fill="none" stroke="#000" stroke-width="3.0"/>
<path d="M1376.2 1807 L1377.6 1798.9 L1385.7 1794.9" fill="none" stroke="#000" stroke-width="2.0"/>
<path d="M1393.8 1797.6 L1422.2 1782.7" fill="none" stroke="#000" stroke-width="2.0"/>
<path d="M1411.4 1798.9 C1412.3 1797.8 1413.6 1793.7 1416.8 1792.2 C1419.9 1790.6 1426 1789 1430.3 1789.5 C1434.5 1789.9 1440 1792.4 1442.4 1794.9 C1444.9 1797.3 1444.7 1802.7 1445.1 1804.3" fill="none" stroke="#000" stroke-width="2.0"/>
<path d="M1320.8 1838.1 L1412.7 1798.9" fill="none" stroke="#000" stroke-width="2.0"/>
<path d="M1412.7 1798.9 C1414.3 1798.6 1418.3 1796.8 1422.2 1796.8 C1426 1796.8 1431.6 1797.4 1435.7 1798.9 C1439.7 1800.4 1444.2 1803.2 1446.5 1805.7 C1448.7 1808.2 1448.7 1812.4 1449.2 1813.8" fill="none" stroke="#000" stroke-width="2.0"/>
<path d="M1320.8 1838.1 L1338.4 1847.6 L1443.8 1807" fill="none" stroke="#000" stroke-width="2.0"/>
<path d="M1338.4 1847.6 L1335.7 1874.6" fill="none" stroke="#000" stroke-width="2.0"/>
<path d="M1300.5 1846.2 L1335.7 1866.5" fill="none" stroke="#000" stroke-width="2.0"/>
<path d="M1297.8 1850.3 L1333 1870.5" fill="none" stroke="#000" stroke-width="2.0"/>
<path d="M1353.2 1866.5 C1353.7 1865.1 1353.9 1860.6 1355.9 1858.4 C1358 1856.1 1363.8 1853.9 1365.4 1853" fill="none" stroke="#000" stroke-width="2.0"/>
<path d="M1365.4 1853 L1454.6 1813.8" fill="none" stroke="#000" stroke-width="2.0"/>
<path d="M1454.6 1813.8 C1455.9 1814 1460 1814 1462.7 1815.1 C1465.4 1816.3 1468.8 1814.2 1470.8 1820.5 C1472.8 1826.8 1474.2 1847.6 1474.9 1853" fill="none" stroke="#000" stroke-width="2.0"/>
<path d="M1353.2 1866.5 C1353.7 1868.1 1354.4 1873.9 1355.9 1875.9 C1357.5 1878 1361.6 1878.2 1362.7 1878.6" fill="none" stroke="#000" stroke-width="2.0"/>
<path d="M1362.7 1878.6 L1364.1 1869.2 L1368.1 1866.5" fill="none" stroke="#000" stroke-width="2.0"/>
<path d="M1368.1 1866.5 C1369.9 1867.6 1375.8 1872 1378.9 1873.2 C1382.1 1874.5 1385.7 1873.9 1387 1874.1" fill="none" stroke="#000" stroke-width="2.0"/>
<path d="M1387 1874.1 L1473.5 1827.3" fill="none" stroke="#000" stroke-width="2.0"/>
<path d="M1335.7 1881.4 L1346.5 1880 L1372.2 1896.2" fill="none" stroke="#000" stroke-width="2.0"/>
<path d="M1372.2 1896.2 C1373.3 1897.6 1376.4 1902.4 1378.9 1904.3 C1381.4 1906.3 1384.8 1907.5 1387 1907.8 C1389.3 1908.2 1391.5 1906.7 1392.4 1906.5" fill="none" stroke="#000" stroke-width="2.0"/>
<path d="M1392.4 1906.5 L1430.3 1884.1 L1481.6 1901.6" fill="none" stroke="#000" stroke-width="2.0"/>
<path d="M1346.5 1880 L1260 1924.6" fill="none" stroke="#000" stroke-width="2.0"/>
<path d="M1369.5 1893.5 L1265.4 1950.3" fill="none" stroke="#000" stroke-width="2.0"/>
<path d="M1368.1 1897.6 L1303.2 1936.8 L1354.6 1970.5" fill="none" stroke="#000" stroke-width="2.0"/>
<path d="M1465.4 1812.4 L1523.5 1780" fill="none" stroke="#000" stroke-width="2.0"/>
<path d="M1476.2 1844.9 L1508.6 1825.9" fill="none" stroke="#000" stroke-width="2.0"/>
<path d="M1449.2 1869.2 L1473.5 1858.4" fill="none" stroke="#000" stroke-width="2.0"/>
<path d="M1449.2 1869.2 L1487 1884.1 L1515.4 1823.2 L1523.5 1816.5 L1545.1 1827.3" fill="none" stroke="#000" stroke-width="2.0"/>
<path d="M1433 1878.6 L1481.6 1898.9 L1461.4 1947.6" fill="none" stroke="#000" stroke-width="2.0"/>
<path d="M1435.7 1882.7 L1478.9 1902.2" fill="none" stroke="#000" stroke-width="2.0"/>
<path d="M1530.3 1780 L1550.5 1792.2" fill="none" stroke="#000" stroke-width="2.0"/>
<path d="M1534.3 1797.6 L1542.4 1793.5 L1554.6 1800.3 L1553.2 1808.4 L1547.8 1807" fill="none" stroke="#000" stroke-width="3.0"/>
<path d="M1537 1795.7 L1549.7 1803 L1549.2 1809.2" fill="none" stroke="#000" stroke-width="2.0"/>
<path d="M1539.7 1794.1 L1552.4 1801.6" fill="none" stroke="#000" stroke-width="2.0"/>
<path d="M1562.7 1801.6 L1550.5 1792.2 L1588.4 1728.6 L1612.7 1713.8" fill="none" stroke="#000" stroke-width="2.0"/>
<path d="M1570.8 1801.6 L1603.2 1736.8 L1634.3 1723.2" fill="none" stroke="#000" stroke-width="2.0"/>
<path d="M1557.3 1690.8 L1611.4 1712.4" fill="none" stroke="#000" stroke-width="2.0"/>
<path d="M1562.7 1688.1 L1614.1 1709.7" fill="none" stroke="#000" stroke-width="2.0"/>
<path d="M1493.8 1680 L1580.3 1728.6" fill="none" stroke="#000" stroke-width="2.0"/>
<path d="M1623.5 1704.3 L1680 1725.9" fill="none" stroke="#000" stroke-width="2.0"/>
<path d="M1607.3 1743.5 L1634.3 1727.3 L1680 1748.9" fill="none" stroke="#000" stroke-width="2.0"/>
<path d="M1607.3 1743.5 L1673.5 1773.2" fill="none" stroke="#000" stroke-width="2.0"/>
<path d="M1624.9 1759.7 L1637 1750.3 L1680 1771.9" fill="none" stroke="#000" stroke-width="2.0"/>
<path d="M1597.8 1805.7 L1630.3 1759.7 L1665.4 1778.6 L1634.3 1827.3Z" fill="none" stroke="#000" stroke-width="3.0"/>
<ellipse cx="1670.3" cy="1755.7" rx="5.4" ry="3.5" transform="rotate(0 1670.3 1755.7)" fill="none" stroke="#000" stroke-width="2.0"/>
<path d="M1570.8 1803 L1643.8 1842.2" fill="none" stroke="#000" stroke-width="2.0"/>
<path d="M1546.5 1815.1 L1635.7 1863.8" fill="none" stroke="#000" stroke-width="2.0"/>
<path d="M1634.3 1855.7 L1641.1 1848.9 L1662.7 1859.7 L1654.6 1866.5" fill="none" stroke="#000" stroke-width="3.0"/>
<path d="M1637 1853 L1658.6 1863.8" fill="none" stroke="#000" stroke-width="2.0"/>
<path d="M1639.2 1850.8 L1660.8 1861.6" fill="none" stroke="#000" stroke-width="2.0"/>
<path d="M1546.5 1830 L1519.5 1896.2 L1565.4 1915.1" fill="none" stroke="#000" stroke-width="2.0"/>
<path d="M1550.5 1836.8 L1627.6 1880" fill="none" stroke="#000" stroke-width="2.0"/>
<path d="M1545.1 1827.3 L1546.5 1830" fill="none" stroke="#000" stroke-width="2.0"/>
<ellipse cx="1574.9" cy="1881.4" rx="15.4" ry="8.9" transform="rotate(0 1574.9 1881.4)" fill="none" stroke="#000" stroke-width="2.0"/>
<ellipse cx="1269.5" cy="1889.5" rx="15.7" ry="9.5" transform="rotate(0 1269.5 1889.5)" fill="none" stroke="#000" stroke-width="2.0"/>
<ellipse cx="1401.9" cy="1928.6" rx="18.4" ry="11.4" transform="rotate(0 1401.9 1928.6)" fill="none" stroke="#000" stroke-width="2.0"/>
<path d="M1500.5 1936.8 L1511.4 1909.7 L1549.2 1927.3" fill="none" stroke="#000" stroke-width="2.0"/>
<path d="M1515.4 1915.1 L1505.9 1936.8" fill="none" stroke="#000" stroke-width="2.0"/>
<path d="M1680 1853 L1538.4 1932.7" fill="none" stroke="#000" stroke-width="2.0"/>
<path d="M1680 1869.2 L1565.4 1934.1" fill="none" stroke="#000" stroke-width="2.0"/>
<path d="M1651.9 1884.1 L1680 1898.9" fill="none" stroke="#000" stroke-width="2.0"/>
<path d="M1630.3 1930 L1634.3 1919.2 L1655.9 1915.1 L1670.8 1923.2 L1670.8 1930" fill="none" stroke="#000" stroke-width="2.0"/>
<path d="M1260 1930 C1262.7 1931.6 1271.7 1935.6 1276.2 1939.5 C1280.7 1943.3 1284.8 1948.5 1287 1953 C1289.3 1957.5 1289.5 1962 1289.7 1966.5 C1290 1971 1288.6 1977.7 1288.4 1980" fill="none" stroke="#000" stroke-width="2.0"/>
<path d="M1260 1934.1 C1262.3 1935.6 1269.7 1939.9 1273.5 1943.5 C1277.3 1947.1 1280.9 1951.4 1283 1955.7 C1285 1960 1285.2 1965.1 1285.7 1969.2 C1286.1 1973.2 1285.7 1978.2 1285.7 1980" fill="none" stroke="#000" stroke-width="2.0"/>
<path d="M1292.4 1962.4 L1293.8 1980" fill="none" stroke="#000" stroke-width="2.0"/>
<path d="M1314.1 1980 L1503.2 1939.5 L1680 1932.7" fill="none" stroke="#000" stroke-width="2.0"/>
<path d="M1333 1980 L1511.4 1936.8 L1680 1930" fill="none" stroke="#000" stroke-width="2.0"/>
</g>
<clipPath id="c13b"><rect x="960" y="1800" width="302" height="260"/></clipPath><g clip-path="url(#c13b)">
<path d="M1060.3 1941.3 L1340 1800" fill="none" stroke="#000" stroke-width="2.0"/>
<path d="M1034.6 1939.9 L1093.3 1972.4 L1101.8 1969.9 L1134.8 1971.2 L1194.7 1939.4" fill="none" stroke="#000" stroke-width="2.0"/>
<path d="M1194.7 1939.4 C1198.4 1938 1209 1932.9 1216.8 1930.8 C1224.5 1928.8 1233.1 1927 1241.2 1927.2 C1249.4 1927.4 1258.7 1929.6 1265.7 1932 C1272.6 1934.5 1278.5 1938.2 1282.8 1941.8 C1287.1 1945.5 1290.3 1950 1291.3 1954.1 C1292.4 1958.1 1289.3 1964.2 1288.9 1966.3" fill="none" stroke="#000" stroke-width="2.0"/>
<path d="M1288.9 1966.3 L1263.2 1993.2" fill="none" stroke="#000" stroke-width="2.0"/>
<path d="M1050.5 1988.3 L1061.5 1995.6 L1100.6 1974.8 L1134.8 1976.1 L1196 1943.1" fill="none" stroke="#000" stroke-width="2.0"/>
<path d="M1196 1943.1 C1199.4 1941.5 1209.2 1936.1 1216.8 1934 C1224.3 1931.9 1233.3 1930.2 1241.2 1930.3 C1249.2 1930.5 1257.9 1932.7 1264.4 1935 C1271 1937.3 1276.5 1940.9 1280.3 1944.3 C1284.2 1947.7 1286.9 1951.6 1287.7 1955.3 C1288.5 1958.9 1285.6 1964.4 1285.2 1966.3" fill="none" stroke="#000" stroke-width="2.0"/>
<path d="M1034.6 1940.6 L1034.6 1964.3 L1071.3 1985.8" fill="none" stroke="#000" stroke-width="2.0"/>
<path d="M1030.9 1998.1 L1048 1989.5 L1050.5 1988.3" fill="none" stroke="#000" stroke-width="2.0"/>
<path d="M1120.2 1951.6 L1127.5 1939.4 L1147.1 1935.7 L1161.7 1943.1 L1156.8 1956.5 L1134.8 1958.9Z" fill="none" stroke="#000" stroke-width="3.0"/>
<path d="M1120.2 1951.6 L1121.4 1956.5 L1134.8 1963.8 L1155.6 1960.2 L1156.8 1956.5" fill="none" stroke="#000" stroke-width="2.0"/>
<path d="M1103.1 1968.7 C1103.7 1966.7 1105.7 1960.2 1106.7 1956.5 C1107.7 1952.8 1106.7 1950.4 1109.2 1946.7 C1111.6 1943.1 1116.5 1937.3 1121.4 1934.5 C1126.3 1931.6 1132.8 1930.6 1138.5 1929.6 C1144.2 1928.6 1152.8 1928.6 1155.6 1928.4" fill="none" stroke="#000" stroke-width="2.0"/>
<path d="M1155.6 1928.4 L1191.1 1907.1 L1229 1928.4" fill="none" stroke="#000" stroke-width="2.0"/>
<path d="M1197.2 1901.5 L1238.8 1924.7" fill="none" stroke="#000" stroke-width="2.0"/>
<path d="M1087.2 1968.7 L1106.7 1956.5" fill="none" stroke="#000" stroke-width="2.0"/>
<ellipse cx="1196" cy="1928.9" rx="9" ry="5.9" transform="rotate(0 1196 1928.9)" fill="none" stroke="#000" stroke-width="2.0"/>
<path d="M1150.7 1987.1 C1157.7 1982.8 1181.3 1967.1 1192.3 1961.4 C1203.3 1955.7 1208.6 1954.7 1216.8 1952.8 C1224.9 1951 1233.9 1950.2 1241.2 1950.4 C1248.5 1950.6 1254.3 1951.4 1260.8 1954.1 C1267.3 1956.7 1277.1 1964.2 1280.3 1966.3" fill="none" stroke="#000" stroke-width="2.0"/>
<ellipse cx="1255.1" cy="1960.2" rx="9" ry="5.9" transform="rotate(0 1255.1 1960.2)" fill="none" stroke="#000" stroke-width="2.0"/>
<path d="M1103.1 1974.8 L1118.9 1985.8" fill="none" stroke="#000" stroke-width="2.0"/>
<path d="M1134.8 1976.1 L1150.7 1987.1" fill="none" stroke="#000" stroke-width="2.0"/>
<path d="M1288.9 1850.9 L1219.2 1889.3 L1275.4 1921" fill="none" stroke="#000" stroke-width="2.0"/>
<ellipse cx="1268.1" cy="1890" rx="16.6" ry="9.8" transform="rotate(0 1268.1 1890)" fill="none" stroke="#000" stroke-width="2.0"/>
<path d="M1263.2 1928.4 L1340 1883.1" fill="none" stroke="#000" stroke-width="2.0"/>
</g>
<path d="M1380 2814.6 C1364.1 2812.4 1318.3 2806.4 1284.3 2801.6 C1250.4 2796.9 1212.3 2791.5 1176.2 2786.2 C1140.2 2780.9 1097.4 2774.3 1068.1 2770 C1038.8 2765.7 1015 2763 1000.5 2760.5 C986.1 2758.1 986.4 2757.4 981.6 2755.1 C976.9 2752.9 973.7 2749.7 972.2 2747 C970.6 2744.3 971 2741.8 972.2 2738.9 C973.3 2736 976.4 2732.2 978.9 2729.5 C981.4 2726.8 985.7 2723.8 987 2722.7" fill="none" stroke="#000" stroke-width="3.9"/>
<path d="M987 2722.7 L987 2711.9 L1000.5 2695.7 L1008.6 2690.3 L1016.8 2668.6 L1023.5 2660.5 L1038.4 2652.4 L1047.8 2657.8 L1046.5 2652.4 L1055.9 2636.2" fill="none" stroke="#000" stroke-width="3.9"/>
<path d="M1055.9 2636.2 C1059.3 2633.1 1067.7 2623.8 1076.2 2617.3 C1084.8 2610.8 1102.1 2600.4 1107.3 2597" fill="none" stroke="#000" stroke-width="3.9"/>
<path d="M1107.3 2597 L1111.4 2602.4 L1124.9 2598.4 L1127.6 2594.3 L1137 2586.2 L1172.2 2583.5" fill="none" stroke="#000" stroke-width="3.9"/>
<path d="M981.6 2741.6 C983 2739.6 984.3 2734.9 989.7 2729.5 C995.1 2724.1 1005.5 2715 1014.1 2709.2 C1022.6 2703.3 1032.1 2697.9 1041.1 2694.3 C1050.1 2690.7 1059.1 2688.9 1068.1 2687.6 C1077.1 2686.2 1081.6 2686 1095.1 2686.2 C1108.6 2686.4 1126.7 2687.1 1149.2 2688.9 C1171.7 2690.7 1203.2 2694.1 1230.3 2697 C1257.3 2700 1286.4 2703.8 1311.4 2706.5 C1336.3 2709.2 1368.6 2712.1 1380 2713.2" fill="none" stroke="#000" stroke-width="3.9"/>
<path d="M981.6 2744.3 C982.5 2745.9 983.9 2751.3 987 2753.8 C990.2 2756.3 987 2756.7 1000.5 2759.2 C1014.1 2761.7 1038.8 2764.6 1068.1 2768.6 C1097.4 2772.7 1124.2 2776.5 1176.2 2783.5 C1228.2 2790.5 1346 2806 1380 2810.5" fill="none" stroke="#000" stroke-width="2.0"/>
<path d="M987 2733.5 C991.5 2729 1005 2713.7 1014.1 2706.5 C1023.1 2699.3 1029.8 2694.8 1041.1 2690.3 C1052.3 2685.8 1068.1 2681.7 1081.6 2679.5 C1095.1 2677.2 1097.4 2675.4 1122.2 2676.8 C1146.9 2678.1 1187.3 2683.4 1230.3 2687.6 C1273.2 2691.7 1355 2699.3 1380 2701.6" fill="none" stroke="#000" stroke-width="2.0"/>
<path d="M1008.6 2695.7 C1014.1 2692.7 1028.9 2682.8 1041.1 2678.1 C1053.2 2673.4 1068.1 2669.3 1081.6 2667.3 C1095.1 2665.3 1097.4 2664.6 1122.2 2665.9 C1146.9 2667.3 1187.3 2671.6 1230.3 2675.4 C1273.2 2679.2 1355 2686.4 1380 2688.6" fill="none" stroke="#000" stroke-width="2.0"/>
<path d="M1027.6 2688.9 C1035.2 2684.6 1060 2668.4 1073.5 2663.2 C1087 2658.1 1091.5 2658.3 1108.6 2657.8 C1125.8 2657.4 1131 2657.2 1176.2 2660.5 C1221.4 2663.9 1346 2675.2 1380 2678.1" fill="none" stroke="#000" stroke-width="2.0"/>
<path d="M1087 2638.9 C1087 2636 1088.4 2634.4 1092.4 2630.8 C1096.5 2627.2 1105 2621.1 1111.4 2617.3 C1117.7 2613.5 1125.8 2608.7 1130.3 2607.8 C1134.8 2606.9 1137 2609 1138.4 2611.9 C1139.7 2614.8 1139.7 2620.5 1138.4 2625.4 C1137 2630.4 1137.9 2637.8 1130.3 2641.6 C1122.6 2645.5 1099.6 2648.8 1092.4 2648.4 C1085.2 2647.9 1087 2641.8 1087 2638.9Z" fill="none" stroke="#000" stroke-width="2.0"/>
<path d="M1092.4 2637.6 C1095.1 2634.4 1105.3 2627.9 1111.4 2624.1 C1117.4 2620.2 1125.3 2615.7 1128.9 2614.6 C1132.5 2613.5 1132.3 2615.5 1133 2617.3 C1133.6 2619.1 1134.1 2622 1133 2625.4 C1131.8 2628.8 1132.5 2634.6 1126.2 2637.6 C1119.9 2640.5 1100.8 2643 1095.1 2643 C1089.5 2643 1089.7 2640.7 1092.4 2637.6Z" fill="none" stroke="#000" stroke-width="3.9"/>
<path d="M1143.8 2614.6 C1145.6 2609.4 1142 2607.6 1151.9 2605.1 C1161.8 2602.7 1193.1 2600 1203.2 2599.7 C1213.4 2599.5 1211.1 2601.3 1212.7 2603.8 C1214.3 2606.3 1214.7 2608.3 1212.7 2614.6 C1210.7 2620.9 1203.9 2636 1200.5 2641.6 C1197.2 2647.3 1201 2648.2 1192.4 2648.4 C1183.9 2648.6 1157.7 2645 1149.2 2643 C1140.6 2640.9 1142 2640.9 1141.1 2636.2 C1140.2 2631.5 1142 2619.8 1143.8 2614.6Z" fill="none" stroke="#000" stroke-width="2.0"/>
<path d="M1150.5 2617.3 C1151.9 2613.5 1147.6 2612.6 1155.9 2610.5 C1164.3 2608.5 1192 2605.4 1200.5 2605.1 C1209.1 2604.9 1206.2 2607.2 1207.3 2609.2 C1208.4 2611.2 1209.1 2612.1 1207.3 2617.3 C1205.5 2622.5 1199.4 2636 1196.5 2640.3 C1193.6 2644.5 1196.9 2643.2 1189.7 2643 C1182.5 2642.7 1160.2 2640.5 1153.2 2638.9 C1146.3 2637.3 1148.3 2637.1 1147.8 2633.5 C1147.4 2629.9 1149.2 2621.1 1150.5 2617.3Z" fill="none" stroke="#000" stroke-width="3.9"/>
<path d="M1214.1 2620 C1216.5 2614.1 1221.7 2609.2 1224.9 2606.5 C1228 2603.8 1224.9 2604 1233 2603.8 C1241.1 2603.6 1265.4 2604 1273.5 2605.1 C1281.6 2606.3 1280.3 2607.6 1281.6 2610.5 C1283 2613.5 1283.9 2616.2 1281.6 2622.7 C1279.4 2629.2 1272.2 2644.5 1268.1 2649.7 C1264.1 2654.9 1265.9 2654 1257.3 2653.8 C1248.7 2653.6 1224.6 2650.4 1216.8 2648.4 C1208.9 2646.4 1210.5 2646.4 1210 2641.6 C1209.5 2636.9 1211.6 2625.9 1214.1 2620Z" fill="none" stroke="#000" stroke-width="2.0"/>
<path d="M1220.8 2624.1 C1222.6 2619.8 1224 2615.7 1226.2 2613.2 C1228.5 2610.8 1226.9 2609.6 1234.3 2609.2 C1241.8 2608.7 1263.8 2609.6 1270.8 2610.5 C1277.8 2611.4 1275.3 2612.3 1276.2 2614.6 C1277.1 2616.8 1278 2618.6 1276.2 2624.1 C1274.4 2629.5 1268.6 2642.7 1265.4 2647 C1262.3 2651.3 1265 2650.2 1257.3 2649.7 C1249.6 2649.3 1226.4 2646.1 1219.5 2644.3 C1212.5 2642.5 1215.2 2642.3 1215.4 2638.9 C1215.6 2635.5 1219 2628.3 1220.8 2624.1Z" fill="none" stroke="#000" stroke-width="3.9"/>
<path d="M1284.3 2626.8 C1286.4 2621.4 1289.7 2617.3 1292.4 2614.6 C1295.1 2611.9 1292 2611 1300.5 2610.5 C1309.1 2610.1 1335.2 2610.8 1343.8 2611.9 C1352.3 2613 1350.5 2614.6 1351.9 2617.3 C1353.2 2620 1354.4 2621.6 1351.9 2628.1 C1349.4 2634.6 1341.1 2651.1 1337 2656.5 C1333 2661.9 1335.9 2660.8 1327.6 2660.5 C1319.2 2660.3 1294.9 2657.4 1287 2655.1 C1279.1 2652.9 1280.7 2651.8 1280.3 2647 C1279.8 2642.3 1282.3 2632.2 1284.3 2626.8Z" fill="none" stroke="#000" stroke-width="2.0"/>
<path d="M1289.7 2630.8 C1291.5 2626.5 1294.2 2622.5 1296.5 2620 C1298.7 2617.5 1295.8 2616.4 1303.2 2615.9 C1310.7 2615.5 1333.9 2616.4 1341.1 2617.3 C1348.3 2618.2 1345.6 2619.1 1346.5 2621.4 C1347.4 2623.6 1348.5 2625.4 1346.5 2630.8 C1344.5 2636.2 1337.7 2649.5 1334.3 2653.8 C1330.9 2658.1 1333.6 2656.9 1326.2 2656.5 C1318.8 2656 1296.5 2652.9 1289.7 2651.1 C1283 2649.3 1285.7 2649.1 1285.7 2645.7 C1285.7 2642.3 1287.9 2635.1 1289.7 2630.8Z" fill="none" stroke="#000" stroke-width="3.9"/>
<path d="M1348.1 2652.4 C1348.1 2646.6 1353.5 2633.7 1356.2 2628.1 C1358.9 2622.5 1361.6 2620.7 1364.3 2618.6 C1367 2616.6 1363.9 2615.9 1372.4 2615.9 C1381 2615.9 1407.3 2617.3 1415.7 2618.6 C1424 2620 1421.3 2621.6 1422.4 2624.1 C1423.6 2626.5 1424.9 2627 1422.4 2633.5 C1420 2640 1411.6 2657.4 1407.6 2663.2 C1403.5 2669.1 1406.7 2668.6 1398.1 2668.6 C1389.5 2668.6 1364.5 2665.9 1356.2 2663.2 C1347.9 2660.5 1348.1 2658.3 1348.1 2652.4Z" fill="none" stroke="#000" stroke-width="2.0"/>
<path d="M1353.5 2652.4 C1353.7 2647.7 1358 2635.5 1360.3 2630.8 C1362.5 2626.1 1364.5 2625.6 1367 2624.1 C1369.5 2622.5 1367.7 2621.4 1375.1 2621.4 C1382.6 2621.4 1404.6 2622.9 1411.6 2624.1 C1418.6 2625.2 1416.1 2626.1 1417 2628.1 C1417.9 2630.1 1419.1 2630.8 1417 2636.2 C1415 2641.6 1408.2 2655.8 1404.9 2660.5 C1401.5 2665.3 1404.4 2664.8 1396.8 2664.6 C1389.1 2664.4 1366.1 2661.2 1358.9 2659.2 C1351.7 2657.2 1353.3 2657.2 1353.5 2652.4Z" fill="none" stroke="#000" stroke-width="3.9"/>
<path d="M1417 2663.2 C1417.5 2658.1 1423.8 2644.8 1426.5 2638.9 C1429.2 2633.1 1430.5 2630.4 1433.2 2628.1 C1435.9 2625.9 1435.7 2624.5 1442.7 2625.4 C1449.7 2626.3 1467.9 2630.8 1475.1 2633.5 C1482.3 2636.2 1484.1 2638.9 1485.9 2641.6 C1487.7 2644.3 1487.7 2644.8 1485.9 2649.7 C1484.1 2654.7 1478.3 2667.1 1475.1 2671.4 C1472 2675.6 1475.6 2675.6 1467 2675.4 C1458.5 2675.2 1432.1 2672 1423.8 2670 C1415.5 2668 1416.6 2668.4 1417 2663.2Z" fill="none" stroke="#000" stroke-width="2.0"/>
<path d="M1425.1 2660.5 C1425.6 2656.5 1429.6 2646.4 1431.9 2641.6 C1434.1 2636.9 1436.4 2634.1 1438.6 2632.2 C1440.9 2630.3 1439.8 2629.4 1445.4 2630.3 C1451 2631.2 1466.6 2635.2 1472.4 2637.6 C1478.3 2639.9 1479.3 2642.1 1480.5 2644.3 C1481.8 2646.6 1481.4 2647.3 1480 2651.1 C1478.6 2654.9 1474.8 2664.1 1472.4 2667.3 C1470 2670.5 1472.9 2670.2 1465.7 2670 C1458.5 2669.8 1435.9 2667.5 1429.2 2665.9 C1422.4 2664.4 1424.7 2664.6 1425.1 2660.5Z" fill="none" stroke="#000" stroke-width="3.9"/>
<path d="M1485.9 2671.4 C1485.7 2666.8 1490.5 2656.9 1492.7 2652.4 C1495 2647.9 1497 2645.9 1499.5 2644.3 C1501.9 2642.7 1502.6 2642.1 1507.6 2643 C1512.5 2643.9 1524 2647.3 1529.2 2649.7 C1534.4 2652.2 1536.6 2654.9 1538.6 2657.8 C1540.7 2660.8 1541.8 2663.9 1541.4 2667.3 C1540.9 2670.7 1538.4 2675.6 1535.9 2678.1 C1533.5 2680.6 1533.5 2681.9 1526.5 2682.2 C1519.5 2682.4 1500.8 2681.3 1494.1 2679.5 C1487.3 2677.7 1486.2 2675.9 1485.9 2671.4Z" fill="none" stroke="#000" stroke-width="2.0"/>
<path d="M1492.7 2670 C1492.9 2666.4 1496.3 2657.4 1498.1 2653.8 C1499.9 2650.2 1501.7 2649.4 1503.5 2648.4 C1505.3 2647.3 1504.9 2646.7 1508.9 2647.6 C1513 2648.5 1523.3 2651.4 1527.8 2653.8 C1532.3 2656.2 1534.5 2659.4 1535.9 2661.9 C1537.4 2664.4 1537.4 2666.4 1536.8 2668.6 C1536.1 2670.9 1533.8 2673.8 1531.9 2675.4 C1530 2677 1531 2678.1 1525.1 2678.1 C1519.3 2678.1 1502.2 2676.8 1496.8 2675.4 C1491.4 2674.1 1492.5 2673.6 1492.7 2670Z" fill="none" stroke="#000" stroke-width="3.9"/>
<path d="M1172.2 2583.5 L1173.5 2598.4" fill="none" stroke="#000" stroke-width="3.9"/>
<path d="M1135.7 2594.3 L1135.7 2602.4" fill="none" stroke="#000" stroke-width="2.0"/>
<path d="M1166.8 2591.6 L1168.1 2599.7" fill="none" stroke="#000" stroke-width="2.0"/>
<path d="M1137 2588.9 L1170.8 2586.2" fill="none" stroke="#000" stroke-width="2.0"/>
<path d="M1199.2 2586.2 L1319.5 2597" fill="none" stroke="#000" stroke-width="2.0"/>
<path d="M1314.1 2599.7 L1380 2606.5" fill="none" stroke="#000" stroke-width="2.0"/>
<path d="M1149.2 2651.1 L1157.3 2649.7 L1158.6 2655.1 L1150.5 2656.5" fill="none" stroke="#000" stroke-width="2.0"/>
<path d="M1108.6 2655.1 L1133 2653.8" fill="none" stroke="#000" stroke-width="2.0"/>
<path d="M1107.3 2659.2 L1127.6 2658.4" fill="none" stroke="#000" stroke-width="2.0"/>
<path d="M1015.4 2671.4 L1022.2 2661.9 L1038.4 2649.7 L1047.8 2659.2 L1043.8 2665.9 L1019.5 2694.3 L1012.7 2688.9Z" fill="none" stroke="#000" stroke-width="3.9"/>
<path d="M1018.1 2675.4 L1037 2665.9 L1024.9 2682.2 L1018.1 2682.2Z" fill="none" stroke="#000" stroke-width="3.0"/>
<path d="M1004.6 2695.7 L1008.6 2699.7 L1014.1 2695.7" fill="none" stroke="#000" stroke-width="2.0"/>
<path d="M1054.6 2637.6 L1078.9 2618.6 L1085.7 2615.9 L1085.7 2625.4 L1058.6 2645.7" fill="none" stroke="#000" stroke-width="2.0"/>
<path d="M1172.5 2584.3 L1254.5 2540.8" fill="none" stroke="#000" stroke-width="3.9"/>
<path d="M1254.5 2540.8 C1255.9 2534.1 1260.6 2509 1262.8 2500.6 C1265.1 2492.3 1265.1 2493 1267.9 2490.6 C1270.6 2488.2 1276.5 2486.5 1279.6 2486.2 C1282.6 2486 1285.1 2488.5 1286.3 2488.9" fill="none" stroke="#000" stroke-width="3.9"/>
<path d="M1286.3 2488.9 L1336.4 2517.3" fill="none" stroke="#000" stroke-width="3.9"/>
<path d="M1336.4 2517.3 C1336.7 2518.7 1339.2 2517.3 1338.1 2525.7 C1337 2534.1 1331.1 2560.6 1329.8 2567.5" fill="none" stroke="#000" stroke-width="3.9"/>
<path d="M1199.3 2587.6 L1261.2 2544.1" fill="none" stroke="#000" stroke-width="3.0"/>
<path d="M1261.2 2544.1 C1262.6 2536.9 1266.2 2509.3 1269.5 2500.6 C1272.9 2492 1279.3 2493.6 1281.2 2492.3" fill="none" stroke="#000" stroke-width="3.0"/>
<path d="M1281.2 2492.3 L1331.4 2522.4" fill="none" stroke="#000" stroke-width="3.0"/>
<path d="M1331.4 2522.4 C1329.2 2525.4 1320.8 2533.2 1318 2540.8 C1315.3 2548.3 1315.3 2563.1 1314.7 2567.5" fill="none" stroke="#000" stroke-width="3.0"/>
<path d="M1314.7 2567.5 L1291.3 2592.6" fill="none" stroke="#000" stroke-width="3.0"/>
<path d="M1199.3 2587.6 L1319.7 2596" fill="none" stroke="#000" stroke-width="2.0"/>
<path d="M1174.2 2581.6 L1257.8 2538.1" fill="none" stroke="#000" stroke-width="2.0"/>
<path d="M1257.8 2538.1 C1259 2531.7 1262.9 2507.6 1265.2 2499.9 C1267.4 2492.3 1270.2 2493.5 1271.2 2492.3" fill="none" stroke="#000" stroke-width="2.0"/>
<path d="M1334.8 2524 C1332.8 2527.1 1325.6 2534.9 1323.1 2542.4 C1320.6 2550 1320.3 2564.8 1319.7 2569.2" fill="none" stroke="#000" stroke-width="2.0"/>
<path d="M1319.7 2569.2 L1296.3 2593.6" fill="none" stroke="#000" stroke-width="2.0"/>
<ellipse cx="1306.3" cy="2522.4" rx="5.4" ry="10" transform="rotate(-30 1306.3 2522.4)" fill="none" stroke="#000" stroke-width="3.9"/>
<path d="M1323.8 2553.8 C1326.5 2554.9 1334.6 2558.5 1340 2560.5 C1345.4 2562.6 1350.4 2562.6 1356.2 2565.9 C1362.1 2569.3 1366.6 2577 1375.1 2580.8 C1383.7 2584.6 1395.4 2587.1 1407.6 2588.9 C1419.7 2590.7 1434.6 2591.6 1448.1 2591.6 C1461.6 2591.6 1475.1 2589.8 1488.6 2588.9 C1502.2 2588 1517 2586.7 1529.2 2586.2 C1541.4 2585.8 1556.2 2586.2 1561.6 2586.2" fill="none" stroke="#000" stroke-width="3.9"/>
<path d="M1561.6 2586.2 C1563 2585.8 1566.1 2583.3 1569.7 2583.5 C1573.3 2583.7 1578.3 2585.1 1583.2 2587.6 C1588.2 2590 1594.5 2593.4 1599.5 2598.4 C1604.4 2603.3 1609.4 2610.1 1613 2617.3 C1616.6 2624.5 1618.2 2632.6 1621.1 2641.6 C1624 2650.6 1628.5 2664.6 1630.5 2671.4 C1632.6 2678.1 1632.8 2680.4 1633.2 2682.2" fill="none" stroke="#000" stroke-width="3.9"/>
<path d="M1348.1 2564.6 L1364.3 2568.6 L1373.8 2580 L1356.2 2567.3 Z" fill="#000" stroke="#000" stroke-width="1.5"/>
<path d="M1594.1 2591.6 C1595 2591.4 1595.9 2586.9 1599.5 2590.3 C1603.1 2593.6 1611.8 2603.3 1615.7 2611.9 C1619.5 2620.5 1621.3 2636.7 1622.4 2641.6" fill="none" stroke="#000" stroke-width="3.9"/>
<path d="M1596.8 2593.5 C1599.5 2596.8 1609 2605.7 1613 2613.2 C1616.9 2620.8 1619.3 2634.6 1620.5 2638.9" fill="none" stroke="#000" stroke-width="3.9"/>
<path d="M1627.8 2661.9 C1629 2660.8 1631.7 2656.5 1634.6 2655.1 C1637.5 2653.8 1641.8 2653.1 1645.4 2653.8 C1649 2654.5 1654.4 2658.3 1656.2 2659.2" fill="none" stroke="#000" stroke-width="3.9"/>
<path d="M1656.2 2659.2 L1672.4 2668.6" fill="none" stroke="#000" stroke-width="3.9"/>
<path d="M1672.4 2668.6 C1674.7 2670.9 1683.5 2677.7 1685.9 2682.2 C1688.4 2686.7 1685.9 2691.6 1687.3 2695.7 C1688.6 2699.7 1692.9 2703.6 1694.1 2706.5 C1695.2 2709.4 1694.1 2712.1 1694.1 2713.2" fill="none" stroke="#000" stroke-width="3.9"/>
<path d="M1694.1 2713.2 L1658.9 2733.5 L1634.6 2749.7 L1602.2 2764.6" fill="none" stroke="#000" stroke-width="3.9"/>
<path d="M1633.2 2682.2 L1594.1 2703.8" fill="none" stroke="#000" stroke-width="2.0"/>
<path d="M1595.4 2713.2 L1635.9 2697" fill="none" stroke="#000" stroke-width="2.0"/>
<path d="M1635.9 2697 C1638 2696.8 1645.6 2694.1 1648.1 2695.7 C1650.6 2697.3 1650.4 2702.9 1650.8 2706.5 C1651.3 2710.1 1649.5 2713.7 1650.8 2717.3 C1652.2 2720.9 1657.3 2725.4 1658.9 2728.1 C1660.5 2730.8 1660 2732.6 1660.3 2733.5" fill="none" stroke="#000" stroke-width="2.0"/>
<path d="M1635.9 2697 C1636.2 2701.8 1637.5 2716.6 1637.3 2725.4 C1637.1 2734.2 1635 2745.7 1634.6 2749.7" fill="none" stroke="#000" stroke-width="2.0"/>
<path d="M1654.9 2718.6 L1672.4 2710.5" fill="none" stroke="#000" stroke-width="2.0"/>
<path d="M1649.5 2726.8 L1658.9 2729.5" fill="none" stroke="#000" stroke-width="3.9"/>
<path d="M1380 2713.2 C1386.8 2713.9 1405.2 2715.9 1421.1 2717.3 C1436.9 2718.6 1461.6 2720 1475.1 2721.4 C1488.6 2722.7 1495.4 2723.4 1502.2 2725.4 C1508.9 2727.4 1511.6 2729.9 1515.7 2733.5 C1519.7 2737.1 1524.2 2742.1 1526.5 2747 C1528.7 2752 1529.2 2756.9 1529.2 2763.2 C1529.2 2769.5 1528.3 2778.1 1526.5 2784.9 C1524.7 2791.6 1520.6 2798.6 1518.4 2803.8 C1516.1 2809 1513.9 2813.9 1513 2815.9" fill="none" stroke="#000" stroke-width="3.9"/>
<path d="M1380 2814.6 C1394 2815.1 1441.9 2817.6 1464.1 2817.8 C1486.2 2818.1 1504.8 2816.5 1513 2816.2" fill="none" stroke="#000" stroke-width="3.9"/>
<path d="M1513 2815.9 C1516.6 2815.9 1527.4 2816.8 1534.6 2815.9 C1541.8 2815 1549.5 2813.5 1556.2 2810.5 C1563 2807.6 1569.7 2802.7 1575.1 2798.4 C1580.5 2794.1 1585 2789.8 1588.6 2784.9 C1592.3 2779.9 1594.7 2773.6 1596.8 2768.6 C1598.8 2763.7 1600 2759.9 1600.8 2755.1 C1601.6 2750.4 1601.5 2742.7 1601.6 2740.3" fill="none" stroke="#000" stroke-width="3.0"/>
<path d="M1601.6 2740.3 L1591.4 2740.3 L1591.4 2728.1 L1595.4 2721.4" fill="none" stroke="#000" stroke-width="3.0"/>
<path d="M1595.4 2721.4 C1595.2 2718.9 1596.1 2711.7 1594.1 2706.5 C1592 2701.3 1587.3 2696.1 1583.2 2690.3 C1579.2 2684.4 1572 2674.5 1569.7 2671.4" fill="none" stroke="#000" stroke-width="3.0"/>
<path d="M1380 2701.6 C1386.8 2702.1 1404.3 2703.1 1421.1 2704.3 C1437.8 2705.6 1465.2 2707.5 1480.5 2709.2 C1495.9 2710.9 1504.4 2711.4 1513 2714.6 C1521.5 2717.7 1526.9 2723.2 1531.9 2728.1 C1536.8 2733.1 1540.2 2738.5 1542.7 2744.3 C1545.2 2750.2 1546.8 2756.5 1546.8 2763.2 C1546.8 2770 1544.7 2778.1 1542.7 2784.9 C1540.7 2791.6 1536.8 2798.8 1534.6 2803.8 C1532.3 2808.7 1530.1 2812.8 1529.2 2814.6" fill="none" stroke="#000" stroke-width="2.0"/>
<path d="M1380 2688.6 C1391.4 2689.8 1427.7 2693.6 1448.1 2695.7 C1468.5 2697.7 1488.6 2698.8 1502.2 2701.1 C1515.7 2703.3 1521.5 2705.1 1529.2 2709.2 C1536.8 2713.2 1543.2 2719.5 1548.1 2725.4 C1553.1 2731.3 1556.7 2738 1558.9 2744.3 C1561.2 2750.6 1562.1 2755.6 1561.6 2763.2 C1561.2 2770.9 1558.9 2782.6 1556.2 2790.3 C1553.5 2797.9 1547.2 2806 1545.4 2809.2" fill="none" stroke="#000" stroke-width="2.0"/>
<path d="M1521.1 2691.6 C1525.1 2692.7 1538.6 2695 1545.4 2698.4 C1552.2 2701.8 1557.6 2706.5 1561.6 2711.9 C1565.7 2717.3 1568.2 2724.5 1569.7 2730.8 C1571.3 2737.1 1570.9 2746.6 1571.1 2749.7" fill="none" stroke="#000" stroke-width="2.0"/>
<path d="M1380 2678.1 C1386.8 2678.8 1400.9 2679.9 1421.1 2682.2 C1441.2 2684.4 1487.5 2690 1500.8 2691.6" fill="none" stroke="#000" stroke-width="2.0"/>
<path d="M1529.2 2730.8 C1531 2733.1 1538 2738.9 1540 2744.3 C1542 2749.7 1542.3 2755.6 1541.4 2763.2 C1540.5 2770.9 1537.5 2782.6 1534.6 2790.3 C1531.7 2797.9 1525.6 2806 1523.8 2809.2" fill="none" stroke="#000" stroke-width="2.0"/>
<path d="M1340 2601.1 L1394.1 2606.5 L1453.5 2614.6 L1454.9 2624.1 L1469.7 2625.4" fill="none" stroke="#000" stroke-width="2.0"/>
<path d="M1453.5 2614.6 L1491.4 2593 L1529.2 2587.6" fill="none" stroke="#000" stroke-width="2.0"/>
<path d="M1487.3 2610.5 L1526.5 2590.3" fill="none" stroke="#000" stroke-width="2.0"/>
<path d="M1469.7 2628.1 L1475.1 2620 L1485.9 2618.6 L1513 2624.1 L1517.8 2628.1 L1517 2638.9 L1510.3 2640.3" fill="none" stroke="#000" stroke-width="2.0"/>
<path d="M1479.2 2624.1 L1485.9 2621.4 L1502.2 2625.4 L1503.5 2634.9 L1495.4 2634.9" fill="none" stroke="#000" stroke-width="2.0"/>
<path d="M1492.7 2625.4 L1494.1 2633.5" fill="none" stroke="#000" stroke-width="2.0"/>
<path d="M1535.9 2641.6 L1540 2637.6 L1553.5 2645.7 L1569.7 2661.9 L1571.1 2671.4 L1561.6 2676.8 L1553.5 2674.1 L1544.1 2665.9" fill="none" stroke="#000" stroke-width="2.0"/>
<path d="M1538.6 2643 L1545.4 2644.3 L1541.4 2652.4" fill="none" stroke="#000" stroke-width="2.0"/>
<path d="M1561.6 2676.8 C1563.9 2679.5 1571.1 2687.6 1575.1 2693 C1579.2 2698.4 1583.2 2703.3 1585.9 2709.2 C1588.6 2715 1590.5 2725 1591.4 2728.1" fill="none" stroke="#000" stroke-width="2.0"/>
<path d="M1569.7 2671.4 L1583.2 2690.3" fill="none" stroke="#000" stroke-width="2.0"/>
<path d="M1564.3 2691.6 L1577.8 2688.9 L1583.2 2693 L1594.1 2711.9 L1595.4 2722.7 L1590 2728.1 L1583.2 2729.5 L1577.8 2714.6 L1569.7 2703.8Z" fill="none" stroke="#000" stroke-width="3.0"/>
<path d="M1572.4 2695.7 L1581.9 2698.4 L1587.3 2709.2 L1581.9 2710.5 L1577.8 2703.8" fill="none" stroke="#000" stroke-width="3.0"/>
<path d="M1548.1 2744.3 L1561.6 2736.2" fill="none" stroke="#000" stroke-width="2.0"/>
<path d="M1558.9 2771.4 L1567 2752.4 L1572.4 2751.1 L1573.8 2757.8 L1565.7 2774.1Z" fill="none" stroke="#000" stroke-width="2.0"/>
<path d="M1572.4 2764.6 L1588.6 2767.3 L1594.1 2755.1" fill="none" stroke="#000" stroke-width="2.0"/>
<path d="M1569.7 2770 L1585.9 2774.1" fill="none" stroke="#000" stroke-width="2.0"/>
<path d="M1502.2 2691.6 L1515.7 2691.6 L1519.7 2682.2" fill="none" stroke="#000" stroke-width="2.0"/>
<path d="M1476.5 2682.2 L1481.9 2682.2" fill="none" stroke="#000" stroke-width="2.0"/>
<path d="M1572.4 2806.5 L1602.2 2864.6 L1637.3 2853.8" fill="none" stroke="#000" stroke-width="3.9"/>
<path d="M1637.3 2853.8 C1636.6 2845.5 1634.4 2818 1633.2 2803.8 C1632.1 2789.6 1632.1 2776.3 1630.5 2768.6 C1629 2761 1624.9 2759.6 1623.8 2757.8" fill="none" stroke="#000" stroke-width="3.9"/>
<path d="M1594.1 2786.2 L1631.9 2852.4" fill="none" stroke="#000" stroke-width="2.0"/>
<path d="M1623.8 2757.8 C1624.5 2763.2 1626 2775.9 1627.8 2790.3 C1629.6 2804.7 1633.5 2835.3 1634.6 2844.3" fill="none" stroke="#000" stroke-width="2.0"/>
<path d="M1575.1 2799.7 L1594.1 2786.2" fill="none" stroke="#000" stroke-width="3.0"/>
<ellipse cx="1598.1" cy="2807.8" rx="3.8" ry="7.3" transform="rotate(-20 1598.1 2807.8)" fill="none" stroke="#000" stroke-width="3.0"/>
<ellipse cx="1608.1" cy="2838.9" rx="7" ry="11.4" transform="rotate(-20 1608.1 2838.9)" fill="none" stroke="#000" stroke-width="3.0"/>
<path d="M1291.1 2593 L1295.1 2587.6 L1316.8 2568.6" fill="none" stroke="#000" stroke-width="3.9"/>
<path d="M1316.8 2568.6 C1317.2 2565 1318.3 2553.3 1319.5 2547 C1320.6 2540.7 1321 2535.1 1323.5 2530.8 C1326 2526.5 1332.5 2522.9 1334.3 2521.4" fill="none" stroke="#000" stroke-width="3.9"/>
<path d="M1296.5 2593 L1322.2 2571.4" fill="none" stroke="#000" stroke-width="3.0"/>
<path d="M1322.2 2571.4 C1322.6 2567.3 1323.7 2553.3 1324.9 2547 C1326 2540.7 1326.9 2537.1 1328.9 2533.5 C1330.9 2529.9 1335.7 2526.8 1337 2525.4" fill="none" stroke="#000" stroke-width="3.0"/>
<path d="M1334.3 2521.4 L1328.9 2567.3" fill="none" stroke="#000" stroke-width="3.0"/>
<path d="M1331.6 2560.5 C1334.1 2560.1 1341.3 2557.2 1346.5 2557.8 C1351.7 2558.5 1357.1 2560.1 1362.7 2564.6 C1368.3 2569.1 1377.1 2581.5 1380 2584.9" fill="none" stroke="#000" stroke-width="3.9"/>
<path d="M1346.5 2558.4 L1362.7 2564.6 L1373.5 2576.8 L1357.3 2567.3 Z" fill="#000" stroke="#000" stroke-width="1.5"/>
<path d="M284.4 2611.7 L288.8 2605.8 L306.6 2604.3 L314 2610.2 L317 2629.4 L314 2635.4 L296.2 2636.8 L287.4 2632.4Z" fill="none" stroke="#000" stroke-width="3.9"/>
<path d="M296.2 2616.1 L314 2611.7" fill="none" stroke="#000" stroke-width="3.0"/>
<path d="M296.2 2616.1 L296.2 2635.4" fill="none" stroke="#000" stroke-width="3.0"/>
<path d="M284.4 2611.7 L296.2 2616.1" fill="none" stroke="#000" stroke-width="3.0"/>
<path d="M318.4 2605.8 C319.4 2605.8 322.9 2603.8 324.4 2605.8 C325.8 2607.7 327.1 2613.7 327.3 2617.6 C327.6 2621.6 327.1 2627.2 325.8 2629.4 C324.6 2631.7 320.9 2630.7 319.9 2630.9" fill="none" stroke="#000" stroke-width="3.9"/>
<path d="M314 2610.2 C314.9 2610.5 318.1 2609.7 319.3 2611.7 C320.6 2613.7 321.6 2618.6 321.4 2622 C321.3 2625.5 318.9 2630.7 318.4 2632.4" fill="none" stroke="#000" stroke-width="3.0"/>
<path d="M327.3 2608.7 C329.3 2608.3 336.7 2605.9 339.2 2606.4 C341.6 2606.9 341.6 2608.8 342.1 2611.7 C342.6 2614.5 342.6 2621 342.1 2623.5 C341.6 2626.1 341.6 2626.3 339.2 2627.1 C336.7 2627.8 329.3 2627.8 327.3 2628" fill="none" stroke="#000" stroke-width="3.9"/>
<path d="M334.1 2607.5 L334.7 2627.4" fill="none" stroke="#000" stroke-width="3.0"/>
<path d="M365.8 2610.2 L367.3 2617" fill="none" stroke="#000" stroke-width="3.9"/>
<path d="M365.8 2610.2 L374.7 2608.7 L376.2 2605.8 L380.6 2604.3 L402.8 2602.8" fill="none" stroke="#000" stroke-width="3.9"/>
<path d="M402.8 2602.8 C403.5 2603.3 406.4 2603.8 407.2 2605.8 C408.1 2607.7 408.3 2612.7 407.8 2614.6 C407.3 2616.6 404.9 2617.1 404.3 2617.6" fill="none" stroke="#000" stroke-width="3.9"/>
<path d="M404.3 2617.6 L382.1 2619.1 L377.6 2617.6 L374.7 2616.1 L367.3 2617" fill="none" stroke="#000" stroke-width="3.9"/>
<path d="M382.1 2604.3 L382.1 2619.1" fill="none" stroke="#000" stroke-width="3.0"/>
<path d="M401.3 2604.3 L402.2 2617.6" fill="none" stroke="#000" stroke-width="3.0"/>
<path d="M386.5 2761.2 L393.9 2731.6 L401.3 2722.7 L426.5 2707.9 L428 2697.5 L435.4 2690.1 L462 2673.8 L466.4 2660.5 L470.9 2657.6 L476.8 2660.5 L494.6 2652.5 L502 2654.6 L524.2 2672.4 L570.1 2644.2 L576 2620.6" fill="none" stroke="#000" stroke-width="3.9"/>
<path d="M576 2620.6 C577.5 2618.8 581.9 2611.9 584.9 2610.2 C587.8 2608.5 591 2608 593.7 2610.2 C596.4 2612.4 599.9 2621.3 601.1 2623.5" fill="none" stroke="#000" stroke-width="3.9"/>
<path d="M601.1 2623.5 L621.9 2611.7" fill="none" stroke="#000" stroke-width="3.9"/>
<path d="M621.9 2611.7 C623.8 2611.2 629.3 2608.2 633.7 2608.7 C638.1 2609.2 643.8 2611.7 648.5 2614.6 C653.2 2617.6 659.1 2622.5 661.8 2626.5 C664.5 2630.4 665 2634.4 664.8 2638.3 C664.5 2642.3 662.3 2646.7 660.3 2650.2 C658.4 2653.6 654.2 2657.6 652.9 2659" fill="none" stroke="#000" stroke-width="3.9"/>
<path d="M652.9 2659 L536 2736 L401.3 2827.8 L325.8 2876.6" fill="none" stroke="#000" stroke-width="3.9"/>
<path d="M325.8 2876.6 C324.6 2876.9 320.4 2878.3 318.4 2878.1 C316.5 2877.8 315 2879.1 314 2875.1 C313 2871.2 312.3 2861.8 312.5 2854.4 C312.8 2847 313.3 2838.1 315.5 2830.7 C317.7 2823.3 321.2 2816.9 325.8 2810 C330.5 2803.1 337.2 2795.2 343.6 2789.3 C350 2783.4 357.2 2779.2 364.3 2774.5 C371.5 2769.8 382.8 2763.4 386.5 2761.2" fill="none" stroke="#000" stroke-width="3.9"/>
<path d="M315.5 2863.3 C316 2860.3 316.2 2851.9 318.4 2845.5 C320.7 2839.1 324.1 2831.7 328.8 2824.8 C333.5 2817.9 339.7 2810.8 346.6 2804.1 C353.5 2797.4 362.4 2790.8 370.2 2784.9 C378.1 2778.9 390 2771.3 393.9 2768.6" fill="none" stroke="#000" stroke-width="2.0"/>
<path d="M393.9 2768.6 L621.9 2614.6" fill="none" stroke="#000" stroke-width="2.0"/>
<path d="M391 2758.2 L613 2626.5" fill="none" stroke="#000" stroke-width="2.0"/>
<path d="M396.9 2744.9 L500.5 2682.7 L524.2 2673.8" fill="none" stroke="#000" stroke-width="3.0"/>
<path d="M393.9 2827.8 C393.7 2823.8 391.5 2811.5 392.4 2804.1 C393.4 2796.7 394.7 2789.8 399.8 2783.4 C405 2777 419.6 2768.6 423.5 2765.6" fill="none" stroke="#000" stroke-width="2.0"/>
<path d="M423.5 2765.6 L621.9 2635.4" fill="none" stroke="#000" stroke-width="2.0"/>
<path d="M621.9 2635.4 C624.3 2636.4 632.2 2638.3 636.7 2641.3 C641.1 2644.2 645.8 2650.2 648.5 2653.1 C651.2 2656.1 652.2 2658.1 652.9 2659" fill="none" stroke="#000" stroke-width="2.0"/>
<path d="M621.9 2614.6 C621.4 2616.6 618.9 2623 618.9 2626.5 C618.9 2629.9 621.4 2633.9 621.9 2635.4" fill="none" stroke="#000" stroke-width="2.0"/>
<path d="M319.9 2860.3 C321.4 2855.9 324.9 2841.6 328.8 2833.7 C332.7 2825.8 341.1 2816.4 343.6 2813" fill="none" stroke="#000" stroke-width="2.0"/>
<path d="M462 2673.8 L459 2687.2 L494.6 2666.4 L502 2654.6" fill="none" stroke="#000" stroke-width="3.0"/>
<path d="M466.4 2660.5 L460.5 2685.7" fill="none" stroke="#000" stroke-width="3.0"/>
<path d="M476.8 2660.5 L473.8 2676.8" fill="none" stroke="#000" stroke-width="3.0"/>
<path d="M479.8 2663.5 L485.7 2662 L485.7 2669.4 L479.8 2670.9Z" fill="none" stroke="#000" stroke-width="3.0"/>
<path d="M502 2665 L497.5 2681.2 L429.4 2703.4" fill="none" stroke="#000" stroke-width="2.0"/>
<path d="M576 2620.6 L573 2641.3" fill="none" stroke="#000" stroke-width="3.0"/>
<path d="M584.9 2610.2 L577.5 2636.8" fill="none" stroke="#000" stroke-width="3.0"/>
<path d="M587.8 2611.7 L595.2 2626.5" fill="none" stroke="#000" stroke-width="3.0"/>
<path d="M580.4 2623.5 L574.5 2644.2" fill="none" stroke="#000" stroke-width="2.0"/>
<ellipse cx="1046.3" cy="2511.3" rx="16.7" ry="17.4" transform="rotate(0 1046.3 2511.3)" fill="none" stroke="#000" stroke-width="3.9"/>
<ellipse cx="1043.7" cy="2510.7" rx="10" ry="12.7" transform="rotate(0 1043.7 2510.7)" fill="none" stroke="#000" stroke-width="3.0"/>
<ellipse cx="1047.7" cy="2511.3" rx="13.4" ry="15.4" transform="rotate(0 1047.7 2511.3)" fill="none" stroke="#000" stroke-width="2.0"/>
<path d="M1028.6 2512.3 L1023.6 2517.3 L1055.4 2550.8 L1063.7 2549.1 L1067.7 2540.8 L1060.4 2530.7" fill="none" stroke="#000" stroke-width="3.9"/>
<path d="M1043.7 2527.4 L1060.4 2530.7" fill="none" stroke="#000" stroke-width="3.0"/>
<path d="M1031.9 2520.7 L1058.7 2544.8" fill="none" stroke="#000" stroke-width="2.0"/>
<ellipse cx="1063.7" cy="2542.4" rx="2.7" ry="4" transform="rotate(0 1063.7 2542.4)" fill="none" stroke="#000" stroke-width="3.0"/>
<path d="M1174.2 2462.1 L1190.9 2450.4 L1194.2 2440.4 L1199.3 2442.1 L1200.9 2453.8 L1211 2473.8 L1209.3 2480.5 L1190.9 2498.9 L1184.2 2497.3Z" fill="none" stroke="#000" stroke-width="3.9"/>
<path d="M1179.2 2463.8 L1190.9 2455.4" fill="none" stroke="#000" stroke-width="2.0"/>
<path d="M1205.9 2467.2 L1205.9 2477.2 L1190.9 2492.3" fill="none" stroke="#000" stroke-width="3.0"/>
<ellipse cx="1190.2" cy="2472.2" rx="2.7" ry="4.7" transform="rotate(20 1190.2 2472.2)" fill="none" stroke="#000" stroke-width="3.0"/>
<path d="M1182.5 2460.5 L1187.5 2457.1 L1189.2 2462.1" fill="none" stroke="#000" stroke-width="3.0"/>
<path d="M1328 2498.2 L1329.3 2494 L1335.4 2488.6 L1345.7 2483.1 L1355 2478.6 L1354.1 2474.1 L1355.4 2469 L1357.6 2464.4 L1364.4 2461.2 L1372.1 2461.2 L1380.5 2463.8 L1386.9 2470.2 L1389.8 2475.7 L1390.7 2480.2 L1390.7 2486.6 L1389.1 2493.7 L1386.2 2497.9 L1380.5 2501.8 L1372.4 2501.8 L1366 2497.9 L1358.6 2502.7 L1347.6 2508.2 L1341.8 2511.7 L1338.3 2511.7 L1332.5 2509.2 L1329.3 2504Z" fill="#000" stroke="#000" stroke-width="0.5"/>
<path d="M1358.9 2470.2 L1361.1 2467 L1366 2465.1 L1368.9 2466.4 L1373.4 2469 L1377.2 2472.2 L1376.9 2474.7 L1379.8 2477.6 L1382.1 2483.4 L1383 2494.4 L1380.5 2496.9 L1378.5 2497.9 L1374.3 2497.9 L1369.8 2495.7 L1374 2491.8 L1376.6 2490.2 L1377.9 2488.6 L1377.9 2483.1 L1375.9 2478.3 L1370.5 2473.1 L1366.3 2473.1 L1361.1 2475.7 L1359.2 2477 L1357.9 2474.4Z" fill="#fff" stroke="none"/>
<path d="M1373.1 2466.4 L1377.6 2467 L1383.3 2473.1 L1385.6 2477 L1386.9 2481.5 L1386.6 2486.6 L1385.9 2490.8 L1385 2490.8 L1384.6 2484.4 L1382.7 2478.3 L1378.8 2473.8 L1374.7 2468.6Z" fill="#fff" stroke="none"/>
<path d="M1357.9 2481.8 L1361.1 2479.2 L1367.6 2475.1 L1369.8 2475.1 L1373.7 2479.2 L1375 2481.5 L1375.9 2485.4 L1375 2488.6 L1373.4 2490.2 L1370.2 2491.8 L1367.9 2494 L1364 2494 L1363.4 2490.5 L1361.8 2486.6Z" fill="#fff" stroke="none"/>
<path d="M1353.1 2484.7 L1355.4 2483.1 L1360.2 2487.9 L1361.8 2491.8 L1361.8 2495.3 L1359.2 2496.9 L1358.9 2493.1 L1357 2489.2Z" fill="#fff" stroke="none"/>
<path d="M1348 2487.3 L1350.5 2486 L1355 2490.5 L1357 2494.4 L1356.6 2498.9 L1354.1 2499.8 L1353.7 2495 L1351.5 2491.2Z" fill="#fff" stroke="none"/>
<path d="M1342.8 2490.5 L1344.4 2488.9 L1346.7 2488.9 L1349.2 2492.4 L1351.8 2496 L1351.8 2501.4 L1349.2 2502.7 L1348.9 2497.9 L1347 2494.4Z" fill="#fff" stroke="none"/>
<path d="M1338 2492.1 L1341.5 2491.8 L1344.4 2495 L1347 2498.2 L1347 2504.7 L1344.1 2506 L1343.8 2500.5 L1342.5 2497.9Z" fill="#fff" stroke="none"/>
<path d="M1331.9 2499.2 L1333.2 2496.9 L1334.8 2496.9 L1338 2500.2 L1339.3 2502.1 L1339.9 2505 L1338.6 2507.6 L1336.7 2506 L1335.1 2506 L1333.2 2502.7Z" fill="#fff" stroke="none"/>
<path d="M1335.1 2494.4 L1340.9 2499.2 L1341.8 2503.4 L1340.9 2503.7 L1339.9 2500.2Z" fill="#fff" stroke="none"/>
<path d="M1432.2 2476.7 L1435 2471.5 L1437 2469.6 L1437.3 2465.1 L1439.2 2460 L1442.4 2457.1 L1448.2 2454.2 L1455.3 2455.1 L1461.8 2458.3 L1469.8 2466.4 L1473 2472.2 L1474.9 2479.3 L1474.9 2490.8 L1470.8 2496.6 L1466.9 2498.9 L1456 2498.9 L1447.6 2497.6 L1444.4 2497.3 L1441.2 2485.1Z" fill="#000" stroke="#000" stroke-width="0.5"/>
<path d="M1438.3 2474.4 L1442.4 2470.9 L1445 2472.2 L1446.3 2474.8 L1438.9 2475.1Z" fill="#fff" stroke="none"/>
<path d="M1445 2469.3 L1449.5 2469 L1453.4 2472.2 L1457.9 2477.3 L1458.9 2480.5 L1458.9 2489.6 L1456.3 2491.2 L1455.6 2483.8 L1452.7 2478 L1448.9 2473.5Z" fill="#fff" stroke="none"/>
<path d="M1440.2 2479.3 L1441.5 2478 L1445.7 2481.8 L1447 2485.1 L1447 2489.9 L1446 2489.9 L1445 2485.7 L1442.4 2482.5Z" fill="#fff" stroke="none"/>
<path d="M1443.1 2476.4 L1445 2477 L1448.9 2481.2 L1449.8 2482.8 L1449.8 2488.9 L1448.9 2488.9 L1447.9 2483.8Z" fill="#fff" stroke="none"/>
<path d="M1452.1 2482.2 L1453.7 2483.8 L1454 2492.8 L1451.5 2494.1 L1449.8 2493.7 L1451.8 2491.5Z" fill="#fff" stroke="none"/>
<path d="M1445 2460.3 L1447.9 2459 L1451.5 2459 L1453.1 2460.6 L1449.8 2461.2 L1448.9 2460.3 L1448.2 2460.9 L1445 2461.1Z" fill="#fff" stroke="none"/>
<path d="M1451.1 2463.2 L1452.7 2462.8 L1454.7 2464.1 L1461.8 2471.5 L1464.3 2477.3 L1465.6 2480.5 L1465.9 2488.9 L1465 2488.9 L1464.3 2483.1 L1463.4 2478 L1460.5 2472.2 L1453.4 2464.8Z" fill="#fff" stroke="none"/>
<path d="M1454 2461.2 L1456 2461.2 L1463.7 2469.3 L1463.4 2470.2 L1455.3 2462.2Z" fill="#fff" stroke="none"/>
<path d="M1467.5 2480.9 L1468.8 2481.2 L1468.8 2490.2 L1466.9 2493.4 L1465 2493.7 L1467.2 2489.9Z" fill="#fff" stroke="none"/>
<circle cx="1429.9" cy="2492" r="14.2" fill="#fff" stroke="#000" stroke-width="3.9"/>
<path d="M1644.2 2543.9 L1647 2538.7 L1649 2536.8 L1649.3 2532.3 L1651.2 2527.2 L1654.4 2524.3 L1660.2 2521.4 L1667.3 2522.3 L1673.8 2525.5 L1681.8 2533.6 L1685 2539.4 L1686.9 2546.5 L1686.9 2558 L1682.8 2563.8 L1678.9 2566.1 L1668 2566.1 L1659.6 2564.8 L1656.4 2564.5 L1653.2 2552.3Z" fill="#000" stroke="#000" stroke-width="0.5"/>
<path d="M1650.3 2541.6 L1654.4 2538.1 L1657 2539.4 L1658.3 2542 L1650.9 2542.3Z" fill="#fff" stroke="none"/>
<path d="M1657 2536.5 L1661.5 2536.2 L1665.4 2539.4 L1669.9 2544.5 L1670.9 2547.7 L1670.9 2556.8 L1668.3 2558.4 L1667.6 2551 L1664.7 2545.2 L1660.9 2540.7Z" fill="#fff" stroke="none"/>
<path d="M1652.2 2546.5 L1653.5 2545.2 L1657.7 2549 L1659 2552.3 L1659 2557.1 L1658 2557.1 L1657 2552.9 L1654.4 2549.7Z" fill="#fff" stroke="none"/>
<path d="M1655.1 2543.6 L1657 2544.2 L1660.9 2548.4 L1661.8 2550 L1661.8 2556.1 L1660.9 2556.1 L1659.9 2551Z" fill="#fff" stroke="none"/>
<path d="M1664.1 2549.4 L1665.7 2551 L1666 2560 L1663.5 2561.3 L1661.8 2560.9 L1663.8 2558.7Z" fill="#fff" stroke="none"/>
<path d="M1657 2527.5 L1659.9 2526.2 L1663.5 2526.2 L1665.1 2527.8 L1661.8 2528.4 L1660.9 2527.5 L1660.2 2528.1 L1657 2528.3Z" fill="#fff" stroke="none"/>
<path d="M1663.1 2530.4 L1664.7 2530 L1666.7 2531.3 L1673.8 2538.7 L1676.3 2544.5 L1677.6 2547.7 L1677.9 2556.1 L1677 2556.1 L1676.3 2550.3 L1675.4 2545.2 L1672.5 2539.4 L1665.4 2532Z" fill="#fff" stroke="none"/>
<path d="M1666 2528.4 L1668 2528.4 L1675.7 2536.5 L1675.4 2537.4 L1667.3 2529.4Z" fill="#fff" stroke="none"/>
<path d="M1679.5 2548.1 L1680.8 2548.4 L1680.8 2557.4 L1678.9 2560.6 L1677 2560.9 L1679.2 2557.1Z" fill="#fff" stroke="none"/>
<circle cx="1641.9" cy="2559.2" r="14.2" fill="#fff" stroke="#000" stroke-width="3.9"/>
<path d="M1498.6 2409.2 C1500.4 2403.3 1503.4 2401.1 1508.1 2398.4 C1512.8 2395.7 1520.7 2392.7 1527 2393 C1533.3 2393.2 1540.1 2395.2 1545.9 2399.7 C1551.8 2404.2 1557.9 2413 1562.2 2420 C1566.4 2427 1570 2434.9 1571.6 2441.6 C1573.2 2448.4 1573.2 2455.6 1571.6 2460.5 C1570 2465.5 1567.3 2468.4 1562.2 2471.4 C1557 2474.3 1547.7 2478.1 1540.5 2478.1 C1533.3 2478.1 1524.8 2475.2 1518.9 2471.4 C1513.1 2467.5 1508.9 2461.4 1505.4 2455.1 C1501.9 2448.8 1499 2441.2 1497.8 2433.5 C1496.7 2425.9 1496.9 2415 1498.6 2409.2Z" fill="none" stroke="#000" stroke-width="3.9"/>
<ellipse cx="1523" cy="2442.2" rx="21.6" ry="34.6" transform="rotate(-20 1523 2442.2)" fill="none" stroke="#000" stroke-width="3.9"/>
<ellipse cx="1524.9" cy="2443" rx="18.9" ry="31.4" transform="rotate(-20 1524.9 2443)" fill="none" stroke="#000" stroke-width="2.0"/>
<path d="M1520.3 2414.6 C1520.4 2417.7 1519.3 2427.7 1521.1 2433.5 C1522.9 2439.3 1527.6 2445.4 1531.1 2449.2 C1534.5 2453 1540.1 2455.3 1541.9 2456.5" fill="none" stroke="#000" stroke-width="2.0"/>
<path d="M1535.1 2395.1 C1538.5 2397.7 1550.1 2403.9 1555.4 2410.5 C1560.7 2417.2 1564.9 2426.5 1567 2434.9 C1569.1 2443.2 1569.3 2454.4 1568.1 2460.5 C1566.9 2466.7 1561.4 2470 1560 2471.9" fill="none" stroke="#000" stroke-width="2.0"/>
<path d="M1524.3 2398.4 C1527.9 2399.7 1539.6 2401.1 1545.9 2406.5 C1552.3 2411.9 1559.1 2422.3 1562.2 2430.8 C1565.2 2439.4 1565.2 2450.9 1564.3 2457.8 C1563.4 2464.8 1558 2470.2 1556.8 2472.7" fill="none" stroke="#000" stroke-width="2.0"/>
<path d="M1710.8 2476.8 C1712.5 2470.9 1715.5 2468.6 1720.3 2465.9 C1725 2463.2 1732.9 2460.3 1739.2 2460.5 C1745.5 2460.8 1752.3 2462.8 1758.1 2467.3 C1764 2471.8 1770 2480.6 1774.3 2487.6 C1778.6 2494.5 1782.2 2502.4 1783.8 2509.2 C1785.4 2515.9 1785.4 2523.2 1783.8 2528.1 C1782.2 2533.1 1779.5 2536 1774.3 2538.9 C1769.1 2541.8 1759.9 2545.7 1752.7 2545.7 C1745.5 2545.7 1736.9 2542.7 1731.1 2538.9 C1725.2 2535.1 1721.1 2529 1717.6 2522.7 C1714.1 2516.4 1711.1 2508.7 1710 2501.1 C1708.9 2493.4 1709.1 2482.6 1710.8 2476.8Z" fill="none" stroke="#000" stroke-width="3.9"/>
<ellipse cx="1735.1" cy="2509.7" rx="21.6" ry="34.6" transform="rotate(-20 1735.1 2509.7)" fill="none" stroke="#000" stroke-width="3.9"/>
<ellipse cx="1737" cy="2510.5" rx="18.9" ry="31.4" transform="rotate(-20 1737 2510.5)" fill="none" stroke="#000" stroke-width="2.0"/>
<path d="M1732.4 2482.2 C1732.6 2485.3 1731.4 2495.3 1733.2 2501.1 C1735 2506.8 1739.8 2512.9 1743.2 2516.8 C1746.7 2520.6 1752.3 2522.8 1754.1 2524.1" fill="none" stroke="#000" stroke-width="2.0"/>
<path d="M1747.3 2462.7 C1750.7 2465.3 1762.3 2471.5 1767.6 2478.1 C1772.9 2484.7 1777.1 2494.1 1779.2 2502.4 C1781.3 2510.8 1781.4 2521.9 1780.3 2528.1 C1779.1 2534.3 1773.5 2537.6 1772.2 2539.5" fill="none" stroke="#000" stroke-width="2.0"/>
<path d="M1736.5 2465.9 C1740.1 2467.3 1751.8 2468.6 1758.1 2474.1 C1764.4 2479.5 1771.3 2489.8 1774.3 2498.4 C1777.4 2506.9 1777.4 2518.4 1776.5 2525.4 C1775.6 2532.4 1770.2 2537.8 1768.9 2540.3" fill="none" stroke="#000" stroke-width="2.0"/>
<path d="M1826.7 2619.8 L1830 2616.7 L1835.7 2613.9 L1841.4 2611.3 L1840.6 2606.9 L1842.9 2602.8 L1846 2600.8 L1853.5 2600.8 L1857.8 2604.6 L1861.4 2608 L1862.7 2610.8 L1862.7 2617.2 L1860.7 2622.4 L1857.6 2624.7 L1849.9 2624.7 L1848.1 2622.6 L1846.8 2624.2 L1841.4 2626.8 L1837.5 2629.6 L1829.8 2629.6 L1828 2626.8 L1826.7 2624.2Z" fill="#000" stroke="#000" stroke-width="0.5"/>
<path d="M1844.5 2608.2 L1845.5 2605.9 L1846.8 2604.6 L1849.4 2604.6 L1851.7 2605.6 L1853.7 2608.2 L1856.6 2612.9 L1856.8 2619.5 L1855.5 2620.8 L1851.7 2620.8 L1853.7 2619.5 L1854.8 2617.2 L1854.5 2612.1 L1851.4 2608 L1848.1 2608 L1846.5 2609.8 L1844.7 2609.8Z" fill="#fff" stroke="none"/>
<path d="M1845.7 2611.8 L1847.5 2611.6 L1849.1 2609.5 L1850.6 2609.8 L1852.7 2612.6 L1852.7 2616.5 L1850.6 2618.5 L1848.1 2618.8 L1846.8 2617 L1844.5 2614.1Z" fill="#fff" stroke="none"/>
<path d="M1835.2 2620.1 L1836.2 2622.4" fill="none" stroke="#fff" stroke-width="0.9"/>
<path d="M1837.3 2618 L1839.3 2619.5 L1839.3 2622.4" fill="none" stroke="#fff" stroke-width="0.9"/>
<path d="M1840.1 2617 L1841.4 2618.3" fill="none" stroke="#fff" stroke-width="0.9"/>
<path d="M1842.9 2615.9 L1845.2 2619.3" fill="none" stroke="#fff" stroke-width="0.9"/>
<path d="M1831.1 2622.9 L1832.4 2625.2" fill="none" stroke="#fff" stroke-width="0.9"/>
<path d="M1842.1 2619.8 L1842.3 2621.4" fill="none" stroke="#fff" stroke-width="0.9"/>
<path d="M1707.6 2613.6 C1709 2612.6 1712.4 2610.2 1716 2607.6 C1719.5 2605 1725.7 2599.9 1729 2598.1 C1732.4 2596.3 1735 2597.1 1736.2 2596.9" fill="none" stroke="#000" stroke-width="3.9"/>
<path d="M1736.2 2596.9 L1774.3 2617.1" fill="none" stroke="#000" stroke-width="3.9"/>
<path d="M1774.3 2617.1 C1775.5 2619.5 1778.8 2625.9 1781.4 2631.4 C1784 2637 1788.6 2646.1 1789.8 2650.5 C1791 2654.8 1790.8 2654.4 1788.6 2657.6 C1786.4 2660.8 1782.2 2666.5 1776.7 2669.5 C1771.1 2672.5 1761.6 2675.9 1755.2 2675.5 C1748.9 2675.1 1744.5 2670.5 1738.6 2667.1 C1732.6 2663.8 1723.7 2660 1719.5 2655.2 C1715.4 2650.5 1715.4 2644.1 1713.6 2638.6 C1711.8 2633 1709.8 2626.1 1708.8 2621.9 C1707.8 2617.7 1707.8 2615 1707.6 2613.6" fill="none" stroke="#000" stroke-width="3.9"/>
<path d="M1711.2 2618.3 C1712.6 2617.1 1716.2 2614 1719.5 2611.2 C1722.9 2608.4 1729.4 2603.3 1731.4 2601.7" fill="none" stroke="#000" stroke-width="3.0"/>
<path d="M1731.4 2601.7 L1771.9 2620.7" fill="none" stroke="#000" stroke-width="3.0"/>
<path d="M1771.9 2620.7 C1773.1 2623.3 1777.1 2631.4 1779 2636.2 C1781 2641 1783 2647.1 1783.8 2649.3" fill="none" stroke="#000" stroke-width="3.0"/>
<path d="M1724.3 2616 L1736.2 2607.6" fill="none" stroke="#000" stroke-width="2.0"/>
<path d="M1736.2 2607.6 L1764.8 2623.1" fill="none" stroke="#000" stroke-width="2.0"/>
<path d="M1764.8 2623.1 C1765.8 2624.5 1769.5 2626.1 1770.7 2631.4 C1771.9 2636.8 1772.9 2648.9 1771.9 2655.2 C1770.9 2661.6 1767.1 2666.7 1764.8 2669.5 C1762.4 2672.3 1758.8 2671.5 1757.6 2671.9" fill="none" stroke="#000" stroke-width="2.0"/>
<path d="M1729 2619.5 C1733.4 2621.5 1750.1 2628.3 1755.2 2631.4 C1760.4 2634.6 1759.4 2632 1760 2638.6 C1760.6 2645.1 1759 2665.4 1758.8 2670.7" fill="none" stroke="#000" stroke-width="2.0"/>
<path d="M1718.3 2626.7 L1729 2620.7 L1733.8 2626.7 L1723.1 2632.6Z" fill="none" stroke="#000" stroke-width="3.9"/>
<path d="M1718.3 2655.2 L1729 2648.1 L1735 2654 L1723.1 2660Z" fill="none" stroke="#000" stroke-width="3.9"/>
<ellipse cx="1779" cy="2655.2" rx="6" ry="8.3" transform="rotate(0 1779 2655.2)" fill="none" stroke="#000" stroke-width="3.9"/>
<ellipse cx="1779" cy="2655.2" rx="1.9" ry="2.4" transform="rotate(0 1779 2655.2)" fill="none" stroke="#000" stroke-width="3.0"/>
<path d="M1707.6 2613.6 L1711.2 2608.8 L1717.1 2610 L1716 2617.1" fill="none" stroke="#000" stroke-width="3.0"/>
<path d="M1648 2819.1 L1649.3 2814.9 L1655.4 2809.5 L1665.7 2804 L1675 2799.5 L1674.1 2795 L1675.4 2789.9 L1677.6 2785.3 L1684.4 2782.1 L1692.1 2782.1 L1700.5 2784.7 L1706.9 2791.1 L1709.8 2796.6 L1710.7 2801.1 L1710.7 2807.5 L1709.1 2814.6 L1706.2 2818.8 L1700.5 2822.7 L1692.4 2822.7 L1686 2818.8 L1678.6 2823.6 L1667.6 2829.1 L1661.8 2832.6 L1658.3 2832.6 L1652.5 2830.1 L1649.3 2824.9Z" fill="#000" stroke="#000" stroke-width="0.5"/>
<path d="M1678.9 2791.1 L1681.1 2787.9 L1686 2786 L1688.9 2787.3 L1693.4 2789.9 L1697.2 2793.1 L1696.9 2795.6 L1699.8 2798.5 L1702.1 2804.3 L1703 2815.3 L1700.5 2817.8 L1698.5 2818.8 L1694.3 2818.8 L1689.8 2816.6 L1694 2812.7 L1696.6 2811.1 L1697.9 2809.5 L1697.9 2804 L1695.9 2799.2 L1690.5 2794 L1686.3 2794 L1681.1 2796.6 L1679.2 2797.9 L1677.9 2795.3Z" fill="#fff" stroke="none"/>
<path d="M1693.1 2787.3 L1697.6 2787.9 L1703.3 2794 L1705.6 2797.9 L1706.9 2802.4 L1706.6 2807.5 L1705.9 2811.7 L1705 2811.7 L1704.6 2805.3 L1702.7 2799.2 L1698.8 2794.7 L1694.7 2789.5Z" fill="#fff" stroke="none"/>
<path d="M1677.9 2802.7 L1681.1 2800.1 L1687.6 2796 L1689.8 2796 L1693.7 2800.1 L1695 2802.4 L1695.9 2806.3 L1695 2809.5 L1693.4 2811.1 L1690.2 2812.7 L1687.9 2814.9 L1684 2814.9 L1683.4 2811.4 L1681.8 2807.5Z" fill="#fff" stroke="none"/>
<path d="M1673.1 2805.6 L1675.4 2804 L1680.2 2808.8 L1681.8 2812.7 L1681.8 2816.2 L1679.2 2817.8 L1678.9 2814 L1677 2810.1Z" fill="#fff" stroke="none"/>
<path d="M1668 2808.2 L1670.5 2806.9 L1675 2811.4 L1677 2815.3 L1676.6 2819.8 L1674.1 2820.7 L1673.7 2815.9 L1671.5 2812.1Z" fill="#fff" stroke="none"/>
<path d="M1662.8 2811.4 L1664.4 2809.8 L1666.7 2809.8 L1669.2 2813.3 L1671.8 2816.9 L1671.8 2822.3 L1669.2 2823.6 L1668.9 2818.8 L1667 2815.3Z" fill="#fff" stroke="none"/>
<path d="M1658 2813 L1661.5 2812.7 L1664.4 2815.9 L1667 2819.1 L1667 2825.6 L1664.1 2826.9 L1663.8 2821.4 L1662.5 2818.8Z" fill="#fff" stroke="none"/>
<path d="M1651.9 2820.1 L1653.2 2817.8 L1654.8 2817.8 L1658 2821.1 L1659.3 2823 L1659.9 2825.9 L1658.6 2828.5 L1656.7 2826.9 L1655.1 2826.9 L1653.2 2823.6Z" fill="#fff" stroke="none"/>
<path d="M1655.1 2815.3 L1660.9 2820.1 L1661.8 2824.3 L1660.9 2824.6 L1659.9 2821.1Z" fill="#fff" stroke="none"/>
<ellipse cx="1453.5" cy="2890.8" rx="31.9" ry="17.6" transform="rotate(0 1453.5 2890.8)" fill="none" stroke="#000" stroke-width="3.9"/>
<ellipse cx="1453.5" cy="2894.9" rx="31.1" ry="16.2" transform="rotate(0 1453.5 2894.9)" fill="none" stroke="#000" stroke-width="3.0"/>
<path d="M1429.2 2873.2 L1473 2869.2 L1473 2886.8 L1429.2 2890.8 Z" fill="#fff" stroke="none"/>
<path d="M1429.2 2874.6 C1430.1 2873.2 1431 2868.5 1434.6 2866.5 C1438.2 2864.5 1445.4 2862.8 1450.8 2862.4 C1456.2 2862.1 1463.3 2863.2 1467 2864.3 C1470.7 2865.5 1472 2868.4 1473 2869.2" fill="none" stroke="#000" stroke-width="3.9"/>
<path d="M1429.2 2874.6 L1429.7 2892.2" fill="none" stroke="#000" stroke-width="3.9"/>
<path d="M1473 2868.6 L1473 2885.9" fill="none" stroke="#000" stroke-width="3.9"/>
<ellipse cx="1454.9" cy="2885.9" rx="18.4" ry="6.8" transform="rotate(0 1454.9 2885.9)" fill="#fff" stroke="#000" stroke-width="3.9"/>
<path d="M1430.5 2893.5 C1432.1 2894.4 1435.9 2897.7 1440 2898.9 C1444.1 2900.2 1449.9 2901.3 1454.9 2901.1 C1459.8 2900.9 1466.1 2899.1 1469.7 2897.6 C1473.3 2896.1 1475.4 2893.1 1476.5 2892.2" fill="none" stroke="#000" stroke-width="3.0"/>
<path d="M1429.2 2904.3 L1431.9 2912.4 L1437.3 2912.4" fill="none" stroke="#000" stroke-width="3.9"/>
</svg></body></html>
